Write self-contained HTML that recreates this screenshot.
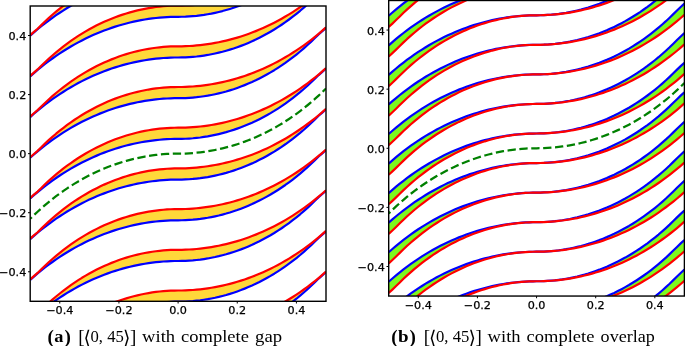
<!DOCTYPE html>
<html><head><meta charset="utf-8"><title>figure</title>
<style>
html,body{margin:0;padding:0;background:#fff}
body{width:685px;height:346px;overflow:hidden;position:relative}
svg{position:absolute;left:0;top:0;display:block}
.tl{font-family:"DejaVu Sans","Liberation Sans",sans-serif;font-size:10.5px;fill:#000;stroke:#000;stroke-width:0.25}
.tk{stroke:#000;stroke-width:1}
.sp{fill:none;stroke:#000;stroke-width:1.4}
.bl{fill:none;stroke:#0000ff;stroke-width:2.2;stroke-linejoin:round}
.rd{fill:none;stroke:#ff0000;stroke-width:2.2;stroke-linejoin:round}
.gd{fill:none;stroke:#008000;stroke-width:2.25;stroke-dasharray:8.3 3.6;stroke-dashoffset:6}
.cap{font-family:"Liberation Serif",serif;font-size:16.8px;fill:#000}
.cap .big{font-size:19px}
.cap .ang{font-family:"DejaVu Sans",sans-serif;font-size:19px}
.cap .b{font-weight:bold}
</style></head><body>
<svg width="685" height="346" viewBox="0 0 685 346">
<rect width="685" height="346" fill="#fff"/>
<clipPath id="cl"><rect x="30.20" y="6.00" width="295.80" height="295.30"/></clipPath><g clip-path="url(#cl)"><path fill="#ffd83a" d="M30.2 442.16 L33.9 438.9 L37.6 435.75 L41.29 432.12 L44.99 428.53 L48.69 425.08 L52.39 421.78 L56.08 418.62 L59.78 415.58 L63.48 412.67 L67.17 409.89 L70.87 407.23 L74.57 404.68 L78.27 402.24 L81.97 399.92 L85.66 397.7 L89.36 395.58 L93.06 393.57 L96.75 391.66 L100.45 389.85 L104.15 388.13 L107.85 386.5 L111.55 384.97 L115.24 383.53 L118.94 382.18 L122.64 380.91 L126.34 379.74 L130.03 378.65 L133.73 377.64 L137.43 376.72 L141.12 375.88 L144.82 375.12 L148.52 374.45 L152.22 373.85 L155.92 373.34 L159.61 372.9 L163.31 372.55 L167.01 372.27 L170.71 372.08 L174.4 371.96 L178.1 371.92 L181.8 371.88 L185.5 371.78 L189.19 371.62 L192.89 371.38 L196.59 371.08 L200.29 370.71 L203.98 370.27 L207.68 369.76 L211.38 369.18 L215.07 368.54 L218.77 367.82 L222.47 367.04 L226.17 366.18 L229.87 365.26 L233.56 364.26 L237.26 363.19 L240.96 362.04 L244.66 360.82 L248.35 359.53 L252.05 358.16 L255.75 356.71 L259.44 355.18 L263.14 353.58 L266.84 351.89 L270.54 350.12 L274.24 348.27 L277.93 346.33 L281.63 344.3 L285.33 342.18 L289.02 339.98 L292.72 337.68 L296.42 335.28 L300.12 332.79 L303.81 330.19 L307.51 327.49 L311.21 324.69 L314.91 321.78 L318.61 318.75 L322.3 315.61 L326 312.35 L326 312.85 L322.3 316.11 L318.61 319.25 L314.91 322.89 L311.21 326.48 L307.51 329.92 L303.81 333.23 L300.12 336.39 L296.42 339.43 L292.72 342.33 L289.02 345.12 L285.33 347.78 L281.63 350.33 L277.93 352.77 L274.24 355.09 L270.54 357.31 L266.84 359.42 L263.14 361.44 L259.44 363.35 L255.75 365.16 L252.05 366.88 L248.35 368.5 L244.66 370.04 L240.96 371.48 L237.26 372.83 L233.56 374.09 L229.87 375.27 L226.17 376.36 L222.47 377.37 L218.77 378.29 L215.07 379.13 L211.38 379.88 L207.68 380.56 L203.98 381.15 L200.29 381.67 L196.59 382.1 L192.89 382.46 L189.19 382.73 L185.5 382.93 L181.8 383.05 L178.1 383.09 L174.4 383.12 L170.71 383.22 L167.01 383.39 L163.31 383.63 L159.61 383.93 L155.92 384.3 L152.22 384.74 L148.52 385.25 L144.82 385.82 L141.12 386.47 L137.43 387.18 L133.73 387.97 L130.03 388.82 L126.34 389.75 L122.64 390.75 L118.94 391.82 L115.24 392.96 L111.55 394.18 L107.85 395.48 L104.15 396.85 L100.45 398.3 L96.75 399.82 L93.06 401.43 L89.36 403.12 L85.66 404.89 L81.97 406.74 L78.27 408.68 L74.57 410.71 L70.87 412.82 L67.17 415.03 L63.48 417.33 L59.78 419.73 L56.08 422.22 L52.39 424.82 L48.69 427.51 L44.99 430.32 L41.29 433.23 L37.6 436.25 L33.9 439.4 L30.2 442.66Z M30.2 401.46 L33.9 398.2 L37.6 395.05 L41.29 391.42 L44.99 387.83 L48.69 384.38 L52.39 381.08 L56.08 377.91 L59.78 374.88 L63.48 371.97 L67.17 369.19 L70.87 366.52 L74.57 363.98 L78.27 361.54 L81.97 359.22 L85.66 357 L89.36 354.88 L93.06 352.87 L96.75 350.96 L100.45 349.14 L104.15 347.43 L107.85 345.8 L111.55 344.27 L115.24 342.83 L118.94 341.48 L122.64 340.21 L126.34 339.04 L130.03 337.95 L133.73 336.94 L137.43 336.02 L141.12 335.18 L144.82 334.42 L148.52 333.75 L152.22 333.15 L155.92 332.64 L159.61 332.2 L163.31 331.85 L167.01 331.57 L170.71 331.37 L174.4 331.26 L178.1 331.22 L181.8 331.18 L185.5 331.08 L189.19 330.91 L192.89 330.68 L196.59 330.38 L200.29 330.01 L203.98 329.57 L207.68 329.06 L211.38 328.48 L215.07 327.84 L218.77 327.12 L222.47 326.34 L226.17 325.48 L229.87 324.56 L233.56 323.56 L237.26 322.49 L240.96 321.34 L244.66 320.12 L248.35 318.83 L252.05 317.46 L255.75 316.01 L259.44 314.48 L263.14 312.88 L266.84 311.19 L270.54 309.42 L274.24 307.57 L277.93 305.63 L281.63 303.6 L285.33 301.48 L289.02 299.28 L292.72 296.97 L296.42 294.58 L300.12 292.08 L303.81 289.49 L307.51 286.79 L311.21 283.99 L314.91 281.08 L318.61 278.05 L322.3 274.91 L326 271.65 L326 272.15 L322.3 275.41 L318.61 278.55 L314.91 282.19 L311.21 285.78 L307.51 289.22 L303.81 292.53 L300.12 295.69 L296.42 298.73 L292.72 301.63 L289.02 304.42 L285.33 307.08 L281.63 309.63 L277.93 312.06 L274.24 314.39 L270.54 316.61 L266.84 318.72 L263.14 320.73 L259.44 322.65 L255.75 324.46 L252.05 326.18 L248.35 327.8 L244.66 329.34 L240.96 330.78 L237.26 332.13 L233.56 333.39 L229.87 334.57 L226.17 335.66 L222.47 336.66 L218.77 337.59 L215.07 338.43 L211.38 339.18 L207.68 339.86 L203.98 340.45 L200.29 340.97 L196.59 341.4 L192.89 341.76 L189.19 342.03 L185.5 342.23 L181.8 342.35 L178.1 342.39 L174.4 342.42 L170.71 342.52 L167.01 342.69 L163.31 342.93 L159.61 343.23 L155.92 343.6 L152.22 344.04 L148.52 344.55 L144.82 345.12 L141.12 345.77 L137.43 346.48 L133.73 347.27 L130.03 348.12 L126.34 349.05 L122.64 350.05 L118.94 351.12 L115.24 352.26 L111.55 353.48 L107.85 354.78 L104.15 356.15 L100.45 357.6 L96.75 359.12 L93.06 360.73 L89.36 362.42 L85.66 364.19 L81.97 366.04 L78.27 367.98 L74.57 370.01 L70.87 372.12 L67.17 374.33 L63.48 376.63 L59.78 379.03 L56.08 381.52 L52.39 384.12 L48.69 386.81 L44.99 389.62 L41.29 392.53 L37.6 395.55 L33.9 398.7 L30.2 401.96Z M30.2 360.76 L33.9 357.49 L37.6 354.35 L41.29 350.71 L44.99 347.13 L48.69 343.68 L52.39 340.38 L56.08 337.21 L59.78 334.18 L63.48 331.27 L67.17 328.49 L70.87 325.82 L74.57 323.28 L78.27 320.84 L81.97 318.51 L85.66 316.3 L89.36 314.18 L93.06 312.17 L96.75 310.26 L100.45 308.44 L104.15 306.73 L107.85 305.1 L111.55 303.57 L115.24 302.13 L118.94 300.78 L122.64 299.51 L126.34 298.34 L130.03 297.25 L133.73 296.24 L137.43 295.32 L141.12 294.48 L144.82 293.72 L148.52 293.05 L152.22 292.45 L155.92 291.94 L159.61 291.5 L163.31 291.15 L167.01 290.87 L170.71 290.67 L174.4 290.56 L178.1 290.52 L181.8 290.48 L185.5 290.38 L189.19 290.21 L192.89 289.98 L196.59 289.68 L200.29 289.3 L203.98 288.87 L207.68 288.36 L211.38 287.78 L215.07 287.14 L218.77 286.42 L222.47 285.64 L226.17 284.78 L229.87 283.86 L233.56 282.86 L237.26 281.79 L240.96 280.64 L244.66 279.42 L248.35 278.13 L252.05 276.76 L255.75 275.31 L259.44 273.78 L263.14 272.18 L266.84 270.49 L270.54 268.72 L274.24 266.86 L277.93 264.93 L281.63 262.9 L285.33 260.78 L289.02 258.57 L292.72 256.27 L296.42 253.88 L300.12 251.38 L303.81 248.79 L307.51 246.09 L311.21 243.29 L314.91 240.38 L318.61 237.35 L322.3 234.21 L326 230.95 L326 231.45 L322.3 234.71 L318.61 237.85 L314.91 241.49 L311.21 245.08 L307.51 248.52 L303.81 251.82 L300.12 254.99 L296.42 258.02 L292.72 260.93 L289.02 263.72 L285.33 266.38 L281.63 268.93 L277.93 271.36 L274.24 273.69 L270.54 275.91 L266.84 278.02 L263.14 280.03 L259.44 281.95 L255.75 283.76 L252.05 285.48 L248.35 287.1 L244.66 288.63 L240.96 290.08 L237.26 291.43 L233.56 292.69 L229.87 293.87 L226.17 294.96 L222.47 295.96 L218.77 296.89 L215.07 297.73 L211.38 298.48 L207.68 299.16 L203.98 299.75 L200.29 300.27 L196.59 300.7 L192.89 301.06 L189.19 301.33 L185.5 301.53 L181.8 301.65 L178.1 301.69 L174.4 301.72 L170.71 301.82 L167.01 301.99 L163.31 302.23 L159.61 302.53 L155.92 302.9 L152.22 303.34 L148.52 303.85 L144.82 304.42 L141.12 305.07 L137.43 305.78 L133.73 306.57 L130.03 307.42 L126.34 308.35 L122.64 309.35 L118.94 310.42 L115.24 311.56 L111.55 312.78 L107.85 314.08 L104.15 315.45 L100.45 316.9 L96.75 318.42 L93.06 320.03 L89.36 321.72 L85.66 323.49 L81.97 325.34 L78.27 327.28 L74.57 329.31 L70.87 331.42 L67.17 333.63 L63.48 335.93 L59.78 338.33 L56.08 340.82 L52.39 343.41 L48.69 346.11 L44.99 348.92 L41.29 351.83 L37.6 354.85 L33.9 357.99 L30.2 361.26Z M30.2 320.06 L33.9 316.79 L37.6 313.65 L41.29 310.01 L44.99 306.42 L48.69 302.98 L52.39 299.68 L56.08 296.51 L59.78 293.48 L63.48 290.57 L67.17 287.79 L70.87 285.12 L74.57 282.58 L78.27 280.14 L81.97 277.81 L85.66 275.6 L89.36 273.48 L93.06 271.47 L96.75 269.56 L100.45 267.74 L104.15 266.03 L107.85 264.4 L111.55 262.87 L115.24 261.43 L118.94 260.08 L122.64 258.81 L126.34 257.64 L130.03 256.55 L133.73 255.54 L137.43 254.62 L141.12 253.78 L144.82 253.02 L148.52 252.34 L152.22 251.75 L155.92 251.24 L159.61 250.8 L163.31 250.45 L167.01 250.17 L170.71 249.97 L174.4 249.86 L178.1 249.82 L181.8 249.78 L185.5 249.68 L189.19 249.51 L192.89 249.28 L196.59 248.98 L200.29 248.6 L203.98 248.17 L207.68 247.66 L211.38 247.08 L215.07 246.44 L218.77 245.72 L222.47 244.94 L226.17 244.08 L229.87 243.16 L233.56 242.16 L237.26 241.09 L240.96 239.94 L244.66 238.72 L248.35 237.43 L252.05 236.06 L255.75 234.61 L259.44 233.08 L263.14 231.48 L266.84 229.79 L270.54 228.02 L274.24 226.16 L277.93 224.22 L281.63 222.2 L285.33 220.08 L289.02 217.87 L292.72 215.57 L296.42 213.18 L300.12 210.68 L303.81 208.09 L307.51 205.39 L311.21 202.59 L314.91 199.68 L318.61 196.65 L322.3 193.51 L326 190.25 L326 190.75 L322.3 194.01 L318.61 197.15 L314.91 200.79 L311.21 204.38 L307.51 207.82 L303.81 211.12 L300.12 214.29 L296.42 217.32 L292.72 220.23 L289.02 223.02 L285.33 225.68 L281.63 228.23 L277.93 230.66 L274.24 232.99 L270.54 235.21 L266.84 237.32 L263.14 239.33 L259.44 241.25 L255.75 243.06 L252.05 244.78 L248.35 246.4 L244.66 247.93 L240.96 249.38 L237.26 250.73 L233.56 251.99 L229.87 253.17 L226.17 254.26 L222.47 255.26 L218.77 256.19 L215.07 257.03 L211.38 257.78 L207.68 258.46 L203.98 259.05 L200.29 259.57 L196.59 260 L192.89 260.36 L189.19 260.63 L185.5 260.83 L181.8 260.95 L178.1 260.99 L174.4 261.02 L170.71 261.12 L167.01 261.29 L163.31 261.52 L159.61 261.83 L155.92 262.2 L152.22 262.64 L148.52 263.15 L144.82 263.72 L141.12 264.37 L137.43 265.08 L133.73 265.87 L130.03 266.72 L126.34 267.65 L122.64 268.65 L118.94 269.72 L115.24 270.86 L111.55 272.08 L107.85 273.38 L104.15 274.75 L100.45 276.19 L96.75 277.72 L93.06 279.33 L89.36 281.01 L85.66 282.78 L81.97 284.64 L78.27 286.58 L74.57 288.61 L70.87 290.72 L67.17 292.93 L63.48 295.23 L59.78 297.63 L56.08 300.12 L52.39 302.71 L48.69 305.41 L44.99 308.22 L41.29 311.13 L37.6 314.15 L33.9 317.29 L30.2 320.56Z M30.2 279.35 L33.9 276.09 L37.6 272.95 L41.29 269.31 L44.99 265.72 L48.69 262.28 L52.39 258.98 L56.08 255.81 L59.78 252.78 L63.48 249.87 L67.17 247.09 L70.87 244.42 L74.57 241.87 L78.27 239.44 L81.97 237.11 L85.66 234.89 L89.36 232.78 L93.06 230.77 L96.75 228.86 L100.45 227.04 L104.15 225.32 L107.85 223.7 L111.55 222.17 L115.24 220.73 L118.94 219.38 L122.64 218.11 L126.34 216.94 L130.03 215.84 L133.73 214.84 L137.43 213.92 L141.12 213.08 L144.82 212.32 L148.52 211.64 L152.22 211.05 L155.92 210.54 L159.61 210.1 L163.31 209.75 L167.01 209.47 L170.71 209.27 L174.4 209.15 L178.1 209.12 L181.8 209.08 L185.5 208.98 L189.19 208.81 L192.89 208.58 L196.59 208.27 L200.29 207.9 L203.98 207.46 L207.68 206.96 L211.38 206.38 L215.07 205.74 L218.77 205.02 L222.47 204.24 L226.17 203.38 L229.87 202.45 L233.56 201.46 L237.26 200.38 L240.96 199.24 L244.66 198.02 L248.35 196.73 L252.05 195.36 L255.75 193.91 L259.44 192.38 L263.14 190.77 L266.84 189.09 L270.54 187.32 L274.24 185.46 L277.93 183.52 L281.63 181.5 L285.33 179.38 L289.02 177.17 L292.72 174.87 L296.42 172.48 L300.12 169.98 L303.81 167.39 L307.51 164.69 L311.21 161.89 L314.91 158.97 L318.61 155.95 L322.3 152.81 L326 149.55 L326 150.05 L322.3 153.31 L318.61 156.45 L314.91 160.09 L311.21 163.68 L307.51 167.12 L303.81 170.42 L300.12 173.59 L296.42 176.62 L292.72 179.53 L289.02 182.31 L285.33 184.98 L281.63 187.53 L277.93 189.96 L274.24 192.29 L270.54 194.51 L266.84 196.62 L263.14 198.63 L259.44 200.54 L255.75 202.36 L252.05 204.08 L248.35 205.7 L244.66 207.23 L240.96 208.67 L237.26 210.03 L233.56 211.29 L229.87 212.47 L226.17 213.56 L222.47 214.56 L218.77 215.49 L215.07 216.32 L211.38 217.08 L207.68 217.76 L203.98 218.35 L200.29 218.87 L196.59 219.3 L192.89 219.66 L189.19 219.93 L185.5 220.13 L181.8 220.25 L178.1 220.29 L174.4 220.32 L170.71 220.42 L167.01 220.59 L163.31 220.82 L159.61 221.13 L155.92 221.5 L152.22 221.94 L148.52 222.44 L144.82 223.02 L141.12 223.67 L137.43 224.38 L133.73 225.17 L130.03 226.02 L126.34 226.95 L122.64 227.95 L118.94 229.02 L115.24 230.16 L111.55 231.38 L107.85 232.68 L104.15 234.05 L100.45 235.49 L96.75 237.02 L93.06 238.63 L89.36 240.31 L85.66 242.08 L81.97 243.94 L78.27 245.88 L74.57 247.9 L70.87 250.02 L67.17 252.23 L63.48 254.53 L59.78 256.93 L56.08 259.42 L52.39 262.01 L48.69 264.71 L44.99 267.51 L41.29 270.43 L37.6 273.45 L33.9 276.59 L30.2 279.85Z M30.2 238.65 L33.9 235.39 L37.6 232.25 L41.29 228.61 L44.99 225.02 L48.69 221.58 L52.39 218.28 L56.08 215.11 L59.78 212.08 L63.48 209.17 L67.17 206.39 L70.87 203.72 L74.57 201.17 L78.27 198.74 L81.97 196.41 L85.66 194.19 L89.36 192.08 L93.06 190.07 L96.75 188.16 L100.45 186.34 L104.15 184.62 L107.85 183 L111.55 181.47 L115.24 180.03 L118.94 178.68 L122.64 177.41 L126.34 176.24 L130.03 175.14 L133.73 174.14 L137.43 173.22 L141.12 172.38 L144.82 171.62 L148.52 170.94 L152.22 170.35 L155.92 169.83 L159.61 169.4 L163.31 169.04 L167.01 168.77 L170.71 168.57 L174.4 168.45 L178.1 168.41 L181.8 168.38 L185.5 168.28 L189.19 168.11 L192.89 167.88 L196.59 167.57 L200.29 167.2 L203.98 166.76 L207.68 166.26 L211.38 165.68 L215.07 165.04 L218.77 164.32 L222.47 163.54 L226.17 162.68 L229.87 161.75 L233.56 160.76 L237.26 159.68 L240.96 158.54 L244.66 157.32 L248.35 156.03 L252.05 154.66 L255.75 153.21 L259.44 151.68 L263.14 150.07 L266.84 148.39 L270.54 146.62 L274.24 144.76 L277.93 142.82 L281.63 140.8 L285.33 138.68 L289.02 136.47 L292.72 134.17 L296.42 131.78 L300.12 129.28 L303.81 126.69 L307.51 123.99 L311.21 121.19 L314.91 118.27 L318.61 115.25 L322.3 112.11 L326 108.85 L326 109.35 L322.3 112.61 L318.61 115.75 L314.91 119.39 L311.21 122.98 L307.51 126.42 L303.81 129.72 L300.12 132.89 L296.42 135.92 L292.72 138.83 L289.02 141.61 L285.33 144.28 L281.63 146.83 L277.93 149.26 L274.24 151.59 L270.54 153.81 L266.84 155.92 L263.14 157.93 L259.44 159.84 L255.75 161.66 L252.05 163.38 L248.35 165 L244.66 166.53 L240.96 167.97 L237.26 169.33 L233.56 170.59 L229.87 171.77 L226.17 172.86 L222.47 173.86 L218.77 174.78 L215.07 175.62 L211.38 176.38 L207.68 177.06 L203.98 177.65 L200.29 178.17 L196.59 178.6 L192.89 178.96 L189.19 179.23 L185.5 179.43 L181.8 179.55 L178.1 179.59 L174.4 179.62 L170.71 179.72 L167.01 179.89 L163.31 180.12 L159.61 180.43 L155.92 180.8 L152.22 181.24 L148.52 181.74 L144.82 182.32 L141.12 182.97 L137.43 183.68 L133.73 184.46 L130.03 185.32 L126.34 186.25 L122.64 187.25 L118.94 188.32 L115.24 189.46 L111.55 190.68 L107.85 191.97 L104.15 193.35 L100.45 194.79 L96.75 196.32 L93.06 197.93 L89.36 199.61 L85.66 201.38 L81.97 203.24 L78.27 205.18 L74.57 207.2 L70.87 209.32 L67.17 211.53 L63.48 213.83 L59.78 216.22 L56.08 218.72 L52.39 221.31 L48.69 224.01 L44.99 226.81 L41.29 229.73 L37.6 232.75 L33.9 235.89 L30.2 239.15Z M30.2 197.95 L33.9 194.69 L37.6 191.55 L41.29 187.91 L44.99 184.32 L48.69 180.88 L52.39 177.58 L56.08 174.41 L59.78 171.38 L63.48 168.47 L67.17 165.69 L70.87 163.02 L74.57 160.47 L78.27 158.04 L81.97 155.71 L85.66 153.49 L89.36 151.38 L93.06 149.37 L96.75 147.46 L100.45 145.64 L104.15 143.92 L107.85 142.3 L111.55 140.77 L115.24 139.33 L118.94 137.97 L122.64 136.71 L126.34 135.53 L130.03 134.44 L133.73 133.44 L137.43 132.52 L141.12 131.68 L144.82 130.92 L148.52 130.24 L152.22 129.65 L155.92 129.13 L159.61 128.7 L163.31 128.34 L167.01 128.07 L170.71 127.87 L174.4 127.75 L178.1 127.71 L181.8 127.68 L185.5 127.58 L189.19 127.41 L192.89 127.18 L196.59 126.87 L200.29 126.5 L203.98 126.06 L207.68 125.56 L211.38 124.98 L215.07 124.33 L218.77 123.62 L222.47 122.84 L226.17 121.98 L229.87 121.05 L233.56 120.05 L237.26 118.98 L240.96 117.84 L244.66 116.62 L248.35 115.33 L252.05 113.95 L255.75 112.51 L259.44 110.98 L263.14 109.37 L266.84 107.69 L270.54 105.92 L274.24 104.06 L277.93 102.12 L281.63 100.1 L285.33 97.98 L289.02 95.77 L292.72 93.47 L296.42 91.08 L300.12 88.58 L303.81 85.99 L307.51 83.29 L311.21 80.49 L314.91 77.57 L318.61 74.55 L322.3 71.41 L326 68.15 L326 68.65 L322.3 71.91 L318.61 75.05 L314.91 78.69 L311.21 82.28 L307.51 85.72 L303.81 89.02 L300.12 92.19 L296.42 95.22 L292.72 98.13 L289.02 100.91 L285.33 103.58 L281.63 106.13 L277.93 108.56 L274.24 110.89 L270.54 113.11 L266.84 115.22 L263.14 117.23 L259.44 119.14 L255.75 120.96 L252.05 122.68 L248.35 124.3 L244.66 125.83 L240.96 127.27 L237.26 128.62 L233.56 129.89 L229.87 131.06 L226.17 132.16 L222.47 133.16 L218.77 134.08 L215.07 134.92 L211.38 135.68 L207.68 136.36 L203.98 136.95 L200.29 137.47 L196.59 137.9 L192.89 138.26 L189.19 138.53 L185.5 138.73 L181.8 138.85 L178.1 138.88 L174.4 138.92 L170.71 139.02 L167.01 139.19 L163.31 139.42 L159.61 139.73 L155.92 140.1 L152.22 140.54 L148.52 141.04 L144.82 141.62 L141.12 142.26 L137.43 142.98 L133.73 143.76 L130.03 144.62 L126.34 145.55 L122.64 146.54 L118.94 147.62 L115.24 148.76 L111.55 149.98 L107.85 151.27 L104.15 152.64 L100.45 154.09 L96.75 155.62 L93.06 157.23 L89.36 158.91 L85.66 160.68 L81.97 162.54 L78.27 164.48 L74.57 166.5 L70.87 168.62 L67.17 170.83 L63.48 173.13 L59.78 175.52 L56.08 178.02 L52.39 180.61 L48.69 183.31 L44.99 186.11 L41.29 189.03 L37.6 192.05 L33.9 195.19 L30.2 198.45Z M30.2 157.25 L33.9 153.99 L37.6 150.85 L41.29 147.21 L44.99 143.62 L48.69 140.18 L52.39 136.88 L56.08 133.71 L59.78 130.68 L63.48 127.77 L67.17 124.99 L70.87 122.32 L74.57 119.77 L78.27 117.34 L81.97 115.01 L85.66 112.79 L89.36 110.68 L93.06 108.67 L96.75 106.76 L100.45 104.94 L104.15 103.22 L107.85 101.6 L111.55 100.07 L115.24 98.63 L118.94 97.27 L122.64 96.01 L126.34 94.83 L130.03 93.74 L133.73 92.74 L137.43 91.81 L141.12 90.98 L144.82 90.22 L148.52 89.54 L152.22 88.95 L155.92 88.43 L159.61 88 L163.31 87.64 L167.01 87.37 L170.71 87.17 L174.4 87.05 L178.1 87.01 L181.8 86.98 L185.5 86.88 L189.19 86.71 L192.89 86.48 L196.59 86.17 L200.29 85.8 L203.98 85.36 L207.68 84.86 L211.38 84.28 L215.07 83.63 L218.77 82.92 L222.47 82.13 L226.17 81.28 L229.87 80.35 L233.56 79.35 L237.26 78.28 L240.96 77.14 L244.66 75.92 L248.35 74.62 L252.05 73.25 L255.75 71.81 L259.44 70.28 L263.14 68.67 L266.84 66.99 L270.54 65.22 L274.24 63.36 L277.93 61.42 L281.63 59.4 L285.33 57.28 L289.02 55.07 L292.72 52.77 L296.42 50.37 L300.12 47.88 L303.81 45.29 L307.51 42.59 L311.21 39.79 L314.91 36.87 L318.61 33.85 L322.3 30.71 L326 27.45 L326 27.95 L322.3 31.21 L318.61 34.35 L314.91 37.99 L311.21 41.58 L307.51 45.02 L303.81 48.32 L300.12 51.49 L296.42 54.52 L292.72 57.43 L289.02 60.21 L285.33 62.88 L281.63 65.43 L277.93 67.86 L274.24 70.19 L270.54 72.41 L266.84 74.52 L263.14 76.53 L259.44 78.44 L255.75 80.26 L252.05 81.98 L248.35 83.6 L244.66 85.13 L240.96 86.57 L237.26 87.92 L233.56 89.19 L229.87 90.36 L226.17 91.46 L222.47 92.46 L218.77 93.38 L215.07 94.22 L211.38 94.98 L207.68 95.66 L203.98 96.25 L200.29 96.76 L196.59 97.2 L192.89 97.55 L189.19 97.83 L185.5 98.03 L181.8 98.15 L178.1 98.18 L174.4 98.22 L170.71 98.32 L167.01 98.49 L163.31 98.72 L159.61 99.03 L155.92 99.4 L152.22 99.84 L148.52 100.34 L144.82 100.92 L141.12 101.56 L137.43 102.28 L133.73 103.06 L130.03 103.92 L126.34 104.85 L122.64 105.84 L118.94 106.92 L115.24 108.06 L111.55 109.28 L107.85 110.57 L104.15 111.94 L100.45 113.39 L96.75 114.92 L93.06 116.53 L89.36 118.21 L85.66 119.98 L81.97 121.84 L78.27 123.78 L74.57 125.8 L70.87 127.92 L67.17 130.13 L63.48 132.43 L59.78 134.82 L56.08 137.32 L52.39 139.91 L48.69 142.61 L44.99 145.41 L41.29 148.33 L37.6 151.35 L33.9 154.49 L30.2 157.75Z M30.2 116.55 L33.9 113.29 L37.6 110.15 L41.29 106.51 L44.99 102.92 L48.69 99.48 L52.39 96.18 L56.08 93.01 L59.78 89.98 L63.48 87.07 L67.17 84.28 L70.87 81.62 L74.57 79.07 L78.27 76.64 L81.97 74.31 L85.66 72.09 L89.36 69.98 L93.06 67.97 L96.75 66.05 L100.45 64.24 L104.15 62.52 L107.85 60.9 L111.55 59.37 L115.24 57.92 L118.94 56.57 L122.64 55.31 L126.34 54.13 L130.03 53.04 L133.73 52.04 L137.43 51.11 L141.12 50.27 L144.82 49.52 L148.52 48.84 L152.22 48.25 L155.92 47.73 L159.61 47.3 L163.31 46.94 L167.01 46.67 L170.71 46.47 L174.4 46.35 L178.1 46.31 L181.8 46.28 L185.5 46.18 L189.19 46.01 L192.89 45.78 L196.59 45.47 L200.29 45.1 L203.98 44.66 L207.68 44.15 L211.38 43.58 L215.07 42.93 L218.77 42.22 L222.47 41.43 L226.17 40.58 L229.87 39.65 L233.56 38.65 L237.26 37.58 L240.96 36.44 L244.66 35.22 L248.35 33.92 L252.05 32.55 L255.75 31.11 L259.44 29.58 L263.14 27.97 L266.84 26.29 L270.54 24.52 L274.24 22.66 L277.93 20.72 L281.63 18.69 L285.33 16.58 L289.02 14.37 L292.72 12.07 L296.42 9.67 L300.12 7.18 L303.81 4.59 L307.51 1.89 L311.21 -0.92 L314.91 -3.83 L318.61 -6.85 L322.3 -9.99 L326 -13.26 L326 -12.76 L322.3 -9.49 L318.61 -6.35 L314.91 -2.71 L311.21 0.88 L307.51 4.32 L303.81 7.62 L300.12 10.79 L296.42 13.82 L292.72 16.73 L289.02 19.51 L285.33 22.18 L281.63 24.72 L277.93 27.16 L274.24 29.49 L270.54 31.7 L266.84 33.82 L263.14 35.83 L259.44 37.74 L255.75 39.56 L252.05 41.27 L248.35 42.9 L244.66 44.43 L240.96 45.87 L237.26 47.22 L233.56 48.49 L229.87 49.66 L226.17 50.75 L222.47 51.76 L218.77 52.68 L215.07 53.52 L211.38 54.28 L207.68 54.96 L203.98 55.55 L200.29 56.06 L196.59 56.5 L192.89 56.85 L189.19 57.13 L185.5 57.33 L181.8 57.44 L178.1 57.48 L174.4 57.52 L170.71 57.62 L167.01 57.79 L163.31 58.02 L159.61 58.32 L155.92 58.7 L152.22 59.13 L148.52 59.64 L144.82 60.22 L141.12 60.86 L137.43 61.58 L133.73 62.36 L130.03 63.22 L126.34 64.14 L122.64 65.14 L118.94 66.21 L115.24 67.36 L111.55 68.58 L107.85 69.87 L104.15 71.24 L100.45 72.69 L96.75 74.22 L93.06 75.82 L89.36 77.51 L85.66 79.28 L81.97 81.14 L78.27 83.08 L74.57 85.1 L70.87 87.22 L67.17 89.43 L63.48 91.73 L59.78 94.12 L56.08 96.62 L52.39 99.21 L48.69 101.91 L44.99 104.71 L41.29 107.62 L37.6 110.65 L33.9 113.79 L30.2 117.05Z M30.2 75.85 L33.9 72.59 L37.6 69.45 L41.29 65.81 L44.99 62.22 L48.69 58.78 L52.39 55.48 L56.08 52.31 L59.78 49.28 L63.48 46.37 L67.17 43.58 L70.87 40.92 L74.57 38.37 L78.27 35.94 L81.97 33.61 L85.66 31.39 L89.36 29.28 L93.06 27.27 L96.75 25.35 L100.45 23.54 L104.15 21.82 L107.85 20.2 L111.55 18.67 L115.24 17.22 L118.94 15.87 L122.64 14.61 L126.34 13.43 L130.03 12.34 L133.73 11.34 L137.43 10.41 L141.12 9.57 L144.82 8.82 L148.52 8.14 L152.22 7.55 L155.92 7.03 L159.61 6.6 L163.31 6.24 L167.01 5.97 L170.71 5.77 L174.4 5.65 L178.1 5.61 L181.8 5.58 L185.5 5.48 L189.19 5.31 L192.89 5.07 L196.59 4.77 L200.29 4.4 L203.98 3.96 L207.68 3.45 L211.38 2.88 L215.07 2.23 L218.77 1.52 L222.47 0.73 L226.17 -0.12 L229.87 -1.05 L233.56 -2.05 L237.26 -3.12 L240.96 -4.26 L244.66 -5.48 L248.35 -6.78 L252.05 -8.15 L255.75 -9.6 L259.44 -11.12 L263.14 -12.73 L266.84 -14.42 L270.54 -16.19 L274.24 -18.04 L277.93 -19.98 L281.63 -22.01 L285.33 -24.12 L289.02 -26.33 L292.72 -28.63 L296.42 -31.03 L300.12 -33.52 L303.81 -36.11 L307.51 -38.81 L311.21 -41.62 L314.91 -44.53 L318.61 -47.55 L322.3 -50.69 L326 -53.96 L326 -53.46 L322.3 -50.19 L318.61 -47.05 L314.91 -43.41 L311.21 -39.83 L307.51 -36.38 L303.81 -33.08 L300.12 -29.91 L296.42 -26.88 L292.72 -23.97 L289.02 -21.19 L285.33 -18.52 L281.63 -15.98 L277.93 -13.54 L274.24 -11.21 L270.54 -9 L266.84 -6.88 L263.14 -4.87 L259.44 -2.96 L255.75 -1.14 L252.05 0.57 L248.35 2.2 L244.66 3.73 L240.96 5.17 L237.26 6.52 L233.56 7.79 L229.87 8.96 L226.17 10.05 L222.47 11.06 L218.77 11.98 L215.07 12.82 L211.38 13.58 L207.68 14.25 L203.98 14.85 L200.29 15.36 L196.59 15.8 L192.89 16.15 L189.19 16.43 L185.5 16.63 L181.8 16.74 L178.1 16.78 L174.4 16.82 L170.71 16.92 L167.01 17.09 L163.31 17.32 L159.61 17.62 L155.92 18 L152.22 18.43 L148.52 18.94 L144.82 19.52 L141.12 20.16 L137.43 20.88 L133.73 21.66 L130.03 22.52 L126.34 23.44 L122.64 24.44 L118.94 25.51 L115.24 26.66 L111.55 27.88 L107.85 29.17 L104.15 30.54 L100.45 31.99 L96.75 33.52 L93.06 35.12 L89.36 36.81 L85.66 38.58 L81.97 40.44 L78.27 42.37 L74.57 44.4 L70.87 46.52 L67.17 48.73 L63.48 51.03 L59.78 53.42 L56.08 55.92 L52.39 58.51 L48.69 61.21 L44.99 64.01 L41.29 66.92 L37.6 69.95 L33.9 73.09 L30.2 76.35Z M30.2 35.15 L33.9 31.89 L37.6 28.75 L41.29 25.11 L44.99 21.52 L48.69 18.08 L52.39 14.77 L56.08 11.61 L59.78 8.57 L63.48 5.67 L67.17 2.88 L70.87 0.22 L74.57 -2.33 L78.27 -4.76 L81.97 -7.09 L85.66 -9.31 L89.36 -11.42 L93.06 -13.43 L96.75 -15.35 L100.45 -17.16 L104.15 -18.88 L107.85 -20.5 L111.55 -22.04 L115.24 -23.48 L118.94 -24.83 L122.64 -26.09 L126.34 -27.27 L130.03 -28.36 L133.73 -29.36 L137.43 -30.29 L141.12 -31.13 L144.82 -31.88 L148.52 -32.56 L152.22 -33.15 L155.92 -33.67 L159.61 -34.1 L163.31 -34.46 L167.01 -34.73 L170.71 -34.93 L174.4 -35.05 L178.1 -35.09 L181.8 -35.12 L185.5 -35.22 L189.19 -35.39 L192.89 -35.63 L196.59 -35.93 L200.29 -36.3 L203.98 -36.74 L207.68 -37.25 L211.38 -37.82 L215.07 -38.47 L218.77 -39.18 L222.47 -39.97 L226.17 -40.82 L229.87 -41.75 L233.56 -42.75 L237.26 -43.82 L240.96 -44.96 L244.66 -46.18 L248.35 -47.48 L252.05 -48.85 L255.75 -50.3 L259.44 -51.82 L263.14 -53.43 L266.84 -55.12 L270.54 -56.89 L274.24 -58.74 L277.93 -60.68 L281.63 -62.71 L285.33 -64.82 L289.02 -67.03 L292.72 -69.33 L296.42 -71.73 L300.12 -74.22 L303.81 -76.82 L307.51 -79.51 L311.21 -82.32 L314.91 -85.23 L318.61 -88.25 L322.3 -91.4 L326 -94.66 L326 -94.16 L322.3 -90.9 L318.61 -87.75 L314.91 -84.12 L311.21 -80.53 L307.51 -77.08 L303.81 -73.78 L300.12 -70.61 L296.42 -67.58 L292.72 -64.67 L289.02 -61.89 L285.33 -59.22 L281.63 -56.68 L277.93 -54.24 L274.24 -51.92 L270.54 -49.7 L266.84 -47.58 L263.14 -45.57 L259.44 -43.66 L255.75 -41.84 L252.05 -40.13 L248.35 -38.5 L244.66 -36.97 L240.96 -35.53 L237.26 -34.18 L233.56 -32.91 L229.87 -31.74 L226.17 -30.65 L222.47 -29.64 L218.77 -28.72 L215.07 -27.88 L211.38 -27.12 L207.68 -26.45 L203.98 -25.85 L200.29 -25.34 L196.59 -24.9 L192.89 -24.55 L189.19 -24.27 L185.5 -24.07 L181.8 -23.96 L178.1 -23.92 L174.4 -23.88 L170.71 -23.78 L167.01 -23.61 L163.31 -23.38 L159.61 -23.08 L155.92 -22.71 L152.22 -22.27 L148.52 -21.76 L144.82 -21.18 L141.12 -20.54 L137.43 -19.82 L133.73 -19.04 L130.03 -18.18 L126.34 -17.26 L122.64 -16.26 L118.94 -15.19 L115.24 -14.04 L111.55 -12.82 L107.85 -11.53 L104.15 -10.16 L100.45 -8.71 L96.75 -7.18 L93.06 -5.58 L89.36 -3.89 L85.66 -2.12 L81.97 -0.27 L78.27 1.67 L74.57 3.7 L70.87 5.82 L67.17 8.02 L63.48 10.33 L59.78 12.72 L56.08 15.22 L52.39 17.81 L48.69 20.51 L44.99 23.31 L41.29 26.22 L37.6 29.25 L33.9 32.39 L30.2 35.65Z M30.2 -5.55 L33.9 -8.81 L37.6 -11.95 L41.29 -15.59 L44.99 -19.18 L48.69 -22.62 L52.39 -25.93 L56.08 -29.09 L59.78 -32.13 L63.48 -35.03 L67.17 -37.82 L70.87 -40.48 L74.57 -43.03 L78.27 -45.47 L81.97 -47.79 L85.66 -50.01 L89.36 -52.12 L93.06 -54.14 L96.75 -56.05 L100.45 -57.86 L104.15 -59.58 L107.85 -61.2 L111.55 -62.74 L115.24 -64.18 L118.94 -65.53 L122.64 -66.79 L126.34 -67.97 L130.03 -69.06 L133.73 -70.07 L137.43 -70.99 L141.12 -71.83 L144.82 -72.58 L148.52 -73.26 L152.22 -73.85 L155.92 -74.37 L159.61 -74.8 L163.31 -75.16 L167.01 -75.43 L170.71 -75.63 L174.4 -75.75 L178.1 -75.79 L181.8 -75.82 L185.5 -75.92 L189.19 -76.09 L192.89 -76.33 L196.59 -76.63 L200.29 -77 L203.98 -77.44 L207.68 -77.95 L211.38 -78.52 L215.07 -79.17 L218.77 -79.88 L222.47 -80.67 L226.17 -81.52 L229.87 -82.45 L233.56 -83.45 L237.26 -84.52 L240.96 -85.66 L244.66 -86.88 L248.35 -88.18 L252.05 -89.55 L255.75 -91 L259.44 -92.52 L263.14 -94.13 L266.84 -95.82 L270.54 -97.59 L274.24 -99.44 L277.93 -101.38 L281.63 -103.41 L285.33 -105.52 L289.02 -107.73 L292.72 -110.03 L296.42 -112.43 L300.12 -114.92 L303.81 -117.52 L307.51 -120.21 L311.21 -123.02 L314.91 -125.93 L318.61 -128.95 L322.3 -132.1 L326 -135.36 L326 -134.86 L322.3 -131.6 L318.61 -128.45 L314.91 -124.82 L311.21 -121.23 L307.51 -117.78 L303.81 -114.48 L300.12 -111.32 L296.42 -108.28 L292.72 -105.37 L289.02 -102.59 L285.33 -99.93 L281.63 -97.38 L277.93 -94.94 L274.24 -92.62 L270.54 -90.4 L266.84 -88.28 L263.14 -86.27 L259.44 -84.36 L255.75 -82.55 L252.05 -80.83 L248.35 -79.2 L244.66 -77.67 L240.96 -76.23 L237.26 -74.88 L233.56 -73.61 L229.87 -72.44 L226.17 -71.35 L222.47 -70.34 L218.77 -69.42 L215.07 -68.58 L211.38 -67.82 L207.68 -67.15 L203.98 -66.55 L200.29 -66.04 L196.59 -65.6 L192.89 -65.25 L189.19 -64.97 L185.5 -64.78 L181.8 -64.66 L178.1 -64.62 L174.4 -64.58 L170.71 -64.48 L167.01 -64.32 L163.31 -64.08 L159.61 -63.78 L155.92 -63.41 L152.22 -62.97 L148.52 -62.46 L144.82 -61.88 L141.12 -61.24 L137.43 -60.52 L133.73 -59.74 L130.03 -58.88 L126.34 -57.96 L122.64 -56.96 L118.94 -55.89 L115.24 -54.74 L111.55 -53.52 L107.85 -52.23 L104.15 -50.86 L100.45 -49.41 L96.75 -47.88 L93.06 -46.28 L89.36 -44.59 L85.66 -42.82 L81.97 -40.97 L78.27 -39.03 L74.57 -37 L70.87 -34.88 L67.17 -32.68 L63.48 -30.38 L59.78 -27.98 L56.08 -25.49 L52.39 -22.89 L48.69 -20.19 L44.99 -17.39 L41.29 -14.48 L37.6 -11.45 L33.9 -8.31 L30.2 -5.05Z"/><path class="bl" d="M30.2 442.66 L33.9 439.4 L37.6 436.25 L41.29 433.23 L44.99 430.32 L48.69 427.51 L52.39 424.82 L56.08 422.22 L59.78 419.73 L63.48 417.33 L67.17 415.03 L70.87 412.82 L74.57 410.71 L78.27 408.68 L81.97 406.74 L85.66 404.89 L89.36 403.12 L93.06 401.43 L96.75 399.82 L100.45 398.3 L104.15 396.85 L107.85 395.48 L111.55 394.18 L115.24 392.96 L118.94 391.82 L122.64 390.75 L126.34 389.75 L130.03 388.82 L133.73 387.97 L137.43 387.18 L141.12 386.47 L144.82 385.82 L148.52 385.25 L152.22 384.74 L155.92 384.3 L159.61 383.93 L163.31 383.63 L167.01 383.39 L170.71 383.22 L174.4 383.12 L178.1 383.09 L181.8 383.05 L185.5 382.93 L189.19 382.73 L192.89 382.46 L196.59 382.1 L200.29 381.67 L203.98 381.15 L207.68 380.56 L211.38 379.88 L215.07 379.13 L218.77 378.29 L222.47 377.37 L226.17 376.36 L229.87 375.27 L233.56 374.09 L237.26 372.83 L240.96 371.48 L244.66 370.04 L248.35 368.5 L252.05 366.88 L255.75 365.16 L259.44 363.35 L263.14 361.44 L266.84 359.42 L270.54 357.31 L274.24 355.09 L277.93 352.77 L281.63 350.33 L285.33 347.78 L289.02 345.12 L292.72 342.33 L296.42 339.43 L300.12 336.39 L303.81 333.23 L307.51 329.92 L311.21 326.48 L314.91 322.89 L318.61 319.25 L322.3 316.11 L326 312.85 M30.2 401.96 L33.9 398.7 L37.6 395.55 L41.29 392.53 L44.99 389.62 L48.69 386.81 L52.39 384.12 L56.08 381.52 L59.78 379.03 L63.48 376.63 L67.17 374.33 L70.87 372.12 L74.57 370.01 L78.27 367.98 L81.97 366.04 L85.66 364.19 L89.36 362.42 L93.06 360.73 L96.75 359.12 L100.45 357.6 L104.15 356.15 L107.85 354.78 L111.55 353.48 L115.24 352.26 L118.94 351.12 L122.64 350.05 L126.34 349.05 L130.03 348.12 L133.73 347.27 L137.43 346.48 L141.12 345.77 L144.82 345.12 L148.52 344.55 L152.22 344.04 L155.92 343.6 L159.61 343.23 L163.31 342.93 L167.01 342.69 L170.71 342.52 L174.4 342.42 L178.1 342.39 L181.8 342.35 L185.5 342.23 L189.19 342.03 L192.89 341.76 L196.59 341.4 L200.29 340.97 L203.98 340.45 L207.68 339.86 L211.38 339.18 L215.07 338.43 L218.77 337.59 L222.47 336.66 L226.17 335.66 L229.87 334.57 L233.56 333.39 L237.26 332.13 L240.96 330.78 L244.66 329.34 L248.35 327.8 L252.05 326.18 L255.75 324.46 L259.44 322.65 L263.14 320.73 L266.84 318.72 L270.54 316.61 L274.24 314.39 L277.93 312.06 L281.63 309.63 L285.33 307.08 L289.02 304.42 L292.72 301.63 L296.42 298.73 L300.12 295.69 L303.81 292.53 L307.51 289.22 L311.21 285.78 L314.91 282.19 L318.61 278.55 L322.3 275.41 L326 272.15 M30.2 361.26 L33.9 357.99 L37.6 354.85 L41.29 351.83 L44.99 348.92 L48.69 346.11 L52.39 343.41 L56.08 340.82 L59.78 338.33 L63.48 335.93 L67.17 333.63 L70.87 331.42 L74.57 329.31 L78.27 327.28 L81.97 325.34 L85.66 323.49 L89.36 321.72 L93.06 320.03 L96.75 318.42 L100.45 316.9 L104.15 315.45 L107.85 314.08 L111.55 312.78 L115.24 311.56 L118.94 310.42 L122.64 309.35 L126.34 308.35 L130.03 307.42 L133.73 306.57 L137.43 305.78 L141.12 305.07 L144.82 304.42 L148.52 303.85 L152.22 303.34 L155.92 302.9 L159.61 302.53 L163.31 302.23 L167.01 301.99 L170.71 301.82 L174.4 301.72 L178.1 301.69 L181.8 301.65 L185.5 301.53 L189.19 301.33 L192.89 301.06 L196.59 300.7 L200.29 300.27 L203.98 299.75 L207.68 299.16 L211.38 298.48 L215.07 297.73 L218.77 296.89 L222.47 295.96 L226.17 294.96 L229.87 293.87 L233.56 292.69 L237.26 291.43 L240.96 290.08 L244.66 288.63 L248.35 287.1 L252.05 285.48 L255.75 283.76 L259.44 281.95 L263.14 280.03 L266.84 278.02 L270.54 275.91 L274.24 273.69 L277.93 271.36 L281.63 268.93 L285.33 266.38 L289.02 263.72 L292.72 260.93 L296.42 258.02 L300.12 254.99 L303.81 251.82 L307.51 248.52 L311.21 245.08 L314.91 241.49 L318.61 237.85 L322.3 234.71 L326 231.45 M30.2 320.56 L33.9 317.29 L37.6 314.15 L41.29 311.13 L44.99 308.22 L48.69 305.41 L52.39 302.71 L56.08 300.12 L59.78 297.63 L63.48 295.23 L67.17 292.93 L70.87 290.72 L74.57 288.61 L78.27 286.58 L81.97 284.64 L85.66 282.78 L89.36 281.01 L93.06 279.33 L96.75 277.72 L100.45 276.19 L104.15 274.75 L107.85 273.38 L111.55 272.08 L115.24 270.86 L118.94 269.72 L122.64 268.65 L126.34 267.65 L130.03 266.72 L133.73 265.87 L137.43 265.08 L141.12 264.37 L144.82 263.72 L148.52 263.15 L152.22 262.64 L155.92 262.2 L159.61 261.83 L163.31 261.52 L167.01 261.29 L170.71 261.12 L174.4 261.02 L178.1 260.99 L181.8 260.95 L185.5 260.83 L189.19 260.63 L192.89 260.36 L196.59 260 L200.29 259.57 L203.98 259.05 L207.68 258.46 L211.38 257.78 L215.07 257.03 L218.77 256.19 L222.47 255.26 L226.17 254.26 L229.87 253.17 L233.56 251.99 L237.26 250.73 L240.96 249.38 L244.66 247.93 L248.35 246.4 L252.05 244.78 L255.75 243.06 L259.44 241.25 L263.14 239.33 L266.84 237.32 L270.54 235.21 L274.24 232.99 L277.93 230.66 L281.63 228.23 L285.33 225.68 L289.02 223.02 L292.72 220.23 L296.42 217.32 L300.12 214.29 L303.81 211.12 L307.51 207.82 L311.21 204.38 L314.91 200.79 L318.61 197.15 L322.3 194.01 L326 190.75 M30.2 279.85 L33.9 276.59 L37.6 273.45 L41.29 270.43 L44.99 267.51 L48.69 264.71 L52.39 262.01 L56.08 259.42 L59.78 256.93 L63.48 254.53 L67.17 252.23 L70.87 250.02 L74.57 247.9 L78.27 245.88 L81.97 243.94 L85.66 242.08 L89.36 240.31 L93.06 238.63 L96.75 237.02 L100.45 235.49 L104.15 234.05 L107.85 232.68 L111.55 231.38 L115.24 230.16 L118.94 229.02 L122.64 227.95 L126.34 226.95 L130.03 226.02 L133.73 225.17 L137.43 224.38 L141.12 223.67 L144.82 223.02 L148.52 222.44 L152.22 221.94 L155.92 221.5 L159.61 221.13 L163.31 220.82 L167.01 220.59 L170.71 220.42 L174.4 220.32 L178.1 220.29 L181.8 220.25 L185.5 220.13 L189.19 219.93 L192.89 219.66 L196.59 219.3 L200.29 218.87 L203.98 218.35 L207.68 217.76 L211.38 217.08 L215.07 216.32 L218.77 215.49 L222.47 214.56 L226.17 213.56 L229.87 212.47 L233.56 211.29 L237.26 210.03 L240.96 208.67 L244.66 207.23 L248.35 205.7 L252.05 204.08 L255.75 202.36 L259.44 200.54 L263.14 198.63 L266.84 196.62 L270.54 194.51 L274.24 192.29 L277.93 189.96 L281.63 187.53 L285.33 184.98 L289.02 182.31 L292.72 179.53 L296.42 176.62 L300.12 173.59 L303.81 170.42 L307.51 167.12 L311.21 163.68 L314.91 160.09 L318.61 156.45 L322.3 153.31 L326 150.05 M30.2 239.15 L33.9 235.89 L37.6 232.75 L41.29 229.73 L44.99 226.81 L48.69 224.01 L52.39 221.31 L56.08 218.72 L59.78 216.22 L63.48 213.83 L67.17 211.53 L70.87 209.32 L74.57 207.2 L78.27 205.18 L81.97 203.24 L85.66 201.38 L89.36 199.61 L93.06 197.93 L96.75 196.32 L100.45 194.79 L104.15 193.35 L107.85 191.97 L111.55 190.68 L115.24 189.46 L118.94 188.32 L122.64 187.25 L126.34 186.25 L130.03 185.32 L133.73 184.46 L137.43 183.68 L141.12 182.97 L144.82 182.32 L148.52 181.74 L152.22 181.24 L155.92 180.8 L159.61 180.43 L163.31 180.12 L167.01 179.89 L170.71 179.72 L174.4 179.62 L178.1 179.59 L181.8 179.55 L185.5 179.43 L189.19 179.23 L192.89 178.96 L196.59 178.6 L200.29 178.17 L203.98 177.65 L207.68 177.06 L211.38 176.38 L215.07 175.62 L218.77 174.78 L222.47 173.86 L226.17 172.86 L229.87 171.77 L233.56 170.59 L237.26 169.33 L240.96 167.97 L244.66 166.53 L248.35 165 L252.05 163.38 L255.75 161.66 L259.44 159.84 L263.14 157.93 L266.84 155.92 L270.54 153.81 L274.24 151.59 L277.93 149.26 L281.63 146.83 L285.33 144.28 L289.02 141.61 L292.72 138.83 L296.42 135.92 L300.12 132.89 L303.81 129.72 L307.51 126.42 L311.21 122.98 L314.91 119.39 L318.61 115.75 L322.3 112.61 L326 109.35 M30.2 198.45 L33.9 195.19 L37.6 192.05 L41.29 189.03 L44.99 186.11 L48.69 183.31 L52.39 180.61 L56.08 178.02 L59.78 175.52 L63.48 173.13 L67.17 170.83 L70.87 168.62 L74.57 166.5 L78.27 164.48 L81.97 162.54 L85.66 160.68 L89.36 158.91 L93.06 157.23 L96.75 155.62 L100.45 154.09 L104.15 152.64 L107.85 151.27 L111.55 149.98 L115.24 148.76 L118.94 147.62 L122.64 146.54 L126.34 145.55 L130.03 144.62 L133.73 143.76 L137.43 142.98 L141.12 142.26 L144.82 141.62 L148.52 141.04 L152.22 140.54 L155.92 140.1 L159.61 139.73 L163.31 139.42 L167.01 139.19 L170.71 139.02 L174.4 138.92 L178.1 138.88 L181.8 138.85 L185.5 138.73 L189.19 138.53 L192.89 138.26 L196.59 137.9 L200.29 137.47 L203.98 136.95 L207.68 136.36 L211.38 135.68 L215.07 134.92 L218.77 134.08 L222.47 133.16 L226.17 132.16 L229.87 131.06 L233.56 129.89 L237.26 128.62 L240.96 127.27 L244.66 125.83 L248.35 124.3 L252.05 122.68 L255.75 120.96 L259.44 119.14 L263.14 117.23 L266.84 115.22 L270.54 113.11 L274.24 110.89 L277.93 108.56 L281.63 106.13 L285.33 103.58 L289.02 100.91 L292.72 98.13 L296.42 95.22 L300.12 92.19 L303.81 89.02 L307.51 85.72 L311.21 82.28 L314.91 78.69 L318.61 75.05 L322.3 71.91 L326 68.65 M30.2 157.75 L33.9 154.49 L37.6 151.35 L41.29 148.33 L44.99 145.41 L48.69 142.61 L52.39 139.91 L56.08 137.32 L59.78 134.82 L63.48 132.43 L67.17 130.13 L70.87 127.92 L74.57 125.8 L78.27 123.78 L81.97 121.84 L85.66 119.98 L89.36 118.21 L93.06 116.53 L96.75 114.92 L100.45 113.39 L104.15 111.94 L107.85 110.57 L111.55 109.28 L115.24 108.06 L118.94 106.92 L122.64 105.84 L126.34 104.85 L130.03 103.92 L133.73 103.06 L137.43 102.28 L141.12 101.56 L144.82 100.92 L148.52 100.34 L152.22 99.84 L155.92 99.4 L159.61 99.03 L163.31 98.72 L167.01 98.49 L170.71 98.32 L174.4 98.22 L178.1 98.18 L181.8 98.15 L185.5 98.03 L189.19 97.83 L192.89 97.55 L196.59 97.2 L200.29 96.76 L203.98 96.25 L207.68 95.66 L211.38 94.98 L215.07 94.22 L218.77 93.38 L222.47 92.46 L226.17 91.46 L229.87 90.36 L233.56 89.19 L237.26 87.92 L240.96 86.57 L244.66 85.13 L248.35 83.6 L252.05 81.98 L255.75 80.26 L259.44 78.44 L263.14 76.53 L266.84 74.52 L270.54 72.41 L274.24 70.19 L277.93 67.86 L281.63 65.43 L285.33 62.88 L289.02 60.21 L292.72 57.43 L296.42 54.52 L300.12 51.49 L303.81 48.32 L307.51 45.02 L311.21 41.58 L314.91 37.99 L318.61 34.35 L322.3 31.21 L326 27.95 M30.2 117.05 L33.9 113.79 L37.6 110.65 L41.29 107.62 L44.99 104.71 L48.69 101.91 L52.39 99.21 L56.08 96.62 L59.78 94.12 L63.48 91.73 L67.17 89.43 L70.87 87.22 L74.57 85.1 L78.27 83.08 L81.97 81.14 L85.66 79.28 L89.36 77.51 L93.06 75.82 L96.75 74.22 L100.45 72.69 L104.15 71.24 L107.85 69.87 L111.55 68.58 L115.24 67.36 L118.94 66.21 L122.64 65.14 L126.34 64.14 L130.03 63.22 L133.73 62.36 L137.43 61.58 L141.12 60.86 L144.82 60.22 L148.52 59.64 L152.22 59.13 L155.92 58.7 L159.61 58.32 L163.31 58.02 L167.01 57.79 L170.71 57.62 L174.4 57.52 L178.1 57.48 L181.8 57.44 L185.5 57.33 L189.19 57.13 L192.89 56.85 L196.59 56.5 L200.29 56.06 L203.98 55.55 L207.68 54.96 L211.38 54.28 L215.07 53.52 L218.77 52.68 L222.47 51.76 L226.17 50.75 L229.87 49.66 L233.56 48.49 L237.26 47.22 L240.96 45.87 L244.66 44.43 L248.35 42.9 L252.05 41.27 L255.75 39.56 L259.44 37.74 L263.14 35.83 L266.84 33.82 L270.54 31.7 L274.24 29.49 L277.93 27.16 L281.63 24.72 L285.33 22.18 L289.02 19.51 L292.72 16.73 L296.42 13.82 L300.12 10.79 L303.81 7.62 L307.51 4.32 L311.21 0.88 L314.91 -2.71 L318.61 -6.35 L322.3 -9.49 L326 -12.76 M30.2 76.35 L33.9 73.09 L37.6 69.95 L41.29 66.92 L44.99 64.01 L48.69 61.21 L52.39 58.51 L56.08 55.92 L59.78 53.42 L63.48 51.03 L67.17 48.73 L70.87 46.52 L74.57 44.4 L78.27 42.37 L81.97 40.44 L85.66 38.58 L89.36 36.81 L93.06 35.12 L96.75 33.52 L100.45 31.99 L104.15 30.54 L107.85 29.17 L111.55 27.88 L115.24 26.66 L118.94 25.51 L122.64 24.44 L126.34 23.44 L130.03 22.52 L133.73 21.66 L137.43 20.88 L141.12 20.16 L144.82 19.52 L148.52 18.94 L152.22 18.43 L155.92 18 L159.61 17.62 L163.31 17.32 L167.01 17.09 L170.71 16.92 L174.4 16.82 L178.1 16.78 L181.8 16.74 L185.5 16.63 L189.19 16.43 L192.89 16.15 L196.59 15.8 L200.29 15.36 L203.98 14.85 L207.68 14.25 L211.38 13.58 L215.07 12.82 L218.77 11.98 L222.47 11.06 L226.17 10.05 L229.87 8.96 L233.56 7.79 L237.26 6.52 L240.96 5.17 L244.66 3.73 L248.35 2.2 L252.05 0.57 L255.75 -1.14 L259.44 -2.96 L263.14 -4.87 L266.84 -6.88 L270.54 -9 L274.24 -11.21 L277.93 -13.54 L281.63 -15.98 L285.33 -18.52 L289.02 -21.19 L292.72 -23.97 L296.42 -26.88 L300.12 -29.91 L303.81 -33.08 L307.51 -36.38 L311.21 -39.83 L314.91 -43.41 L318.61 -47.05 L322.3 -50.19 L326 -53.46 M30.2 35.65 L33.9 32.39 L37.6 29.25 L41.29 26.22 L44.99 23.31 L48.69 20.51 L52.39 17.81 L56.08 15.22 L59.78 12.72 L63.48 10.33 L67.17 8.02 L70.87 5.82 L74.57 3.7 L78.27 1.67 L81.97 -0.27 L85.66 -2.12 L89.36 -3.89 L93.06 -5.58 L96.75 -7.18 L100.45 -8.71 L104.15 -10.16 L107.85 -11.53 L111.55 -12.82 L115.24 -14.04 L118.94 -15.19 L122.64 -16.26 L126.34 -17.26 L130.03 -18.18 L133.73 -19.04 L137.43 -19.82 L141.12 -20.54 L144.82 -21.18 L148.52 -21.76 L152.22 -22.27 L155.92 -22.71 L159.61 -23.08 L163.31 -23.38 L167.01 -23.61 L170.71 -23.78 L174.4 -23.88 L178.1 -23.92 L181.8 -23.96 L185.5 -24.07 L189.19 -24.27 L192.89 -24.55 L196.59 -24.9 L200.29 -25.34 L203.98 -25.85 L207.68 -26.45 L211.38 -27.12 L215.07 -27.88 L218.77 -28.72 L222.47 -29.64 L226.17 -30.65 L229.87 -31.74 L233.56 -32.91 L237.26 -34.18 L240.96 -35.53 L244.66 -36.97 L248.35 -38.5 L252.05 -40.13 L255.75 -41.84 L259.44 -43.66 L263.14 -45.57 L266.84 -47.58 L270.54 -49.7 L274.24 -51.92 L277.93 -54.24 L281.63 -56.68 L285.33 -59.22 L289.02 -61.89 L292.72 -64.67 L296.42 -67.58 L300.12 -70.61 L303.81 -73.78 L307.51 -77.08 L311.21 -80.53 L314.91 -84.12 L318.61 -87.75 L322.3 -90.9 L326 -94.16 M30.2 -5.05 L33.9 -8.31 L37.6 -11.45 L41.29 -14.48 L44.99 -17.39 L48.69 -20.19 L52.39 -22.89 L56.08 -25.49 L59.78 -27.98 L63.48 -30.38 L67.17 -32.68 L70.87 -34.88 L74.57 -37 L78.27 -39.03 L81.97 -40.97 L85.66 -42.82 L89.36 -44.59 L93.06 -46.28 L96.75 -47.88 L100.45 -49.41 L104.15 -50.86 L107.85 -52.23 L111.55 -53.52 L115.24 -54.74 L118.94 -55.89 L122.64 -56.96 L126.34 -57.96 L130.03 -58.88 L133.73 -59.74 L137.43 -60.52 L141.12 -61.24 L144.82 -61.88 L148.52 -62.46 L152.22 -62.97 L155.92 -63.41 L159.61 -63.78 L163.31 -64.08 L167.01 -64.32 L170.71 -64.48 L174.4 -64.58 L178.1 -64.62 L181.8 -64.66 L185.5 -64.78 L189.19 -64.97 L192.89 -65.25 L196.59 -65.6 L200.29 -66.04 L203.98 -66.55 L207.68 -67.15 L211.38 -67.82 L215.07 -68.58 L218.77 -69.42 L222.47 -70.34 L226.17 -71.35 L229.87 -72.44 L233.56 -73.61 L237.26 -74.88 L240.96 -76.23 L244.66 -77.67 L248.35 -79.2 L252.05 -80.83 L255.75 -82.55 L259.44 -84.36 L263.14 -86.27 L266.84 -88.28 L270.54 -90.4 L274.24 -92.62 L277.93 -94.94 L281.63 -97.38 L285.33 -99.93 L289.02 -102.59 L292.72 -105.37 L296.42 -108.28 L300.12 -111.32 L303.81 -114.48 L307.51 -117.78 L311.21 -121.23 L314.91 -124.82 L318.61 -128.45 L322.3 -131.6 L326 -134.86"/><path class="rd" d="M30.2 442.16 L33.9 438.9 L37.6 435.75 L41.29 432.12 L44.99 428.53 L48.69 425.08 L52.39 421.78 L56.08 418.62 L59.78 415.58 L63.48 412.67 L67.17 409.89 L70.87 407.23 L74.57 404.68 L78.27 402.24 L81.97 399.92 L85.66 397.7 L89.36 395.58 L93.06 393.57 L96.75 391.66 L100.45 389.85 L104.15 388.13 L107.85 386.5 L111.55 384.97 L115.24 383.53 L118.94 382.18 L122.64 380.91 L126.34 379.74 L130.03 378.65 L133.73 377.64 L137.43 376.72 L141.12 375.88 L144.82 375.12 L148.52 374.45 L152.22 373.85 L155.92 373.34 L159.61 372.9 L163.31 372.55 L167.01 372.27 L170.71 372.08 L174.4 371.96 L178.1 371.92 L181.8 371.88 L185.5 371.78 L189.19 371.62 L192.89 371.38 L196.59 371.08 L200.29 370.71 L203.98 370.27 L207.68 369.76 L211.38 369.18 L215.07 368.54 L218.77 367.82 L222.47 367.04 L226.17 366.18 L229.87 365.26 L233.56 364.26 L237.26 363.19 L240.96 362.04 L244.66 360.82 L248.35 359.53 L252.05 358.16 L255.75 356.71 L259.44 355.18 L263.14 353.58 L266.84 351.89 L270.54 350.12 L274.24 348.27 L277.93 346.33 L281.63 344.3 L285.33 342.18 L289.02 339.98 L292.72 337.68 L296.42 335.28 L300.12 332.79 L303.81 330.19 L307.51 327.49 L311.21 324.69 L314.91 321.78 L318.61 318.75 L322.3 315.61 L326 312.35 M30.2 401.46 L33.9 398.2 L37.6 395.05 L41.29 391.42 L44.99 387.83 L48.69 384.38 L52.39 381.08 L56.08 377.91 L59.78 374.88 L63.48 371.97 L67.17 369.19 L70.87 366.52 L74.57 363.98 L78.27 361.54 L81.97 359.22 L85.66 357 L89.36 354.88 L93.06 352.87 L96.75 350.96 L100.45 349.14 L104.15 347.43 L107.85 345.8 L111.55 344.27 L115.24 342.83 L118.94 341.48 L122.64 340.21 L126.34 339.04 L130.03 337.95 L133.73 336.94 L137.43 336.02 L141.12 335.18 L144.82 334.42 L148.52 333.75 L152.22 333.15 L155.92 332.64 L159.61 332.2 L163.31 331.85 L167.01 331.57 L170.71 331.37 L174.4 331.26 L178.1 331.22 L181.8 331.18 L185.5 331.08 L189.19 330.91 L192.89 330.68 L196.59 330.38 L200.29 330.01 L203.98 329.57 L207.68 329.06 L211.38 328.48 L215.07 327.84 L218.77 327.12 L222.47 326.34 L226.17 325.48 L229.87 324.56 L233.56 323.56 L237.26 322.49 L240.96 321.34 L244.66 320.12 L248.35 318.83 L252.05 317.46 L255.75 316.01 L259.44 314.48 L263.14 312.88 L266.84 311.19 L270.54 309.42 L274.24 307.57 L277.93 305.63 L281.63 303.6 L285.33 301.48 L289.02 299.28 L292.72 296.97 L296.42 294.58 L300.12 292.08 L303.81 289.49 L307.51 286.79 L311.21 283.99 L314.91 281.08 L318.61 278.05 L322.3 274.91 L326 271.65 M30.2 360.76 L33.9 357.49 L37.6 354.35 L41.29 350.71 L44.99 347.13 L48.69 343.68 L52.39 340.38 L56.08 337.21 L59.78 334.18 L63.48 331.27 L67.17 328.49 L70.87 325.82 L74.57 323.28 L78.27 320.84 L81.97 318.51 L85.66 316.3 L89.36 314.18 L93.06 312.17 L96.75 310.26 L100.45 308.44 L104.15 306.73 L107.85 305.1 L111.55 303.57 L115.24 302.13 L118.94 300.78 L122.64 299.51 L126.34 298.34 L130.03 297.25 L133.73 296.24 L137.43 295.32 L141.12 294.48 L144.82 293.72 L148.52 293.05 L152.22 292.45 L155.92 291.94 L159.61 291.5 L163.31 291.15 L167.01 290.87 L170.71 290.67 L174.4 290.56 L178.1 290.52 L181.8 290.48 L185.5 290.38 L189.19 290.21 L192.89 289.98 L196.59 289.68 L200.29 289.3 L203.98 288.87 L207.68 288.36 L211.38 287.78 L215.07 287.14 L218.77 286.42 L222.47 285.64 L226.17 284.78 L229.87 283.86 L233.56 282.86 L237.26 281.79 L240.96 280.64 L244.66 279.42 L248.35 278.13 L252.05 276.76 L255.75 275.31 L259.44 273.78 L263.14 272.18 L266.84 270.49 L270.54 268.72 L274.24 266.86 L277.93 264.93 L281.63 262.9 L285.33 260.78 L289.02 258.57 L292.72 256.27 L296.42 253.88 L300.12 251.38 L303.81 248.79 L307.51 246.09 L311.21 243.29 L314.91 240.38 L318.61 237.35 L322.3 234.21 L326 230.95 M30.2 320.06 L33.9 316.79 L37.6 313.65 L41.29 310.01 L44.99 306.42 L48.69 302.98 L52.39 299.68 L56.08 296.51 L59.78 293.48 L63.48 290.57 L67.17 287.79 L70.87 285.12 L74.57 282.58 L78.27 280.14 L81.97 277.81 L85.66 275.6 L89.36 273.48 L93.06 271.47 L96.75 269.56 L100.45 267.74 L104.15 266.03 L107.85 264.4 L111.55 262.87 L115.24 261.43 L118.94 260.08 L122.64 258.81 L126.34 257.64 L130.03 256.55 L133.73 255.54 L137.43 254.62 L141.12 253.78 L144.82 253.02 L148.52 252.34 L152.22 251.75 L155.92 251.24 L159.61 250.8 L163.31 250.45 L167.01 250.17 L170.71 249.97 L174.4 249.86 L178.1 249.82 L181.8 249.78 L185.5 249.68 L189.19 249.51 L192.89 249.28 L196.59 248.98 L200.29 248.6 L203.98 248.17 L207.68 247.66 L211.38 247.08 L215.07 246.44 L218.77 245.72 L222.47 244.94 L226.17 244.08 L229.87 243.16 L233.56 242.16 L237.26 241.09 L240.96 239.94 L244.66 238.72 L248.35 237.43 L252.05 236.06 L255.75 234.61 L259.44 233.08 L263.14 231.48 L266.84 229.79 L270.54 228.02 L274.24 226.16 L277.93 224.22 L281.63 222.2 L285.33 220.08 L289.02 217.87 L292.72 215.57 L296.42 213.18 L300.12 210.68 L303.81 208.09 L307.51 205.39 L311.21 202.59 L314.91 199.68 L318.61 196.65 L322.3 193.51 L326 190.25 M30.2 279.35 L33.9 276.09 L37.6 272.95 L41.29 269.31 L44.99 265.72 L48.69 262.28 L52.39 258.98 L56.08 255.81 L59.78 252.78 L63.48 249.87 L67.17 247.09 L70.87 244.42 L74.57 241.87 L78.27 239.44 L81.97 237.11 L85.66 234.89 L89.36 232.78 L93.06 230.77 L96.75 228.86 L100.45 227.04 L104.15 225.32 L107.85 223.7 L111.55 222.17 L115.24 220.73 L118.94 219.38 L122.64 218.11 L126.34 216.94 L130.03 215.84 L133.73 214.84 L137.43 213.92 L141.12 213.08 L144.82 212.32 L148.52 211.64 L152.22 211.05 L155.92 210.54 L159.61 210.1 L163.31 209.75 L167.01 209.47 L170.71 209.27 L174.4 209.15 L178.1 209.12 L181.8 209.08 L185.5 208.98 L189.19 208.81 L192.89 208.58 L196.59 208.27 L200.29 207.9 L203.98 207.46 L207.68 206.96 L211.38 206.38 L215.07 205.74 L218.77 205.02 L222.47 204.24 L226.17 203.38 L229.87 202.45 L233.56 201.46 L237.26 200.38 L240.96 199.24 L244.66 198.02 L248.35 196.73 L252.05 195.36 L255.75 193.91 L259.44 192.38 L263.14 190.77 L266.84 189.09 L270.54 187.32 L274.24 185.46 L277.93 183.52 L281.63 181.5 L285.33 179.38 L289.02 177.17 L292.72 174.87 L296.42 172.48 L300.12 169.98 L303.81 167.39 L307.51 164.69 L311.21 161.89 L314.91 158.97 L318.61 155.95 L322.3 152.81 L326 149.55 M30.2 238.65 L33.9 235.39 L37.6 232.25 L41.29 228.61 L44.99 225.02 L48.69 221.58 L52.39 218.28 L56.08 215.11 L59.78 212.08 L63.48 209.17 L67.17 206.39 L70.87 203.72 L74.57 201.17 L78.27 198.74 L81.97 196.41 L85.66 194.19 L89.36 192.08 L93.06 190.07 L96.75 188.16 L100.45 186.34 L104.15 184.62 L107.85 183 L111.55 181.47 L115.24 180.03 L118.94 178.68 L122.64 177.41 L126.34 176.24 L130.03 175.14 L133.73 174.14 L137.43 173.22 L141.12 172.38 L144.82 171.62 L148.52 170.94 L152.22 170.35 L155.92 169.83 L159.61 169.4 L163.31 169.04 L167.01 168.77 L170.71 168.57 L174.4 168.45 L178.1 168.41 L181.8 168.38 L185.5 168.28 L189.19 168.11 L192.89 167.88 L196.59 167.57 L200.29 167.2 L203.98 166.76 L207.68 166.26 L211.38 165.68 L215.07 165.04 L218.77 164.32 L222.47 163.54 L226.17 162.68 L229.87 161.75 L233.56 160.76 L237.26 159.68 L240.96 158.54 L244.66 157.32 L248.35 156.03 L252.05 154.66 L255.75 153.21 L259.44 151.68 L263.14 150.07 L266.84 148.39 L270.54 146.62 L274.24 144.76 L277.93 142.82 L281.63 140.8 L285.33 138.68 L289.02 136.47 L292.72 134.17 L296.42 131.78 L300.12 129.28 L303.81 126.69 L307.51 123.99 L311.21 121.19 L314.91 118.27 L318.61 115.25 L322.3 112.11 L326 108.85 M30.2 197.95 L33.9 194.69 L37.6 191.55 L41.29 187.91 L44.99 184.32 L48.69 180.88 L52.39 177.58 L56.08 174.41 L59.78 171.38 L63.48 168.47 L67.17 165.69 L70.87 163.02 L74.57 160.47 L78.27 158.04 L81.97 155.71 L85.66 153.49 L89.36 151.38 L93.06 149.37 L96.75 147.46 L100.45 145.64 L104.15 143.92 L107.85 142.3 L111.55 140.77 L115.24 139.33 L118.94 137.97 L122.64 136.71 L126.34 135.53 L130.03 134.44 L133.73 133.44 L137.43 132.52 L141.12 131.68 L144.82 130.92 L148.52 130.24 L152.22 129.65 L155.92 129.13 L159.61 128.7 L163.31 128.34 L167.01 128.07 L170.71 127.87 L174.4 127.75 L178.1 127.71 L181.8 127.68 L185.5 127.58 L189.19 127.41 L192.89 127.18 L196.59 126.87 L200.29 126.5 L203.98 126.06 L207.68 125.56 L211.38 124.98 L215.07 124.33 L218.77 123.62 L222.47 122.84 L226.17 121.98 L229.87 121.05 L233.56 120.05 L237.26 118.98 L240.96 117.84 L244.66 116.62 L248.35 115.33 L252.05 113.95 L255.75 112.51 L259.44 110.98 L263.14 109.37 L266.84 107.69 L270.54 105.92 L274.24 104.06 L277.93 102.12 L281.63 100.1 L285.33 97.98 L289.02 95.77 L292.72 93.47 L296.42 91.08 L300.12 88.58 L303.81 85.99 L307.51 83.29 L311.21 80.49 L314.91 77.57 L318.61 74.55 L322.3 71.41 L326 68.15 M30.2 157.25 L33.9 153.99 L37.6 150.85 L41.29 147.21 L44.99 143.62 L48.69 140.18 L52.39 136.88 L56.08 133.71 L59.78 130.68 L63.48 127.77 L67.17 124.99 L70.87 122.32 L74.57 119.77 L78.27 117.34 L81.97 115.01 L85.66 112.79 L89.36 110.68 L93.06 108.67 L96.75 106.76 L100.45 104.94 L104.15 103.22 L107.85 101.6 L111.55 100.07 L115.24 98.63 L118.94 97.27 L122.64 96.01 L126.34 94.83 L130.03 93.74 L133.73 92.74 L137.43 91.81 L141.12 90.98 L144.82 90.22 L148.52 89.54 L152.22 88.95 L155.92 88.43 L159.61 88 L163.31 87.64 L167.01 87.37 L170.71 87.17 L174.4 87.05 L178.1 87.01 L181.8 86.98 L185.5 86.88 L189.19 86.71 L192.89 86.48 L196.59 86.17 L200.29 85.8 L203.98 85.36 L207.68 84.86 L211.38 84.28 L215.07 83.63 L218.77 82.92 L222.47 82.13 L226.17 81.28 L229.87 80.35 L233.56 79.35 L237.26 78.28 L240.96 77.14 L244.66 75.92 L248.35 74.62 L252.05 73.25 L255.75 71.81 L259.44 70.28 L263.14 68.67 L266.84 66.99 L270.54 65.22 L274.24 63.36 L277.93 61.42 L281.63 59.4 L285.33 57.28 L289.02 55.07 L292.72 52.77 L296.42 50.37 L300.12 47.88 L303.81 45.29 L307.51 42.59 L311.21 39.79 L314.91 36.87 L318.61 33.85 L322.3 30.71 L326 27.45 M30.2 116.55 L33.9 113.29 L37.6 110.15 L41.29 106.51 L44.99 102.92 L48.69 99.48 L52.39 96.18 L56.08 93.01 L59.78 89.98 L63.48 87.07 L67.17 84.28 L70.87 81.62 L74.57 79.07 L78.27 76.64 L81.97 74.31 L85.66 72.09 L89.36 69.98 L93.06 67.97 L96.75 66.05 L100.45 64.24 L104.15 62.52 L107.85 60.9 L111.55 59.37 L115.24 57.92 L118.94 56.57 L122.64 55.31 L126.34 54.13 L130.03 53.04 L133.73 52.04 L137.43 51.11 L141.12 50.27 L144.82 49.52 L148.52 48.84 L152.22 48.25 L155.92 47.73 L159.61 47.3 L163.31 46.94 L167.01 46.67 L170.71 46.47 L174.4 46.35 L178.1 46.31 L181.8 46.28 L185.5 46.18 L189.19 46.01 L192.89 45.78 L196.59 45.47 L200.29 45.1 L203.98 44.66 L207.68 44.15 L211.38 43.58 L215.07 42.93 L218.77 42.22 L222.47 41.43 L226.17 40.58 L229.87 39.65 L233.56 38.65 L237.26 37.58 L240.96 36.44 L244.66 35.22 L248.35 33.92 L252.05 32.55 L255.75 31.11 L259.44 29.58 L263.14 27.97 L266.84 26.29 L270.54 24.52 L274.24 22.66 L277.93 20.72 L281.63 18.69 L285.33 16.58 L289.02 14.37 L292.72 12.07 L296.42 9.67 L300.12 7.18 L303.81 4.59 L307.51 1.89 L311.21 -0.92 L314.91 -3.83 L318.61 -6.85 L322.3 -9.99 L326 -13.26 M30.2 75.85 L33.9 72.59 L37.6 69.45 L41.29 65.81 L44.99 62.22 L48.69 58.78 L52.39 55.48 L56.08 52.31 L59.78 49.28 L63.48 46.37 L67.17 43.58 L70.87 40.92 L74.57 38.37 L78.27 35.94 L81.97 33.61 L85.66 31.39 L89.36 29.28 L93.06 27.27 L96.75 25.35 L100.45 23.54 L104.15 21.82 L107.85 20.2 L111.55 18.67 L115.24 17.22 L118.94 15.87 L122.64 14.61 L126.34 13.43 L130.03 12.34 L133.73 11.34 L137.43 10.41 L141.12 9.57 L144.82 8.82 L148.52 8.14 L152.22 7.55 L155.92 7.03 L159.61 6.6 L163.31 6.24 L167.01 5.97 L170.71 5.77 L174.4 5.65 L178.1 5.61 L181.8 5.58 L185.5 5.48 L189.19 5.31 L192.89 5.07 L196.59 4.77 L200.29 4.4 L203.98 3.96 L207.68 3.45 L211.38 2.88 L215.07 2.23 L218.77 1.52 L222.47 0.73 L226.17 -0.12 L229.87 -1.05 L233.56 -2.05 L237.26 -3.12 L240.96 -4.26 L244.66 -5.48 L248.35 -6.78 L252.05 -8.15 L255.75 -9.6 L259.44 -11.12 L263.14 -12.73 L266.84 -14.42 L270.54 -16.19 L274.24 -18.04 L277.93 -19.98 L281.63 -22.01 L285.33 -24.12 L289.02 -26.33 L292.72 -28.63 L296.42 -31.03 L300.12 -33.52 L303.81 -36.11 L307.51 -38.81 L311.21 -41.62 L314.91 -44.53 L318.61 -47.55 L322.3 -50.69 L326 -53.96 M30.2 35.15 L33.9 31.89 L37.6 28.75 L41.29 25.11 L44.99 21.52 L48.69 18.08 L52.39 14.77 L56.08 11.61 L59.78 8.57 L63.48 5.67 L67.17 2.88 L70.87 0.22 L74.57 -2.33 L78.27 -4.76 L81.97 -7.09 L85.66 -9.31 L89.36 -11.42 L93.06 -13.43 L96.75 -15.35 L100.45 -17.16 L104.15 -18.88 L107.85 -20.5 L111.55 -22.04 L115.24 -23.48 L118.94 -24.83 L122.64 -26.09 L126.34 -27.27 L130.03 -28.36 L133.73 -29.36 L137.43 -30.29 L141.12 -31.13 L144.82 -31.88 L148.52 -32.56 L152.22 -33.15 L155.92 -33.67 L159.61 -34.1 L163.31 -34.46 L167.01 -34.73 L170.71 -34.93 L174.4 -35.05 L178.1 -35.09 L181.8 -35.12 L185.5 -35.22 L189.19 -35.39 L192.89 -35.63 L196.59 -35.93 L200.29 -36.3 L203.98 -36.74 L207.68 -37.25 L211.38 -37.82 L215.07 -38.47 L218.77 -39.18 L222.47 -39.97 L226.17 -40.82 L229.87 -41.75 L233.56 -42.75 L237.26 -43.82 L240.96 -44.96 L244.66 -46.18 L248.35 -47.48 L252.05 -48.85 L255.75 -50.3 L259.44 -51.82 L263.14 -53.43 L266.84 -55.12 L270.54 -56.89 L274.24 -58.74 L277.93 -60.68 L281.63 -62.71 L285.33 -64.82 L289.02 -67.03 L292.72 -69.33 L296.42 -71.73 L300.12 -74.22 L303.81 -76.82 L307.51 -79.51 L311.21 -82.32 L314.91 -85.23 L318.61 -88.25 L322.3 -91.4 L326 -94.66 M30.2 -5.55 L33.9 -8.81 L37.6 -11.95 L41.29 -15.59 L44.99 -19.18 L48.69 -22.62 L52.39 -25.93 L56.08 -29.09 L59.78 -32.13 L63.48 -35.03 L67.17 -37.82 L70.87 -40.48 L74.57 -43.03 L78.27 -45.47 L81.97 -47.79 L85.66 -50.01 L89.36 -52.12 L93.06 -54.14 L96.75 -56.05 L100.45 -57.86 L104.15 -59.58 L107.85 -61.2 L111.55 -62.74 L115.24 -64.18 L118.94 -65.53 L122.64 -66.79 L126.34 -67.97 L130.03 -69.06 L133.73 -70.07 L137.43 -70.99 L141.12 -71.83 L144.82 -72.58 L148.52 -73.26 L152.22 -73.85 L155.92 -74.37 L159.61 -74.8 L163.31 -75.16 L167.01 -75.43 L170.71 -75.63 L174.4 -75.75 L178.1 -75.79 L181.8 -75.82 L185.5 -75.92 L189.19 -76.09 L192.89 -76.33 L196.59 -76.63 L200.29 -77 L203.98 -77.44 L207.68 -77.95 L211.38 -78.52 L215.07 -79.17 L218.77 -79.88 L222.47 -80.67 L226.17 -81.52 L229.87 -82.45 L233.56 -83.45 L237.26 -84.52 L240.96 -85.66 L244.66 -86.88 L248.35 -88.18 L252.05 -89.55 L255.75 -91 L259.44 -92.52 L263.14 -94.13 L266.84 -95.82 L270.54 -97.59 L274.24 -99.44 L277.93 -101.38 L281.63 -103.41 L285.33 -105.52 L289.02 -107.73 L292.72 -110.03 L296.42 -112.43 L300.12 -114.92 L303.81 -117.52 L307.51 -120.21 L311.21 -123.02 L314.91 -125.93 L318.61 -128.95 L322.3 -132.1 L326 -135.36"/><path class="gd" d="M30.2 218.8 L33.9 215.18 L37.6 211.7 L41.29 208.36 L44.99 205.14 L48.69 202.05 L52.39 199.08 L56.08 196.23 L59.78 193.49 L63.48 190.87 L67.17 188.35 L70.87 185.93 L74.57 183.62 L78.27 181.41 L81.97 179.29 L85.66 177.27 L89.36 175.35 L93.06 173.51 L96.75 171.76 L100.45 170.11 L104.15 168.53 L107.85 167.05 L111.55 165.64 L115.24 164.32 L118.94 163.08 L122.64 161.92 L126.34 160.84 L130.03 159.84 L133.73 158.92 L137.43 158.07 L141.12 157.3 L144.82 156.6 L148.52 155.98 L152.22 155.43 L155.92 154.96 L159.61 154.56 L163.31 154.23 L167.01 153.98 L170.71 153.79 L174.4 153.69 L178.1 153.65 L181.8 153.61 L185.5 153.51 L189.19 153.32 L192.89 153.07 L196.59 152.74 L200.29 152.34 L203.98 151.87 L207.68 151.32 L211.38 150.7 L215.07 150 L218.77 149.23 L222.47 148.38 L226.17 147.46 L229.87 146.46 L233.56 145.38 L237.26 144.22 L240.96 142.98 L244.66 141.66 L248.35 140.25 L252.05 138.77 L255.75 137.19 L259.44 135.54 L263.14 133.79 L266.84 131.95 L270.54 130.03 L274.24 128.01 L277.93 125.89 L281.63 123.68 L285.33 121.37 L289.02 118.95 L292.72 116.43 L296.42 113.81 L300.12 111.07 L303.81 108.22 L307.51 105.25 L311.21 102.16 L314.91 98.94 L318.61 95.6 L322.3 92.12 L326 88.5"/></g><rect class="sp" x="30.20" y="6.00" width="295.80" height="295.30"/><line x1="59.78" y1="301.30" x2="59.78" y2="303.50" class="tk"/><line x1="28.00" y1="271.77" x2="30.20" y2="271.77" class="tk"/><text class="tl" x="46.18" y="313.90" textLength="27.2" lengthAdjust="spacingAndGlyphs">−0.4</text><text class="tl" x="-0.90" y="276.27" textLength="27.2" lengthAdjust="spacingAndGlyphs">−0.4</text><line x1="118.94" y1="301.30" x2="118.94" y2="303.50" class="tk"/><line x1="28.00" y1="212.71" x2="30.20" y2="212.71" class="tk"/><text class="tl" x="105.34" y="313.90" textLength="27.2" lengthAdjust="spacingAndGlyphs">−0.2</text><text class="tl" x="-0.90" y="217.21" textLength="27.2" lengthAdjust="spacingAndGlyphs">−0.2</text><line x1="178.10" y1="301.30" x2="178.10" y2="303.50" class="tk"/><line x1="28.00" y1="153.65" x2="30.20" y2="153.65" class="tk"/><text class="tl" x="169.20" y="313.90" textLength="17.8" lengthAdjust="spacingAndGlyphs">0.0</text><text class="tl" x="8.50" y="158.15" textLength="17.8" lengthAdjust="spacingAndGlyphs">0.0</text><line x1="237.26" y1="301.30" x2="237.26" y2="303.50" class="tk"/><line x1="28.00" y1="94.59" x2="30.20" y2="94.59" class="tk"/><text class="tl" x="228.36" y="313.90" textLength="17.8" lengthAdjust="spacingAndGlyphs">0.2</text><text class="tl" x="8.50" y="99.09" textLength="17.8" lengthAdjust="spacingAndGlyphs">0.2</text><line x1="296.42" y1="301.30" x2="296.42" y2="303.50" class="tk"/><line x1="28.00" y1="35.53" x2="30.20" y2="35.53" class="tk"/><text class="tl" x="287.52" y="313.90" textLength="17.8" lengthAdjust="spacingAndGlyphs">0.4</text><text class="tl" x="8.50" y="40.03" textLength="17.8" lengthAdjust="spacingAndGlyphs">0.4</text>
<clipPath id="cr"><rect x="388.70" y="0.50" width="295.70" height="295.55"/></clipPath><g clip-path="url(#cr)"><path fill="#7df91e" d="M388.7 440.74 L392.4 437.35 L396.09 433.83 L399.79 430.19 L403.49 426.59 L407.18 423.15 L410.88 419.84 L414.57 416.67 L418.27 413.64 L421.97 410.73 L425.66 407.94 L429.36 405.27 L433.06 402.72 L436.75 400.29 L440.45 397.96 L444.14 395.74 L447.84 393.62 L451.54 391.61 L455.23 389.7 L458.93 387.88 L462.62 386.16 L466.32 384.53 L470.02 383 L473.71 381.56 L477.41 380.21 L481.11 378.94 L484.8 377.76 L488.5 376.67 L492.19 375.67 L495.89 374.74 L499.59 373.9 L503.28 373.14 L506.98 372.47 L510.68 371.87 L514.37 371.36 L518.07 370.92 L521.76 370.57 L525.46 370.29 L529.16 370.09 L532.85 369.98 L536.55 369.94 L540.25 369.9 L543.94 369.8 L547.64 369.63 L551.34 369.4 L555.03 369.1 L558.73 368.72 L562.42 368.29 L566.12 367.78 L569.82 367.2 L573.51 366.56 L577.21 365.84 L580.9 365.05 L584.6 364.2 L588.3 363.27 L591.99 362.27 L595.69 361.2 L599.39 360.05 L603.08 358.83 L606.78 357.54 L610.47 356.17 L614.17 354.72 L617.87 353.19 L621.56 351.58 L625.26 349.89 L628.96 348.12 L632.65 346.27 L636.35 344.32 L640.05 342.3 L643.74 340.18 L647.44 337.97 L651.13 335.67 L654.83 333.27 L658.53 330.77 L662.22 328.18 L665.92 325.48 L669.62 322.67 L673.31 319.75 L677.01 316.73 L680.7 313.58 L684.4 310.32 L684.4 299.14 L680.7 302.53 L677.01 306.04 L673.31 309.69 L669.62 313.28 L665.92 316.73 L662.22 320.03 L658.53 323.2 L654.83 326.24 L651.13 329.15 L647.44 331.93 L643.74 334.6 L640.05 337.15 L636.35 339.59 L632.65 341.92 L628.96 344.14 L625.26 346.25 L621.56 348.27 L617.87 350.18 L614.17 352 L610.47 353.71 L606.78 355.34 L603.08 356.87 L599.39 358.32 L595.69 359.67 L591.99 360.93 L588.3 362.11 L584.6 363.2 L580.9 364.21 L577.21 365.13 L573.51 365.97 L569.82 366.73 L566.12 367.41 L562.42 368 L558.73 368.52 L555.03 368.95 L551.34 369.31 L547.64 369.58 L543.94 369.78 L540.25 369.9 L536.55 369.94 L532.85 369.97 L529.16 370.07 L525.46 370.24 L521.76 370.48 L518.07 370.78 L514.37 371.15 L510.68 371.59 L506.98 372.1 L503.28 372.67 L499.59 373.32 L495.89 374.04 L492.19 374.82 L488.5 375.68 L484.8 376.6 L481.11 377.6 L477.41 378.68 L473.71 379.82 L470.02 381.04 L466.32 382.34 L462.62 383.71 L458.93 385.16 L455.23 386.69 L451.54 388.29 L447.84 389.98 L444.14 391.75 L440.45 393.61 L436.75 395.55 L433.06 397.58 L429.36 399.7 L425.66 401.91 L421.97 404.21 L418.27 406.61 L414.57 409.1 L410.88 411.7 L407.18 414.4 L403.49 417.21 L399.79 420.12 L396.09 423.15 L392.4 426.29 L388.7 429.56Z M388.7 411.18 L392.4 407.79 L396.09 404.28 L399.79 400.63 L403.49 397.04 L407.18 393.59 L410.88 390.29 L414.57 387.12 L418.27 384.08 L421.97 381.17 L425.66 378.39 L429.36 375.72 L433.06 373.17 L436.75 370.73 L440.45 368.4 L444.14 366.18 L447.84 364.07 L451.54 362.05 L455.23 360.14 L458.93 358.32 L462.62 356.61 L466.32 354.98 L470.02 353.45 L473.71 352 L477.41 350.65 L481.11 349.39 L484.8 348.21 L488.5 347.12 L492.19 346.11 L495.89 345.19 L499.59 344.35 L503.28 343.59 L506.98 342.91 L510.68 342.32 L514.37 341.8 L518.07 341.37 L521.76 341.01 L525.46 340.74 L529.16 340.54 L532.85 340.42 L536.55 340.38 L540.25 340.35 L543.94 340.25 L547.64 340.08 L551.34 339.84 L555.03 339.54 L558.73 339.17 L562.42 338.73 L566.12 338.22 L569.82 337.65 L573.51 337 L577.21 336.28 L580.9 335.5 L584.6 334.64 L588.3 333.72 L591.99 332.72 L595.69 331.64 L599.39 330.5 L603.08 329.28 L606.78 327.98 L610.47 326.61 L614.17 325.16 L617.87 323.63 L621.56 322.03 L625.26 320.34 L628.96 318.57 L632.65 316.71 L636.35 314.77 L640.05 312.74 L643.74 310.62 L647.44 308.41 L651.13 306.11 L654.83 303.71 L658.53 301.22 L662.22 298.62 L665.92 295.92 L669.62 293.11 L673.31 290.2 L677.01 287.17 L680.7 284.03 L684.4 280.76 L684.4 269.58 L680.7 272.97 L677.01 276.49 L673.31 280.13 L669.62 283.73 L665.92 287.17 L662.22 290.48 L658.53 293.65 L654.83 296.68 L651.13 299.59 L647.44 302.38 L643.74 305.05 L640.05 307.6 L636.35 310.03 L632.65 312.36 L628.96 314.58 L625.26 316.7 L621.56 318.71 L617.87 320.62 L614.17 322.44 L610.47 324.16 L606.78 325.79 L603.08 327.32 L599.39 328.76 L595.69 330.11 L591.99 331.38 L588.3 332.56 L584.6 333.65 L580.9 334.65 L577.21 335.58 L573.51 336.42 L569.82 337.18 L566.12 337.85 L562.42 338.45 L558.73 338.96 L555.03 339.4 L551.34 339.75 L547.64 340.03 L543.94 340.23 L540.25 340.34 L536.55 340.38 L532.85 340.42 L529.16 340.52 L525.46 340.69 L521.76 340.92 L518.07 341.22 L514.37 341.6 L510.68 342.03 L506.98 342.54 L503.28 343.12 L499.59 343.76 L495.89 344.48 L492.19 345.27 L488.5 346.12 L484.8 347.05 L481.11 348.05 L477.41 349.12 L473.71 350.27 L470.02 351.49 L466.32 352.78 L462.62 354.15 L458.93 355.6 L455.23 357.13 L451.54 358.74 L447.84 360.43 L444.14 362.2 L440.45 364.05 L436.75 366 L433.06 368.02 L429.36 370.14 L425.66 372.35 L421.97 374.65 L418.27 377.05 L414.57 379.55 L410.88 382.14 L407.18 384.84 L403.49 387.65 L399.79 390.57 L396.09 393.59 L392.4 396.74 L388.7 400Z M388.7 381.63 L392.4 378.24 L396.09 374.72 L399.79 371.08 L403.49 367.48 L407.18 364.04 L410.88 360.73 L414.57 357.56 L418.27 354.53 L421.97 351.62 L425.66 348.83 L429.36 346.16 L433.06 343.61 L436.75 341.18 L440.45 338.85 L444.14 336.63 L447.84 334.51 L451.54 332.5 L455.23 330.59 L458.93 328.77 L462.62 327.05 L466.32 325.42 L470.02 323.89 L473.71 322.45 L477.41 321.1 L481.11 319.83 L484.8 318.65 L488.5 317.56 L492.19 316.56 L495.89 315.63 L499.59 314.79 L503.28 314.03 L506.98 313.36 L510.68 312.76 L514.37 312.25 L518.07 311.81 L521.76 311.46 L525.46 311.18 L529.16 310.98 L532.85 310.87 L536.55 310.83 L540.25 310.79 L543.94 310.69 L547.64 310.52 L551.34 310.29 L555.03 309.99 L558.73 309.61 L562.42 309.18 L566.12 308.67 L569.82 308.09 L573.51 307.45 L577.21 306.73 L580.9 305.94 L584.6 305.09 L588.3 304.16 L591.99 303.16 L595.69 302.09 L599.39 300.94 L603.08 299.72 L606.78 298.43 L610.47 297.06 L614.17 295.61 L617.87 294.08 L621.56 292.47 L625.26 290.78 L628.96 289.01 L632.65 287.16 L636.35 285.21 L640.05 283.19 L643.74 281.07 L647.44 278.86 L651.13 276.56 L654.83 274.16 L658.53 271.66 L662.22 269.07 L665.92 266.37 L669.62 263.56 L673.31 260.64 L677.01 257.62 L680.7 254.47 L684.4 251.21 L684.4 240.03 L680.7 243.42 L677.01 246.93 L673.31 250.58 L669.62 254.17 L665.92 257.62 L662.22 260.92 L658.53 264.09 L654.83 267.13 L651.13 270.04 L647.44 272.82 L643.74 275.49 L640.05 278.04 L636.35 280.48 L632.65 282.81 L628.96 285.03 L625.26 287.14 L621.56 289.16 L617.87 291.07 L614.17 292.89 L610.47 294.6 L606.78 296.23 L603.08 297.76 L599.39 299.21 L595.69 300.56 L591.99 301.82 L588.3 303 L584.6 304.09 L580.9 305.1 L577.21 306.02 L573.51 306.86 L569.82 307.62 L566.12 308.3 L562.42 308.89 L558.73 309.41 L555.03 309.84 L551.34 310.2 L547.64 310.47 L543.94 310.67 L540.25 310.79 L536.55 310.83 L532.85 310.86 L529.16 310.96 L525.46 311.13 L521.76 311.37 L518.07 311.67 L514.37 312.04 L510.68 312.48 L506.98 312.99 L503.28 313.56 L499.59 314.21 L495.89 314.93 L492.19 315.71 L488.5 316.57 L484.8 317.49 L481.11 318.49 L477.41 319.57 L473.71 320.71 L470.02 321.93 L466.32 323.23 L462.62 324.6 L458.93 326.05 L455.23 327.58 L451.54 329.18 L447.84 330.87 L444.14 332.64 L440.45 334.5 L436.75 336.44 L433.06 338.47 L429.36 340.59 L425.66 342.8 L421.97 345.1 L418.27 347.5 L414.57 349.99 L410.88 352.59 L407.18 355.29 L403.49 358.1 L399.79 361.01 L396.09 364.04 L392.4 367.18 L388.7 370.45Z M388.7 352.07 L392.4 348.68 L396.09 345.17 L399.79 341.52 L403.49 337.93 L407.18 334.48 L410.88 331.18 L414.57 328.01 L418.27 324.97 L421.97 322.06 L425.66 319.28 L429.36 316.61 L433.06 314.06 L436.75 311.62 L440.45 309.29 L444.14 307.07 L447.84 304.96 L451.54 302.94 L455.23 301.03 L458.93 299.21 L462.62 297.5 L466.32 295.87 L470.02 294.34 L473.71 292.89 L477.41 291.54 L481.11 290.28 L484.8 289.1 L488.5 288.01 L492.19 287 L495.89 286.08 L499.59 285.24 L503.28 284.48 L506.98 283.8 L510.68 283.21 L514.37 282.69 L518.07 282.26 L521.76 281.9 L525.46 281.63 L529.16 281.43 L532.85 281.31 L536.55 281.27 L540.25 281.24 L543.94 281.14 L547.64 280.97 L551.34 280.73 L555.03 280.43 L558.73 280.06 L562.42 279.62 L566.12 279.11 L569.82 278.54 L573.51 277.89 L577.21 277.17 L580.9 276.39 L584.6 275.53 L588.3 274.61 L591.99 273.61 L595.69 272.53 L599.39 271.39 L603.08 270.17 L606.78 268.87 L610.47 267.5 L614.17 266.05 L617.87 264.52 L621.56 262.92 L625.26 261.23 L628.96 259.46 L632.65 257.6 L636.35 255.66 L640.05 253.63 L643.74 251.51 L647.44 249.3 L651.13 247 L654.83 244.6 L658.53 242.11 L662.22 239.51 L665.92 236.81 L669.62 234 L673.31 231.09 L677.01 228.06 L680.7 224.92 L684.4 221.65 L684.4 210.47 L680.7 213.86 L677.01 217.38 L673.31 221.02 L669.62 224.62 L665.92 228.06 L662.22 231.37 L658.53 234.54 L654.83 237.57 L651.13 240.48 L647.44 243.27 L643.74 245.94 L640.05 248.49 L636.35 250.92 L632.65 253.25 L628.96 255.47 L625.26 257.59 L621.56 259.6 L617.87 261.51 L614.17 263.33 L610.47 265.05 L606.78 266.68 L603.08 268.21 L599.39 269.65 L595.69 271 L591.99 272.27 L588.3 273.45 L584.6 274.54 L580.9 275.54 L577.21 276.47 L573.51 277.31 L569.82 278.07 L566.12 278.74 L562.42 279.34 L558.73 279.85 L555.03 280.29 L551.34 280.64 L547.64 280.92 L543.94 281.12 L540.25 281.23 L536.55 281.27 L532.85 281.31 L529.16 281.41 L525.46 281.58 L521.76 281.81 L518.07 282.11 L514.37 282.49 L510.68 282.92 L506.98 283.43 L503.28 284.01 L499.59 284.65 L495.89 285.37 L492.19 286.16 L488.5 287.01 L484.8 287.94 L481.11 288.94 L477.41 290.01 L473.71 291.16 L470.02 292.38 L466.32 293.67 L462.62 295.04 L458.93 296.49 L455.23 298.02 L451.54 299.63 L447.84 301.32 L444.14 303.09 L440.45 304.94 L436.75 306.89 L433.06 308.91 L429.36 311.03 L425.66 313.24 L421.97 315.54 L418.27 317.94 L414.57 320.44 L410.88 323.03 L407.18 325.73 L403.49 328.54 L399.79 331.46 L396.09 334.48 L392.4 337.63 L388.7 340.89Z M388.7 322.52 L392.4 319.13 L396.09 315.61 L399.79 311.97 L403.49 308.37 L407.18 304.93 L410.88 301.62 L414.57 298.45 L418.27 295.42 L421.97 292.51 L425.66 289.72 L429.36 287.05 L433.06 284.5 L436.75 282.07 L440.45 279.74 L444.14 277.52 L447.84 275.4 L451.54 273.39 L455.23 271.48 L458.93 269.66 L462.62 267.94 L466.32 266.31 L470.02 264.78 L473.71 263.34 L477.41 261.99 L481.11 260.72 L484.8 259.54 L488.5 258.45 L492.19 257.45 L495.89 256.52 L499.59 255.68 L503.28 254.92 L506.98 254.25 L510.68 253.65 L514.37 253.14 L518.07 252.7 L521.76 252.35 L525.46 252.07 L529.16 251.87 L532.85 251.76 L536.55 251.72 L540.25 251.68 L543.94 251.58 L547.64 251.41 L551.34 251.18 L555.03 250.88 L558.73 250.5 L562.42 250.07 L566.12 249.56 L569.82 248.98 L573.51 248.34 L577.21 247.62 L580.9 246.83 L584.6 245.98 L588.3 245.05 L591.99 244.05 L595.69 242.98 L599.39 241.83 L603.08 240.61 L606.78 239.32 L610.47 237.95 L614.17 236.5 L617.87 234.97 L621.56 233.36 L625.26 231.67 L628.96 229.9 L632.65 228.05 L636.35 226.1 L640.05 224.08 L643.74 221.96 L647.44 219.75 L651.13 217.45 L654.83 215.05 L658.53 212.55 L662.22 209.96 L665.92 207.26 L669.62 204.45 L673.31 201.53 L677.01 198.51 L680.7 195.36 L684.4 192.1 L684.4 180.92 L680.7 184.31 L677.01 187.82 L673.31 191.47 L669.62 195.06 L665.92 198.51 L662.22 201.81 L658.53 204.98 L654.83 208.02 L651.13 210.93 L647.44 213.71 L643.74 216.38 L640.05 218.93 L636.35 221.37 L632.65 223.7 L628.96 225.92 L625.26 228.03 L621.56 230.05 L617.87 231.96 L614.17 233.78 L610.47 235.49 L606.78 237.12 L603.08 238.65 L599.39 240.1 L595.69 241.45 L591.99 242.71 L588.3 243.89 L584.6 244.98 L580.9 245.99 L577.21 246.91 L573.51 247.75 L569.82 248.51 L566.12 249.19 L562.42 249.78 L558.73 250.3 L555.03 250.73 L551.34 251.09 L547.64 251.36 L543.94 251.56 L540.25 251.68 L536.55 251.72 L532.85 251.75 L529.16 251.85 L525.46 252.02 L521.76 252.26 L518.07 252.56 L514.37 252.93 L510.68 253.37 L506.98 253.88 L503.28 254.45 L499.59 255.1 L495.89 255.82 L492.19 256.6 L488.5 257.46 L484.8 258.38 L481.11 259.38 L477.41 260.46 L473.71 261.6 L470.02 262.82 L466.32 264.12 L462.62 265.49 L458.93 266.94 L455.23 268.47 L451.54 270.07 L447.84 271.76 L444.14 273.53 L440.45 275.39 L436.75 277.33 L433.06 279.36 L429.36 281.48 L425.66 283.69 L421.97 285.99 L418.27 288.39 L414.57 290.88 L410.88 293.48 L407.18 296.18 L403.49 298.99 L399.79 301.9 L396.09 304.93 L392.4 308.07 L388.7 311.34Z M388.7 292.96 L392.4 289.57 L396.09 286.06 L399.79 282.41 L403.49 278.82 L407.18 275.37 L410.88 272.07 L414.57 268.9 L418.27 265.86 L421.97 262.95 L425.66 260.17 L429.36 257.5 L433.06 254.95 L436.75 252.51 L440.45 250.18 L444.14 247.96 L447.84 245.85 L451.54 243.83 L455.23 241.92 L458.93 240.1 L462.62 238.39 L466.32 236.76 L470.02 235.23 L473.71 233.78 L477.41 232.43 L481.11 231.17 L484.8 229.99 L488.5 228.9 L492.19 227.89 L495.89 226.97 L499.59 226.13 L503.28 225.37 L506.98 224.69 L510.68 224.1 L514.37 223.58 L518.07 223.15 L521.76 222.79 L525.46 222.52 L529.16 222.32 L532.85 222.2 L536.55 222.16 L540.25 222.13 L543.94 222.03 L547.64 221.86 L551.34 221.62 L555.03 221.32 L558.73 220.95 L562.42 220.51 L566.12 220 L569.82 219.43 L573.51 218.78 L577.21 218.06 L580.9 217.28 L584.6 216.42 L588.3 215.5 L591.99 214.5 L595.69 213.42 L599.39 212.28 L603.08 211.06 L606.78 209.76 L610.47 208.39 L614.17 206.94 L617.87 205.41 L621.56 203.81 L625.26 202.12 L628.96 200.35 L632.65 198.49 L636.35 196.55 L640.05 194.52 L643.74 192.4 L647.44 190.19 L651.13 187.89 L654.83 185.49 L658.53 183 L662.22 180.4 L665.92 177.7 L669.62 174.89 L673.31 171.98 L677.01 168.95 L680.7 165.81 L684.4 162.54 L684.4 151.36 L680.7 154.75 L677.01 158.27 L673.31 161.91 L669.62 165.51 L665.92 168.95 L662.22 172.26 L658.53 175.43 L654.83 178.46 L651.13 181.37 L647.44 184.16 L643.74 186.83 L640.05 189.38 L636.35 191.81 L632.65 194.14 L628.96 196.36 L625.26 198.48 L621.56 200.49 L617.87 202.4 L614.17 204.22 L610.47 205.94 L606.78 207.57 L603.08 209.1 L599.39 210.54 L595.69 211.89 L591.99 213.16 L588.3 214.34 L584.6 215.43 L580.9 216.43 L577.21 217.36 L573.51 218.2 L569.82 218.96 L566.12 219.63 L562.42 220.23 L558.73 220.74 L555.03 221.18 L551.34 221.53 L547.64 221.81 L543.94 222.01 L540.25 222.12 L536.55 222.16 L532.85 222.2 L529.16 222.3 L525.46 222.47 L521.76 222.7 L518.07 223 L514.37 223.38 L510.68 223.81 L506.98 224.32 L503.28 224.9 L499.59 225.54 L495.89 226.26 L492.19 227.05 L488.5 227.9 L484.8 228.83 L481.11 229.83 L477.41 230.9 L473.71 232.05 L470.02 233.27 L466.32 234.56 L462.62 235.93 L458.93 237.38 L455.23 238.91 L451.54 240.52 L447.84 242.21 L444.14 243.98 L440.45 245.83 L436.75 247.78 L433.06 249.8 L429.36 251.92 L425.66 254.13 L421.97 256.43 L418.27 258.83 L414.57 261.33 L410.88 263.92 L407.18 266.62 L403.49 269.43 L399.79 272.35 L396.09 275.37 L392.4 278.52 L388.7 281.78Z M388.7 263.41 L392.4 260.02 L396.09 256.5 L399.79 252.86 L403.49 249.26 L407.18 245.82 L410.88 242.51 L414.57 239.34 L418.27 236.31 L421.97 233.4 L425.66 230.61 L429.36 227.94 L433.06 225.39 L436.75 222.96 L440.45 220.63 L444.14 218.41 L447.84 216.29 L451.54 214.28 L455.23 212.37 L458.93 210.55 L462.62 208.83 L466.32 207.2 L470.02 205.67 L473.71 204.23 L477.41 202.88 L481.11 201.61 L484.8 200.43 L488.5 199.34 L492.19 198.34 L495.89 197.41 L499.59 196.57 L503.28 195.81 L506.98 195.14 L510.68 194.54 L514.37 194.03 L518.07 193.59 L521.76 193.24 L525.46 192.96 L529.16 192.76 L532.85 192.65 L536.55 192.61 L540.25 192.57 L543.94 192.47 L547.64 192.3 L551.34 192.07 L555.03 191.77 L558.73 191.39 L562.42 190.96 L566.12 190.45 L569.82 189.87 L573.51 189.23 L577.21 188.51 L580.9 187.72 L584.6 186.87 L588.3 185.94 L591.99 184.94 L595.69 183.87 L599.39 182.72 L603.08 181.5 L606.78 180.21 L610.47 178.84 L614.17 177.39 L617.87 175.86 L621.56 174.25 L625.26 172.56 L628.96 170.79 L632.65 168.94 L636.35 166.99 L640.05 164.97 L643.74 162.85 L647.44 160.64 L651.13 158.34 L654.83 155.94 L658.53 153.44 L662.22 150.85 L665.92 148.15 L669.62 145.34 L673.31 142.42 L677.01 139.4 L680.7 136.25 L684.4 132.99 L684.4 121.81 L680.7 125.2 L677.01 128.71 L673.31 132.36 L669.62 135.95 L665.92 139.4 L662.22 142.7 L658.53 145.87 L654.83 148.91 L651.13 151.82 L647.44 154.6 L643.74 157.27 L640.05 159.82 L636.35 162.26 L632.65 164.59 L628.96 166.81 L625.26 168.92 L621.56 170.94 L617.87 172.85 L614.17 174.67 L610.47 176.38 L606.78 178.01 L603.08 179.54 L599.39 180.99 L595.69 182.34 L591.99 183.6 L588.3 184.78 L584.6 185.87 L580.9 186.88 L577.21 187.8 L573.51 188.64 L569.82 189.4 L566.12 190.08 L562.42 190.67 L558.73 191.19 L555.03 191.62 L551.34 191.98 L547.64 192.25 L543.94 192.45 L540.25 192.57 L536.55 192.61 L532.85 192.64 L529.16 192.74 L525.46 192.91 L521.76 193.15 L518.07 193.45 L514.37 193.82 L510.68 194.26 L506.98 194.77 L503.28 195.34 L499.59 195.99 L495.89 196.71 L492.19 197.49 L488.5 198.35 L484.8 199.27 L481.11 200.27 L477.41 201.35 L473.71 202.49 L470.02 203.71 L466.32 205.01 L462.62 206.38 L458.93 207.83 L455.23 209.36 L451.54 210.96 L447.84 212.65 L444.14 214.42 L440.45 216.28 L436.75 218.22 L433.06 220.25 L429.36 222.37 L425.66 224.58 L421.97 226.88 L418.27 229.28 L414.57 231.77 L410.88 234.37 L407.18 237.07 L403.49 239.88 L399.79 242.79 L396.09 245.82 L392.4 248.96 L388.7 252.23Z M388.7 233.85 L392.4 230.46 L396.09 226.95 L399.79 223.3 L403.49 219.71 L407.18 216.26 L410.88 212.96 L414.57 209.79 L418.27 206.75 L421.97 203.84 L425.66 201.06 L429.36 198.39 L433.06 195.84 L436.75 193.4 L440.45 191.07 L444.14 188.85 L447.84 186.74 L451.54 184.72 L455.23 182.81 L458.93 180.99 L462.62 179.28 L466.32 177.65 L470.02 176.12 L473.71 174.67 L477.41 173.32 L481.11 172.06 L484.8 170.88 L488.5 169.79 L492.19 168.78 L495.89 167.86 L499.59 167.02 L503.28 166.26 L506.98 165.58 L510.68 164.99 L514.37 164.47 L518.07 164.04 L521.76 163.68 L525.46 163.41 L529.16 163.21 L532.85 163.09 L536.55 163.05 L540.25 163.02 L543.94 162.92 L547.64 162.75 L551.34 162.51 L555.03 162.21 L558.73 161.84 L562.42 161.4 L566.12 160.89 L569.82 160.32 L573.51 159.67 L577.21 158.95 L580.9 158.17 L584.6 157.31 L588.3 156.39 L591.99 155.39 L595.69 154.31 L599.39 153.17 L603.08 151.95 L606.78 150.65 L610.47 149.28 L614.17 147.83 L617.87 146.3 L621.56 144.7 L625.26 143.01 L628.96 141.24 L632.65 139.38 L636.35 137.44 L640.05 135.41 L643.74 133.29 L647.44 131.08 L651.13 128.78 L654.83 126.38 L658.53 123.89 L662.22 121.29 L665.92 118.59 L669.62 115.78 L673.31 112.87 L677.01 109.84 L680.7 106.7 L684.4 103.43 L684.4 92.25 L680.7 95.64 L677.01 99.16 L673.31 102.8 L669.62 106.4 L665.92 109.84 L662.22 113.15 L658.53 116.32 L654.83 119.35 L651.13 122.26 L647.44 125.05 L643.74 127.72 L640.05 130.27 L636.35 132.7 L632.65 135.03 L628.96 137.25 L625.26 139.37 L621.56 141.38 L617.87 143.29 L614.17 145.11 L610.47 146.83 L606.78 148.46 L603.08 149.99 L599.39 151.43 L595.69 152.78 L591.99 154.05 L588.3 155.23 L584.6 156.32 L580.9 157.32 L577.21 158.25 L573.51 159.09 L569.82 159.85 L566.12 160.52 L562.42 161.12 L558.73 161.63 L555.03 162.07 L551.34 162.42 L547.64 162.7 L543.94 162.9 L540.25 163.01 L536.55 163.05 L532.85 163.09 L529.16 163.19 L525.46 163.36 L521.76 163.59 L518.07 163.89 L514.37 164.27 L510.68 164.7 L506.98 165.21 L503.28 165.79 L499.59 166.43 L495.89 167.15 L492.19 167.94 L488.5 168.79 L484.8 169.72 L481.11 170.72 L477.41 171.79 L473.71 172.94 L470.02 174.16 L466.32 175.45 L462.62 176.82 L458.93 178.27 L455.23 179.8 L451.54 181.41 L447.84 183.1 L444.14 184.87 L440.45 186.72 L436.75 188.67 L433.06 190.69 L429.36 192.81 L425.66 195.02 L421.97 197.32 L418.27 199.72 L414.57 202.22 L410.88 204.81 L407.18 207.51 L403.49 210.32 L399.79 213.24 L396.09 216.26 L392.4 219.41 L388.7 222.67Z M388.7 204.3 L392.4 200.91 L396.09 197.39 L399.79 193.75 L403.49 190.15 L407.18 186.71 L410.88 183.4 L414.57 180.23 L418.27 177.2 L421.97 174.29 L425.66 171.5 L429.36 168.83 L433.06 166.28 L436.75 163.85 L440.45 161.52 L444.14 159.3 L447.84 157.18 L451.54 155.17 L455.23 153.26 L458.93 151.44 L462.62 149.72 L466.32 148.09 L470.02 146.56 L473.71 145.12 L477.41 143.77 L481.11 142.5 L484.8 141.32 L488.5 140.23 L492.19 139.23 L495.89 138.3 L499.59 137.46 L503.28 136.7 L506.98 136.03 L510.68 135.43 L514.37 134.92 L518.07 134.48 L521.76 134.13 L525.46 133.85 L529.16 133.65 L532.85 133.54 L536.55 133.5 L540.25 133.46 L543.94 133.36 L547.64 133.19 L551.34 132.96 L555.03 132.66 L558.73 132.28 L562.42 131.85 L566.12 131.34 L569.82 130.76 L573.51 130.12 L577.21 129.4 L580.9 128.61 L584.6 127.76 L588.3 126.83 L591.99 125.83 L595.69 124.76 L599.39 123.61 L603.08 122.39 L606.78 121.1 L610.47 119.73 L614.17 118.28 L617.87 116.75 L621.56 115.14 L625.26 113.45 L628.96 111.68 L632.65 109.83 L636.35 107.88 L640.05 105.86 L643.74 103.74 L647.44 101.53 L651.13 99.23 L654.83 96.83 L658.53 94.33 L662.22 91.74 L665.92 89.04 L669.62 86.23 L673.31 83.31 L677.01 80.29 L680.7 77.14 L684.4 73.88 L684.4 62.7 L680.7 66.09 L677.01 69.6 L673.31 73.25 L669.62 76.84 L665.92 80.29 L662.22 83.59 L658.53 86.76 L654.83 89.8 L651.13 92.71 L647.44 95.49 L643.74 98.16 L640.05 100.71 L636.35 103.15 L632.65 105.48 L628.96 107.7 L625.26 109.81 L621.56 111.83 L617.87 113.74 L614.17 115.56 L610.47 117.27 L606.78 118.9 L603.08 120.43 L599.39 121.88 L595.69 123.23 L591.99 124.49 L588.3 125.67 L584.6 126.76 L580.9 127.77 L577.21 128.69 L573.51 129.53 L569.82 130.29 L566.12 130.97 L562.42 131.56 L558.73 132.08 L555.03 132.51 L551.34 132.87 L547.64 133.14 L543.94 133.34 L540.25 133.46 L536.55 133.5 L532.85 133.53 L529.16 133.63 L525.46 133.8 L521.76 134.04 L518.07 134.34 L514.37 134.71 L510.68 135.15 L506.98 135.66 L503.28 136.23 L499.59 136.88 L495.89 137.6 L492.19 138.38 L488.5 139.24 L484.8 140.16 L481.11 141.16 L477.41 142.24 L473.71 143.38 L470.02 144.6 L466.32 145.9 L462.62 147.27 L458.93 148.72 L455.23 150.25 L451.54 151.85 L447.84 153.54 L444.14 155.31 L440.45 157.17 L436.75 159.11 L433.06 161.14 L429.36 163.26 L425.66 165.47 L421.97 167.77 L418.27 170.17 L414.57 172.66 L410.88 175.26 L407.18 177.96 L403.49 180.77 L399.79 183.68 L396.09 186.71 L392.4 189.85 L388.7 193.12Z M388.7 174.74 L392.4 171.35 L396.09 167.84 L399.79 164.19 L403.49 160.6 L407.18 157.15 L410.88 153.85 L414.57 150.68 L418.27 147.64 L421.97 144.73 L425.66 141.95 L429.36 139.28 L433.06 136.73 L436.75 134.29 L440.45 131.96 L444.14 129.74 L447.84 127.63 L451.54 125.61 L455.23 123.7 L458.93 121.88 L462.62 120.17 L466.32 118.54 L470.02 117.01 L473.71 115.56 L477.41 114.21 L481.11 112.95 L484.8 111.77 L488.5 110.68 L492.19 109.67 L495.89 108.75 L499.59 107.91 L503.28 107.15 L506.98 106.47 L510.68 105.88 L514.37 105.36 L518.07 104.93 L521.76 104.57 L525.46 104.3 L529.16 104.1 L532.85 103.98 L536.55 103.94 L540.25 103.91 L543.94 103.81 L547.64 103.64 L551.34 103.4 L555.03 103.1 L558.73 102.73 L562.42 102.29 L566.12 101.78 L569.82 101.21 L573.51 100.56 L577.21 99.84 L580.9 99.06 L584.6 98.2 L588.3 97.28 L591.99 96.28 L595.69 95.2 L599.39 94.06 L603.08 92.84 L606.78 91.54 L610.47 90.17 L614.17 88.72 L617.87 87.19 L621.56 85.59 L625.26 83.9 L628.96 82.13 L632.65 80.27 L636.35 78.33 L640.05 76.3 L643.74 74.18 L647.44 71.97 L651.13 69.67 L654.83 67.27 L658.53 64.78 L662.22 62.18 L665.92 59.48 L669.62 56.67 L673.31 53.76 L677.01 50.73 L680.7 47.59 L684.4 44.32 L684.4 33.14 L680.7 36.53 L677.01 40.05 L673.31 43.69 L669.62 47.29 L665.92 50.73 L662.22 54.04 L658.53 57.21 L654.83 60.24 L651.13 63.15 L647.44 65.94 L643.74 68.61 L640.05 71.16 L636.35 73.59 L632.65 75.92 L628.96 78.14 L625.26 80.26 L621.56 82.27 L617.87 84.18 L614.17 86 L610.47 87.72 L606.78 89.35 L603.08 90.88 L599.39 92.32 L595.69 93.67 L591.99 94.94 L588.3 96.12 L584.6 97.21 L580.9 98.21 L577.21 99.14 L573.51 99.98 L569.82 100.74 L566.12 101.41 L562.42 102.01 L558.73 102.52 L555.03 102.96 L551.34 103.31 L547.64 103.59 L543.94 103.79 L540.25 103.9 L536.55 103.94 L532.85 103.98 L529.16 104.08 L525.46 104.25 L521.76 104.48 L518.07 104.78 L514.37 105.16 L510.68 105.59 L506.98 106.1 L503.28 106.68 L499.59 107.32 L495.89 108.04 L492.19 108.83 L488.5 109.68 L484.8 110.61 L481.11 111.61 L477.41 112.68 L473.71 113.83 L470.02 115.05 L466.32 116.34 L462.62 117.71 L458.93 119.16 L455.23 120.69 L451.54 122.3 L447.84 123.99 L444.14 125.76 L440.45 127.61 L436.75 129.56 L433.06 131.58 L429.36 133.7 L425.66 135.91 L421.97 138.21 L418.27 140.61 L414.57 143.11 L410.88 145.7 L407.18 148.4 L403.49 151.21 L399.79 154.13 L396.09 157.15 L392.4 160.3 L388.7 163.56Z M388.7 145.19 L392.4 141.8 L396.09 138.28 L399.79 134.64 L403.49 131.04 L407.18 127.6 L410.88 124.29 L414.57 121.12 L418.27 118.09 L421.97 115.18 L425.66 112.39 L429.36 109.72 L433.06 107.17 L436.75 104.74 L440.45 102.41 L444.14 100.19 L447.84 98.07 L451.54 96.06 L455.23 94.15 L458.93 92.33 L462.62 90.61 L466.32 88.98 L470.02 87.45 L473.71 86.01 L477.41 84.66 L481.11 83.39 L484.8 82.21 L488.5 81.12 L492.19 80.12 L495.89 79.19 L499.59 78.35 L503.28 77.59 L506.98 76.92 L510.68 76.32 L514.37 75.81 L518.07 75.37 L521.76 75.02 L525.46 74.74 L529.16 74.54 L532.85 74.43 L536.55 74.39 L540.25 74.35 L543.94 74.25 L547.64 74.08 L551.34 73.85 L555.03 73.55 L558.73 73.17 L562.42 72.74 L566.12 72.23 L569.82 71.65 L573.51 71.01 L577.21 70.29 L580.9 69.5 L584.6 68.65 L588.3 67.72 L591.99 66.72 L595.69 65.65 L599.39 64.5 L603.08 63.28 L606.78 61.99 L610.47 60.62 L614.17 59.17 L617.87 57.64 L621.56 56.03 L625.26 54.34 L628.96 52.57 L632.65 50.72 L636.35 48.77 L640.05 46.75 L643.74 44.63 L647.44 42.42 L651.13 40.12 L654.83 37.72 L658.53 35.22 L662.22 32.63 L665.92 29.93 L669.62 27.12 L673.31 24.2 L677.01 21.18 L680.7 18.03 L684.4 14.77 L684.4 3.59 L680.7 6.98 L677.01 10.49 L673.31 14.14 L669.62 17.73 L665.92 21.18 L662.22 24.48 L658.53 27.65 L654.83 30.69 L651.13 33.6 L647.44 36.38 L643.74 39.05 L640.05 41.6 L636.35 44.04 L632.65 46.37 L628.96 48.59 L625.26 50.7 L621.56 52.72 L617.87 54.63 L614.17 56.45 L610.47 58.16 L606.78 59.79 L603.08 61.32 L599.39 62.77 L595.69 64.12 L591.99 65.38 L588.3 66.56 L584.6 67.65 L580.9 68.66 L577.21 69.58 L573.51 70.42 L569.82 71.18 L566.12 71.86 L562.42 72.45 L558.73 72.97 L555.03 73.4 L551.34 73.76 L547.64 74.03 L543.94 74.23 L540.25 74.35 L536.55 74.39 L532.85 74.42 L529.16 74.52 L525.46 74.69 L521.76 74.93 L518.07 75.23 L514.37 75.6 L510.68 76.04 L506.98 76.55 L503.28 77.12 L499.59 77.77 L495.89 78.49 L492.19 79.27 L488.5 80.13 L484.8 81.05 L481.11 82.05 L477.41 83.13 L473.71 84.27 L470.02 85.49 L466.32 86.79 L462.62 88.16 L458.93 89.61 L455.23 91.14 L451.54 92.74 L447.84 94.43 L444.14 96.2 L440.45 98.06 L436.75 100 L433.06 102.03 L429.36 104.15 L425.66 106.36 L421.97 108.66 L418.27 111.06 L414.57 113.55 L410.88 116.15 L407.18 118.85 L403.49 121.66 L399.79 124.57 L396.09 127.6 L392.4 130.74 L388.7 134.01Z M388.7 115.63 L392.4 112.24 L396.09 108.73 L399.79 105.08 L403.49 101.49 L407.18 98.04 L410.88 94.74 L414.57 91.57 L418.27 88.53 L421.97 85.62 L425.66 82.84 L429.36 80.17 L433.06 77.62 L436.75 75.18 L440.45 72.85 L444.14 70.63 L447.84 68.52 L451.54 66.5 L455.23 64.59 L458.93 62.77 L462.62 61.06 L466.32 59.43 L470.02 57.9 L473.71 56.45 L477.41 55.1 L481.11 53.84 L484.8 52.66 L488.5 51.57 L492.19 50.56 L495.89 49.64 L499.59 48.8 L503.28 48.04 L506.98 47.36 L510.68 46.77 L514.37 46.25 L518.07 45.82 L521.76 45.46 L525.46 45.19 L529.16 44.99 L532.85 44.87 L536.55 44.83 L540.25 44.8 L543.94 44.7 L547.64 44.53 L551.34 44.29 L555.03 43.99 L558.73 43.62 L562.42 43.18 L566.12 42.67 L569.82 42.1 L573.51 41.45 L577.21 40.73 L580.9 39.95 L584.6 39.09 L588.3 38.17 L591.99 37.17 L595.69 36.09 L599.39 34.95 L603.08 33.73 L606.78 32.43 L610.47 31.06 L614.17 29.61 L617.87 28.08 L621.56 26.48 L625.26 24.79 L628.96 23.02 L632.65 21.16 L636.35 19.22 L640.05 17.19 L643.74 15.07 L647.44 12.86 L651.13 10.56 L654.83 8.16 L658.53 5.67 L662.22 3.07 L665.92 0.37 L669.62 -2.44 L673.31 -5.35 L677.01 -8.38 L680.7 -11.52 L684.4 -14.79 L684.4 -25.97 L680.7 -22.58 L677.01 -19.06 L673.31 -15.42 L669.62 -11.82 L665.92 -8.38 L662.22 -5.07 L658.53 -1.9 L654.83 1.13 L651.13 4.04 L647.44 6.83 L643.74 9.5 L640.05 12.05 L636.35 14.48 L632.65 16.81 L628.96 19.03 L625.26 21.15 L621.56 23.16 L617.87 25.07 L614.17 26.89 L610.47 28.61 L606.78 30.24 L603.08 31.77 L599.39 33.21 L595.69 34.56 L591.99 35.83 L588.3 37.01 L584.6 38.1 L580.9 39.1 L577.21 40.03 L573.51 40.87 L569.82 41.63 L566.12 42.3 L562.42 42.9 L558.73 43.41 L555.03 43.85 L551.34 44.2 L547.64 44.48 L543.94 44.68 L540.25 44.79 L536.55 44.83 L532.85 44.87 L529.16 44.97 L525.46 45.14 L521.76 45.37 L518.07 45.67 L514.37 46.05 L510.68 46.48 L506.98 46.99 L503.28 47.57 L499.59 48.21 L495.89 48.93 L492.19 49.72 L488.5 50.57 L484.8 51.5 L481.11 52.5 L477.41 53.57 L473.71 54.72 L470.02 55.94 L466.32 57.23 L462.62 58.6 L458.93 60.05 L455.23 61.58 L451.54 63.19 L447.84 64.88 L444.14 66.65 L440.45 68.5 L436.75 70.45 L433.06 72.47 L429.36 74.59 L425.66 76.8 L421.97 79.1 L418.27 81.5 L414.57 84 L410.88 86.59 L407.18 89.29 L403.49 92.1 L399.79 95.02 L396.09 98.04 L392.4 101.19 L388.7 104.45Z M388.7 86.08 L392.4 82.69 L396.09 79.17 L399.79 75.53 L403.49 71.93 L407.18 68.49 L410.88 65.18 L414.57 62.01 L418.27 58.98 L421.97 56.07 L425.66 53.28 L429.36 50.61 L433.06 48.06 L436.75 45.63 L440.45 43.3 L444.14 41.08 L447.84 38.96 L451.54 36.95 L455.23 35.04 L458.93 33.22 L462.62 31.5 L466.32 29.87 L470.02 28.34 L473.71 26.9 L477.41 25.55 L481.11 24.28 L484.8 23.1 L488.5 22.01 L492.19 21.01 L495.89 20.08 L499.59 19.24 L503.28 18.48 L506.98 17.81 L510.68 17.21 L514.37 16.7 L518.07 16.26 L521.76 15.91 L525.46 15.63 L529.16 15.43 L532.85 15.32 L536.55 15.28 L540.25 15.24 L543.94 15.14 L547.64 14.97 L551.34 14.74 L555.03 14.44 L558.73 14.06 L562.42 13.63 L566.12 13.12 L569.82 12.54 L573.51 11.9 L577.21 11.18 L580.9 10.39 L584.6 9.54 L588.3 8.61 L591.99 7.61 L595.69 6.54 L599.39 5.39 L603.08 4.17 L606.78 2.88 L610.47 1.51 L614.17 0.06 L617.87 -1.47 L621.56 -3.08 L625.26 -4.77 L628.96 -6.54 L632.65 -8.39 L636.35 -10.34 L640.05 -12.36 L643.74 -14.48 L647.44 -16.69 L651.13 -18.99 L654.83 -21.39 L658.53 -23.89 L662.22 -26.48 L665.92 -29.18 L669.62 -31.99 L673.31 -34.91 L677.01 -37.93 L680.7 -41.08 L684.4 -44.34 L684.4 -55.52 L680.7 -52.13 L677.01 -48.62 L673.31 -44.97 L669.62 -41.38 L665.92 -37.93 L662.22 -34.63 L658.53 -31.46 L654.83 -28.42 L651.13 -25.51 L647.44 -22.73 L643.74 -20.06 L640.05 -17.51 L636.35 -15.07 L632.65 -12.74 L628.96 -10.52 L625.26 -8.41 L621.56 -6.39 L617.87 -4.48 L614.17 -2.66 L610.47 -0.95 L606.78 0.68 L603.08 2.21 L599.39 3.66 L595.69 5.01 L591.99 6.27 L588.3 7.45 L584.6 8.54 L580.9 9.55 L577.21 10.47 L573.51 11.31 L569.82 12.07 L566.12 12.75 L562.42 13.34 L558.73 13.86 L555.03 14.29 L551.34 14.65 L547.64 14.92 L543.94 15.12 L540.25 15.24 L536.55 15.28 L532.85 15.31 L529.16 15.41 L525.46 15.58 L521.76 15.82 L518.07 16.12 L514.37 16.49 L510.68 16.93 L506.98 17.44 L503.28 18.01 L499.59 18.66 L495.89 19.38 L492.19 20.16 L488.5 21.02 L484.8 21.94 L481.11 22.94 L477.41 24.02 L473.71 25.16 L470.02 26.38 L466.32 27.68 L462.62 29.05 L458.93 30.5 L455.23 32.03 L451.54 33.63 L447.84 35.32 L444.14 37.09 L440.45 38.95 L436.75 40.89 L433.06 42.92 L429.36 45.04 L425.66 47.25 L421.97 49.55 L418.27 51.95 L414.57 54.44 L410.88 57.04 L407.18 59.74 L403.49 62.55 L399.79 65.46 L396.09 68.49 L392.4 71.63 L388.7 74.9Z M388.7 56.52 L392.4 53.13 L396.09 49.62 L399.79 45.97 L403.49 42.38 L407.18 38.93 L410.88 35.63 L414.57 32.46 L418.27 29.42 L421.97 26.51 L425.66 23.73 L429.36 21.06 L433.06 18.51 L436.75 16.07 L440.45 13.74 L444.14 11.52 L447.84 9.41 L451.54 7.39 L455.23 5.48 L458.93 3.66 L462.62 1.95 L466.32 0.32 L470.02 -1.21 L473.71 -2.66 L477.41 -4.01 L481.11 -5.27 L484.8 -6.45 L488.5 -7.54 L492.19 -8.55 L495.89 -9.47 L499.59 -10.31 L503.28 -11.07 L506.98 -11.75 L510.68 -12.34 L514.37 -12.86 L518.07 -13.29 L521.76 -13.65 L525.46 -13.92 L529.16 -14.12 L532.85 -14.24 L536.55 -14.28 L540.25 -14.31 L543.94 -14.41 L547.64 -14.58 L551.34 -14.82 L555.03 -15.12 L558.73 -15.49 L562.42 -15.93 L566.12 -16.44 L569.82 -17.01 L573.51 -17.66 L577.21 -18.38 L580.9 -19.16 L584.6 -20.02 L588.3 -20.94 L591.99 -21.94 L595.69 -23.02 L599.39 -24.16 L603.08 -25.38 L606.78 -26.68 L610.47 -28.05 L614.17 -29.5 L617.87 -31.03 L621.56 -32.63 L625.26 -34.32 L628.96 -36.09 L632.65 -37.95 L636.35 -39.89 L640.05 -41.92 L643.74 -44.04 L647.44 -46.25 L651.13 -48.55 L654.83 -50.95 L658.53 -53.44 L662.22 -56.04 L665.92 -58.74 L669.62 -61.55 L673.31 -64.46 L677.01 -67.49 L680.7 -70.63 L684.4 -73.9 L684.4 -85.08 L680.7 -81.69 L677.01 -78.17 L673.31 -74.53 L669.62 -70.93 L665.92 -67.49 L662.22 -64.18 L658.53 -61.01 L654.83 -57.98 L651.13 -55.07 L647.44 -52.28 L643.74 -49.61 L640.05 -47.06 L636.35 -44.63 L632.65 -42.3 L628.96 -40.08 L625.26 -37.96 L621.56 -35.95 L617.87 -34.04 L614.17 -32.22 L610.47 -30.5 L606.78 -28.87 L603.08 -27.34 L599.39 -25.9 L595.69 -24.55 L591.99 -23.28 L588.3 -22.1 L584.6 -21.01 L580.9 -20.01 L577.21 -19.08 L573.51 -18.24 L569.82 -17.48 L566.12 -16.81 L562.42 -16.21 L558.73 -15.7 L555.03 -15.26 L551.34 -14.91 L547.64 -14.63 L543.94 -14.43 L540.25 -14.32 L536.55 -14.28 L532.85 -14.24 L529.16 -14.14 L525.46 -13.97 L521.76 -13.74 L518.07 -13.44 L514.37 -13.06 L510.68 -12.63 L506.98 -12.12 L503.28 -11.54 L499.59 -10.9 L495.89 -10.18 L492.19 -9.39 L488.5 -8.54 L484.8 -7.61 L481.11 -6.61 L477.41 -5.54 L473.71 -4.39 L470.02 -3.17 L466.32 -1.88 L462.62 -0.51 L458.93 0.94 L455.23 2.47 L451.54 4.08 L447.84 5.77 L444.14 7.54 L440.45 9.39 L436.75 11.34 L433.06 13.36 L429.36 15.48 L425.66 17.69 L421.97 19.99 L418.27 22.39 L414.57 24.89 L410.88 27.48 L407.18 30.18 L403.49 32.99 L399.79 35.91 L396.09 38.93 L392.4 42.08 L388.7 45.34Z M388.7 26.97 L392.4 23.58 L396.09 20.06 L399.79 16.42 L403.49 12.82 L407.18 9.38 L410.88 6.07 L414.57 2.9 L418.27 -0.13 L421.97 -3.04 L425.66 -5.83 L429.36 -8.5 L433.06 -11.05 L436.75 -13.48 L440.45 -15.81 L444.14 -18.03 L447.84 -20.15 L451.54 -22.16 L455.23 -24.07 L458.93 -25.89 L462.62 -27.61 L466.32 -29.24 L470.02 -30.77 L473.71 -32.21 L477.41 -33.56 L481.11 -34.83 L484.8 -36.01 L488.5 -37.1 L492.19 -38.1 L495.89 -39.03 L499.59 -39.87 L503.28 -40.63 L506.98 -41.3 L510.68 -41.9 L514.37 -42.41 L518.07 -42.85 L521.76 -43.2 L525.46 -43.48 L529.16 -43.68 L532.85 -43.79 L536.55 -43.83 L540.25 -43.87 L543.94 -43.97 L547.64 -44.14 L551.34 -44.37 L555.03 -44.67 L558.73 -45.05 L562.42 -45.48 L566.12 -45.99 L569.82 -46.57 L573.51 -47.21 L577.21 -47.93 L580.9 -48.72 L584.6 -49.57 L588.3 -50.5 L591.99 -51.5 L595.69 -52.57 L599.39 -53.72 L603.08 -54.94 L606.78 -56.23 L610.47 -57.6 L614.17 -59.05 L617.87 -60.58 L621.56 -62.19 L625.26 -63.88 L628.96 -65.65 L632.65 -67.5 L636.35 -69.45 L640.05 -71.47 L643.74 -73.59 L647.44 -75.8 L651.13 -78.1 L654.83 -80.5 L658.53 -83 L662.22 -85.59 L665.92 -88.29 L669.62 -91.1 L673.31 -94.02 L677.01 -97.04 L680.7 -100.19 L684.4 -103.45 L684.4 -114.63 L680.7 -111.24 L677.01 -107.73 L673.31 -104.08 L669.62 -100.49 L665.92 -97.04 L662.22 -93.74 L658.53 -90.57 L654.83 -87.53 L651.13 -84.62 L647.44 -81.84 L643.74 -79.17 L640.05 -76.62 L636.35 -74.18 L632.65 -71.85 L628.96 -69.63 L625.26 -67.52 L621.56 -65.5 L617.87 -63.59 L614.17 -61.77 L610.47 -60.06 L606.78 -58.43 L603.08 -56.9 L599.39 -55.45 L595.69 -54.1 L591.99 -52.84 L588.3 -51.66 L584.6 -50.57 L580.9 -49.56 L577.21 -48.64 L573.51 -47.8 L569.82 -47.04 L566.12 -46.36 L562.42 -45.77 L558.73 -45.25 L555.03 -44.82 L551.34 -44.46 L547.64 -44.19 L543.94 -43.99 L540.25 -43.87 L536.55 -43.83 L532.85 -43.8 L529.16 -43.7 L525.46 -43.53 L521.76 -43.29 L518.07 -42.99 L514.37 -42.62 L510.68 -42.18 L506.98 -41.67 L503.28 -41.1 L499.59 -40.45 L495.89 -39.73 L492.19 -38.95 L488.5 -38.09 L484.8 -37.17 L481.11 -36.17 L477.41 -35.09 L473.71 -33.95 L470.02 -32.73 L466.32 -31.43 L462.62 -30.06 L458.93 -28.61 L455.23 -27.08 L451.54 -25.48 L447.84 -23.79 L444.14 -22.02 L440.45 -20.16 L436.75 -18.22 L433.06 -16.19 L429.36 -14.07 L425.66 -11.86 L421.97 -9.56 L418.27 -7.16 L414.57 -4.67 L410.88 -2.07 L407.18 0.63 L403.49 3.44 L399.79 6.35 L396.09 9.38 L392.4 12.52 L388.7 15.79Z M388.7 -2.59 L392.4 -5.98 L396.09 -9.49 L399.79 -13.14 L403.49 -16.73 L407.18 -20.18 L410.88 -23.48 L414.57 -26.65 L418.27 -29.69 L421.97 -32.6 L425.66 -35.38 L429.36 -38.05 L433.06 -40.6 L436.75 -43.04 L440.45 -45.37 L444.14 -47.59 L447.84 -49.7 L451.54 -51.72 L455.23 -53.63 L458.93 -55.45 L462.62 -57.16 L466.32 -58.79 L470.02 -60.32 L473.71 -61.77 L477.41 -63.12 L481.11 -64.38 L484.8 -65.56 L488.5 -66.65 L492.19 -67.66 L495.89 -68.58 L499.59 -69.42 L503.28 -70.18 L506.98 -70.86 L510.68 -71.45 L514.37 -71.97 L518.07 -72.4 L521.76 -72.76 L525.46 -73.03 L529.16 -73.23 L532.85 -73.35 L536.55 -73.39 L540.25 -73.42 L543.94 -73.52 L547.64 -73.69 L551.34 -73.93 L555.03 -74.23 L558.73 -74.6 L562.42 -75.04 L566.12 -75.55 L569.82 -76.12 L573.51 -76.77 L577.21 -77.49 L580.9 -78.27 L584.6 -79.13 L588.3 -80.05 L591.99 -81.05 L595.69 -82.13 L599.39 -83.27 L603.08 -84.49 L606.78 -85.79 L610.47 -87.16 L614.17 -88.61 L617.87 -90.14 L621.56 -91.74 L625.26 -93.43 L628.96 -95.2 L632.65 -97.06 L636.35 -99 L640.05 -101.03 L643.74 -103.15 L647.44 -105.36 L651.13 -107.66 L654.83 -110.06 L658.53 -112.55 L662.22 -115.15 L665.92 -117.85 L669.62 -120.66 L673.31 -123.57 L677.01 -126.6 L680.7 -129.74 L684.4 -133.01 L684.4 -144.19 L680.7 -140.8 L677.01 -137.28 L673.31 -133.64 L669.62 -130.04 L665.92 -126.6 L662.22 -123.29 L658.53 -120.12 L654.83 -117.09 L651.13 -114.18 L647.44 -111.39 L643.74 -108.72 L640.05 -106.17 L636.35 -103.74 L632.65 -101.41 L628.96 -99.19 L625.26 -97.07 L621.56 -95.06 L617.87 -93.15 L614.17 -91.33 L610.47 -89.61 L606.78 -87.98 L603.08 -86.45 L599.39 -85.01 L595.69 -83.66 L591.99 -82.39 L588.3 -81.21 L584.6 -80.12 L580.9 -79.12 L577.21 -78.19 L573.51 -77.35 L569.82 -76.59 L566.12 -75.92 L562.42 -75.32 L558.73 -74.81 L555.03 -74.37 L551.34 -74.02 L547.64 -73.74 L543.94 -73.54 L540.25 -73.43 L536.55 -73.39 L532.85 -73.35 L529.16 -73.25 L525.46 -73.08 L521.76 -72.85 L518.07 -72.55 L514.37 -72.17 L510.68 -71.74 L506.98 -71.23 L503.28 -70.65 L499.59 -70.01 L495.89 -69.29 L492.19 -68.5 L488.5 -67.65 L484.8 -66.72 L481.11 -65.72 L477.41 -64.65 L473.71 -63.5 L470.02 -62.28 L466.32 -60.99 L462.62 -59.62 L458.93 -58.17 L455.23 -56.64 L451.54 -55.03 L447.84 -53.34 L444.14 -51.57 L440.45 -49.72 L436.75 -47.77 L433.06 -45.75 L429.36 -43.63 L425.66 -41.42 L421.97 -39.12 L418.27 -36.72 L414.57 -34.22 L410.88 -31.63 L407.18 -28.93 L403.49 -26.12 L399.79 -23.2 L396.09 -20.18 L392.4 -17.03 L388.7 -13.77Z"/><path class="bl" d="M388.7 429.56 L392.4 426.29 L396.09 423.15 L399.79 420.12 L403.49 417.21 L407.18 414.4 L410.88 411.7 L414.57 409.1 L418.27 406.61 L421.97 404.21 L425.66 401.91 L429.36 399.7 L433.06 397.58 L436.75 395.55 L440.45 393.61 L444.14 391.75 L447.84 389.98 L451.54 388.29 L455.23 386.69 L458.93 385.16 L462.62 383.71 L466.32 382.34 L470.02 381.04 L473.71 379.82 L477.41 378.68 L481.11 377.6 L484.8 376.6 L488.5 375.68 L492.19 374.82 L495.89 374.04 L499.59 373.32 L503.28 372.67 L506.98 372.1 L510.68 371.59 L514.37 371.15 L518.07 370.78 L521.76 370.48 L525.46 370.24 L529.16 370.07 L532.85 369.97 L536.55 369.94 L540.25 369.9 L543.94 369.78 L547.64 369.58 L551.34 369.31 L555.03 368.95 L558.73 368.52 L562.42 368 L566.12 367.41 L569.82 366.73 L573.51 365.97 L577.21 365.13 L580.9 364.21 L584.6 363.2 L588.3 362.11 L591.99 360.93 L595.69 359.67 L599.39 358.32 L603.08 356.87 L606.78 355.34 L610.47 353.71 L614.17 352 L617.87 350.18 L621.56 348.27 L625.26 346.25 L628.96 344.14 L632.65 341.92 L636.35 339.59 L640.05 337.15 L643.74 334.6 L647.44 331.93 L651.13 329.15 L654.83 326.24 L658.53 323.2 L662.22 320.03 L665.92 316.73 L669.62 313.28 L673.31 309.69 L677.01 306.04 L680.7 302.53 L684.4 299.14 M388.7 400 L392.4 396.74 L396.09 393.59 L399.79 390.57 L403.49 387.65 L407.18 384.84 L410.88 382.14 L414.57 379.55 L418.27 377.05 L421.97 374.65 L425.66 372.35 L429.36 370.14 L433.06 368.02 L436.75 366 L440.45 364.05 L444.14 362.2 L447.84 360.43 L451.54 358.74 L455.23 357.13 L458.93 355.6 L462.62 354.15 L466.32 352.78 L470.02 351.49 L473.71 350.27 L477.41 349.12 L481.11 348.05 L484.8 347.05 L488.5 346.12 L492.19 345.27 L495.89 344.48 L499.59 343.76 L503.28 343.12 L506.98 342.54 L510.68 342.03 L514.37 341.6 L518.07 341.22 L521.76 340.92 L525.46 340.69 L529.16 340.52 L532.85 340.42 L536.55 340.38 L540.25 340.34 L543.94 340.23 L547.64 340.03 L551.34 339.75 L555.03 339.4 L558.73 338.96 L562.42 338.45 L566.12 337.85 L569.82 337.18 L573.51 336.42 L577.21 335.58 L580.9 334.65 L584.6 333.65 L588.3 332.56 L591.99 331.38 L595.69 330.11 L599.39 328.76 L603.08 327.32 L606.78 325.79 L610.47 324.16 L614.17 322.44 L617.87 320.62 L621.56 318.71 L625.26 316.7 L628.96 314.58 L632.65 312.36 L636.35 310.03 L640.05 307.6 L643.74 305.05 L647.44 302.38 L651.13 299.59 L654.83 296.68 L658.53 293.65 L662.22 290.48 L665.92 287.17 L669.62 283.73 L673.31 280.13 L677.01 276.49 L680.7 272.97 L684.4 269.58 M388.7 370.45 L392.4 367.18 L396.09 364.04 L399.79 361.01 L403.49 358.1 L407.18 355.29 L410.88 352.59 L414.57 349.99 L418.27 347.5 L421.97 345.1 L425.66 342.8 L429.36 340.59 L433.06 338.47 L436.75 336.44 L440.45 334.5 L444.14 332.64 L447.84 330.87 L451.54 329.18 L455.23 327.58 L458.93 326.05 L462.62 324.6 L466.32 323.23 L470.02 321.93 L473.71 320.71 L477.41 319.57 L481.11 318.49 L484.8 317.49 L488.5 316.57 L492.19 315.71 L495.89 314.93 L499.59 314.21 L503.28 313.56 L506.98 312.99 L510.68 312.48 L514.37 312.04 L518.07 311.67 L521.76 311.37 L525.46 311.13 L529.16 310.96 L532.85 310.86 L536.55 310.83 L540.25 310.79 L543.94 310.67 L547.64 310.47 L551.34 310.2 L555.03 309.84 L558.73 309.41 L562.42 308.89 L566.12 308.3 L569.82 307.62 L573.51 306.86 L577.21 306.02 L580.9 305.1 L584.6 304.09 L588.3 303 L591.99 301.82 L595.69 300.56 L599.39 299.21 L603.08 297.76 L606.78 296.23 L610.47 294.6 L614.17 292.89 L617.87 291.07 L621.56 289.16 L625.26 287.14 L628.96 285.03 L632.65 282.81 L636.35 280.48 L640.05 278.04 L643.74 275.49 L647.44 272.82 L651.13 270.04 L654.83 267.13 L658.53 264.09 L662.22 260.92 L665.92 257.62 L669.62 254.17 L673.31 250.58 L677.01 246.93 L680.7 243.42 L684.4 240.03 M388.7 340.89 L392.4 337.63 L396.09 334.48 L399.79 331.46 L403.49 328.54 L407.18 325.73 L410.88 323.03 L414.57 320.44 L418.27 317.94 L421.97 315.54 L425.66 313.24 L429.36 311.03 L433.06 308.91 L436.75 306.89 L440.45 304.94 L444.14 303.09 L447.84 301.32 L451.54 299.63 L455.23 298.02 L458.93 296.49 L462.62 295.04 L466.32 293.67 L470.02 292.38 L473.71 291.16 L477.41 290.01 L481.11 288.94 L484.8 287.94 L488.5 287.01 L492.19 286.16 L495.89 285.37 L499.59 284.65 L503.28 284.01 L506.98 283.43 L510.68 282.92 L514.37 282.49 L518.07 282.11 L521.76 281.81 L525.46 281.58 L529.16 281.41 L532.85 281.31 L536.55 281.27 L540.25 281.23 L543.94 281.12 L547.64 280.92 L551.34 280.64 L555.03 280.29 L558.73 279.85 L562.42 279.34 L566.12 278.74 L569.82 278.07 L573.51 277.31 L577.21 276.47 L580.9 275.54 L584.6 274.54 L588.3 273.45 L591.99 272.27 L595.69 271 L599.39 269.65 L603.08 268.21 L606.78 266.68 L610.47 265.05 L614.17 263.33 L617.87 261.51 L621.56 259.6 L625.26 257.59 L628.96 255.47 L632.65 253.25 L636.35 250.92 L640.05 248.49 L643.74 245.94 L647.44 243.27 L651.13 240.48 L654.83 237.57 L658.53 234.54 L662.22 231.37 L665.92 228.06 L669.62 224.62 L673.31 221.02 L677.01 217.38 L680.7 213.86 L684.4 210.47 M388.7 311.34 L392.4 308.07 L396.09 304.93 L399.79 301.9 L403.49 298.99 L407.18 296.18 L410.88 293.48 L414.57 290.88 L418.27 288.39 L421.97 285.99 L425.66 283.69 L429.36 281.48 L433.06 279.36 L436.75 277.33 L440.45 275.39 L444.14 273.53 L447.84 271.76 L451.54 270.07 L455.23 268.47 L458.93 266.94 L462.62 265.49 L466.32 264.12 L470.02 262.82 L473.71 261.6 L477.41 260.46 L481.11 259.38 L484.8 258.38 L488.5 257.46 L492.19 256.6 L495.89 255.82 L499.59 255.1 L503.28 254.45 L506.98 253.88 L510.68 253.37 L514.37 252.93 L518.07 252.56 L521.76 252.26 L525.46 252.02 L529.16 251.85 L532.85 251.75 L536.55 251.72 L540.25 251.68 L543.94 251.56 L547.64 251.36 L551.34 251.09 L555.03 250.73 L558.73 250.3 L562.42 249.78 L566.12 249.19 L569.82 248.51 L573.51 247.75 L577.21 246.91 L580.9 245.99 L584.6 244.98 L588.3 243.89 L591.99 242.71 L595.69 241.45 L599.39 240.1 L603.08 238.65 L606.78 237.12 L610.47 235.49 L614.17 233.78 L617.87 231.96 L621.56 230.05 L625.26 228.03 L628.96 225.92 L632.65 223.7 L636.35 221.37 L640.05 218.93 L643.74 216.38 L647.44 213.71 L651.13 210.93 L654.83 208.02 L658.53 204.98 L662.22 201.81 L665.92 198.51 L669.62 195.06 L673.31 191.47 L677.01 187.82 L680.7 184.31 L684.4 180.92 M388.7 281.78 L392.4 278.52 L396.09 275.37 L399.79 272.35 L403.49 269.43 L407.18 266.62 L410.88 263.92 L414.57 261.33 L418.27 258.83 L421.97 256.43 L425.66 254.13 L429.36 251.92 L433.06 249.8 L436.75 247.78 L440.45 245.83 L444.14 243.98 L447.84 242.21 L451.54 240.52 L455.23 238.91 L458.93 237.38 L462.62 235.93 L466.32 234.56 L470.02 233.27 L473.71 232.05 L477.41 230.9 L481.11 229.83 L484.8 228.83 L488.5 227.9 L492.19 227.05 L495.89 226.26 L499.59 225.54 L503.28 224.9 L506.98 224.32 L510.68 223.81 L514.37 223.38 L518.07 223 L521.76 222.7 L525.46 222.47 L529.16 222.3 L532.85 222.2 L536.55 222.16 L540.25 222.12 L543.94 222.01 L547.64 221.81 L551.34 221.53 L555.03 221.18 L558.73 220.74 L562.42 220.23 L566.12 219.63 L569.82 218.96 L573.51 218.2 L577.21 217.36 L580.9 216.43 L584.6 215.43 L588.3 214.34 L591.99 213.16 L595.69 211.89 L599.39 210.54 L603.08 209.1 L606.78 207.57 L610.47 205.94 L614.17 204.22 L617.87 202.4 L621.56 200.49 L625.26 198.48 L628.96 196.36 L632.65 194.14 L636.35 191.81 L640.05 189.38 L643.74 186.83 L647.44 184.16 L651.13 181.37 L654.83 178.46 L658.53 175.43 L662.22 172.26 L665.92 168.95 L669.62 165.51 L673.31 161.91 L677.01 158.27 L680.7 154.75 L684.4 151.36 M388.7 252.23 L392.4 248.96 L396.09 245.82 L399.79 242.79 L403.49 239.88 L407.18 237.07 L410.88 234.37 L414.57 231.77 L418.27 229.28 L421.97 226.88 L425.66 224.58 L429.36 222.37 L433.06 220.25 L436.75 218.22 L440.45 216.28 L444.14 214.42 L447.84 212.65 L451.54 210.96 L455.23 209.36 L458.93 207.83 L462.62 206.38 L466.32 205.01 L470.02 203.71 L473.71 202.49 L477.41 201.35 L481.11 200.27 L484.8 199.27 L488.5 198.35 L492.19 197.49 L495.89 196.71 L499.59 195.99 L503.28 195.34 L506.98 194.77 L510.68 194.26 L514.37 193.82 L518.07 193.45 L521.76 193.15 L525.46 192.91 L529.16 192.74 L532.85 192.64 L536.55 192.61 L540.25 192.57 L543.94 192.45 L547.64 192.25 L551.34 191.98 L555.03 191.62 L558.73 191.19 L562.42 190.67 L566.12 190.08 L569.82 189.4 L573.51 188.64 L577.21 187.8 L580.9 186.88 L584.6 185.87 L588.3 184.78 L591.99 183.6 L595.69 182.34 L599.39 180.99 L603.08 179.54 L606.78 178.01 L610.47 176.38 L614.17 174.67 L617.87 172.85 L621.56 170.94 L625.26 168.92 L628.96 166.81 L632.65 164.59 L636.35 162.26 L640.05 159.82 L643.74 157.27 L647.44 154.6 L651.13 151.82 L654.83 148.91 L658.53 145.87 L662.22 142.7 L665.92 139.4 L669.62 135.95 L673.31 132.36 L677.01 128.71 L680.7 125.2 L684.4 121.81 M388.7 222.67 L392.4 219.41 L396.09 216.26 L399.79 213.24 L403.49 210.32 L407.18 207.51 L410.88 204.81 L414.57 202.22 L418.27 199.72 L421.97 197.32 L425.66 195.02 L429.36 192.81 L433.06 190.69 L436.75 188.67 L440.45 186.72 L444.14 184.87 L447.84 183.1 L451.54 181.41 L455.23 179.8 L458.93 178.27 L462.62 176.82 L466.32 175.45 L470.02 174.16 L473.71 172.94 L477.41 171.79 L481.11 170.72 L484.8 169.72 L488.5 168.79 L492.19 167.94 L495.89 167.15 L499.59 166.43 L503.28 165.79 L506.98 165.21 L510.68 164.7 L514.37 164.27 L518.07 163.89 L521.76 163.59 L525.46 163.36 L529.16 163.19 L532.85 163.09 L536.55 163.05 L540.25 163.01 L543.94 162.9 L547.64 162.7 L551.34 162.42 L555.03 162.07 L558.73 161.63 L562.42 161.12 L566.12 160.52 L569.82 159.85 L573.51 159.09 L577.21 158.25 L580.9 157.32 L584.6 156.32 L588.3 155.23 L591.99 154.05 L595.69 152.78 L599.39 151.43 L603.08 149.99 L606.78 148.46 L610.47 146.83 L614.17 145.11 L617.87 143.29 L621.56 141.38 L625.26 139.37 L628.96 137.25 L632.65 135.03 L636.35 132.7 L640.05 130.27 L643.74 127.72 L647.44 125.05 L651.13 122.26 L654.83 119.35 L658.53 116.32 L662.22 113.15 L665.92 109.84 L669.62 106.4 L673.31 102.8 L677.01 99.16 L680.7 95.64 L684.4 92.25 M388.7 193.12 L392.4 189.85 L396.09 186.71 L399.79 183.68 L403.49 180.77 L407.18 177.96 L410.88 175.26 L414.57 172.66 L418.27 170.17 L421.97 167.77 L425.66 165.47 L429.36 163.26 L433.06 161.14 L436.75 159.11 L440.45 157.17 L444.14 155.31 L447.84 153.54 L451.54 151.85 L455.23 150.25 L458.93 148.72 L462.62 147.27 L466.32 145.9 L470.02 144.6 L473.71 143.38 L477.41 142.24 L481.11 141.16 L484.8 140.16 L488.5 139.24 L492.19 138.38 L495.89 137.6 L499.59 136.88 L503.28 136.23 L506.98 135.66 L510.68 135.15 L514.37 134.71 L518.07 134.34 L521.76 134.04 L525.46 133.8 L529.16 133.63 L532.85 133.53 L536.55 133.5 L540.25 133.46 L543.94 133.34 L547.64 133.14 L551.34 132.87 L555.03 132.51 L558.73 132.08 L562.42 131.56 L566.12 130.97 L569.82 130.29 L573.51 129.53 L577.21 128.69 L580.9 127.77 L584.6 126.76 L588.3 125.67 L591.99 124.49 L595.69 123.23 L599.39 121.88 L603.08 120.43 L606.78 118.9 L610.47 117.27 L614.17 115.56 L617.87 113.74 L621.56 111.83 L625.26 109.81 L628.96 107.7 L632.65 105.48 L636.35 103.15 L640.05 100.71 L643.74 98.16 L647.44 95.49 L651.13 92.71 L654.83 89.8 L658.53 86.76 L662.22 83.59 L665.92 80.29 L669.62 76.84 L673.31 73.25 L677.01 69.6 L680.7 66.09 L684.4 62.7 M388.7 163.56 L392.4 160.3 L396.09 157.15 L399.79 154.13 L403.49 151.21 L407.18 148.4 L410.88 145.7 L414.57 143.11 L418.27 140.61 L421.97 138.21 L425.66 135.91 L429.36 133.7 L433.06 131.58 L436.75 129.56 L440.45 127.61 L444.14 125.76 L447.84 123.99 L451.54 122.3 L455.23 120.69 L458.93 119.16 L462.62 117.71 L466.32 116.34 L470.02 115.05 L473.71 113.83 L477.41 112.68 L481.11 111.61 L484.8 110.61 L488.5 109.68 L492.19 108.83 L495.89 108.04 L499.59 107.32 L503.28 106.68 L506.98 106.1 L510.68 105.59 L514.37 105.16 L518.07 104.78 L521.76 104.48 L525.46 104.25 L529.16 104.08 L532.85 103.98 L536.55 103.94 L540.25 103.9 L543.94 103.79 L547.64 103.59 L551.34 103.31 L555.03 102.96 L558.73 102.52 L562.42 102.01 L566.12 101.41 L569.82 100.74 L573.51 99.98 L577.21 99.14 L580.9 98.21 L584.6 97.21 L588.3 96.12 L591.99 94.94 L595.69 93.67 L599.39 92.32 L603.08 90.88 L606.78 89.35 L610.47 87.72 L614.17 86 L617.87 84.18 L621.56 82.27 L625.26 80.26 L628.96 78.14 L632.65 75.92 L636.35 73.59 L640.05 71.16 L643.74 68.61 L647.44 65.94 L651.13 63.15 L654.83 60.24 L658.53 57.21 L662.22 54.04 L665.92 50.73 L669.62 47.29 L673.31 43.69 L677.01 40.05 L680.7 36.53 L684.4 33.14 M388.7 134.01 L392.4 130.74 L396.09 127.6 L399.79 124.57 L403.49 121.66 L407.18 118.85 L410.88 116.15 L414.57 113.55 L418.27 111.06 L421.97 108.66 L425.66 106.36 L429.36 104.15 L433.06 102.03 L436.75 100 L440.45 98.06 L444.14 96.2 L447.84 94.43 L451.54 92.74 L455.23 91.14 L458.93 89.61 L462.62 88.16 L466.32 86.79 L470.02 85.49 L473.71 84.27 L477.41 83.13 L481.11 82.05 L484.8 81.05 L488.5 80.13 L492.19 79.27 L495.89 78.49 L499.59 77.77 L503.28 77.12 L506.98 76.55 L510.68 76.04 L514.37 75.6 L518.07 75.23 L521.76 74.93 L525.46 74.69 L529.16 74.52 L532.85 74.42 L536.55 74.39 L540.25 74.35 L543.94 74.23 L547.64 74.03 L551.34 73.76 L555.03 73.4 L558.73 72.97 L562.42 72.45 L566.12 71.86 L569.82 71.18 L573.51 70.42 L577.21 69.58 L580.9 68.66 L584.6 67.65 L588.3 66.56 L591.99 65.38 L595.69 64.12 L599.39 62.77 L603.08 61.32 L606.78 59.79 L610.47 58.16 L614.17 56.45 L617.87 54.63 L621.56 52.72 L625.26 50.7 L628.96 48.59 L632.65 46.37 L636.35 44.04 L640.05 41.6 L643.74 39.05 L647.44 36.38 L651.13 33.6 L654.83 30.69 L658.53 27.65 L662.22 24.48 L665.92 21.18 L669.62 17.73 L673.31 14.14 L677.01 10.49 L680.7 6.98 L684.4 3.59 M388.7 104.45 L392.4 101.19 L396.09 98.04 L399.79 95.02 L403.49 92.1 L407.18 89.29 L410.88 86.59 L414.57 84 L418.27 81.5 L421.97 79.1 L425.66 76.8 L429.36 74.59 L433.06 72.47 L436.75 70.45 L440.45 68.5 L444.14 66.65 L447.84 64.88 L451.54 63.19 L455.23 61.58 L458.93 60.05 L462.62 58.6 L466.32 57.23 L470.02 55.94 L473.71 54.72 L477.41 53.57 L481.11 52.5 L484.8 51.5 L488.5 50.57 L492.19 49.72 L495.89 48.93 L499.59 48.21 L503.28 47.57 L506.98 46.99 L510.68 46.48 L514.37 46.05 L518.07 45.67 L521.76 45.37 L525.46 45.14 L529.16 44.97 L532.85 44.87 L536.55 44.83 L540.25 44.79 L543.94 44.68 L547.64 44.48 L551.34 44.2 L555.03 43.85 L558.73 43.41 L562.42 42.9 L566.12 42.3 L569.82 41.63 L573.51 40.87 L577.21 40.03 L580.9 39.1 L584.6 38.1 L588.3 37.01 L591.99 35.83 L595.69 34.56 L599.39 33.21 L603.08 31.77 L606.78 30.24 L610.47 28.61 L614.17 26.89 L617.87 25.07 L621.56 23.16 L625.26 21.15 L628.96 19.03 L632.65 16.81 L636.35 14.48 L640.05 12.05 L643.74 9.5 L647.44 6.83 L651.13 4.04 L654.83 1.13 L658.53 -1.9 L662.22 -5.07 L665.92 -8.38 L669.62 -11.82 L673.31 -15.42 L677.01 -19.06 L680.7 -22.58 L684.4 -25.97 M388.7 74.9 L392.4 71.63 L396.09 68.49 L399.79 65.46 L403.49 62.55 L407.18 59.74 L410.88 57.04 L414.57 54.44 L418.27 51.95 L421.97 49.55 L425.66 47.25 L429.36 45.04 L433.06 42.92 L436.75 40.89 L440.45 38.95 L444.14 37.09 L447.84 35.32 L451.54 33.63 L455.23 32.03 L458.93 30.5 L462.62 29.05 L466.32 27.68 L470.02 26.38 L473.71 25.16 L477.41 24.02 L481.11 22.94 L484.8 21.94 L488.5 21.02 L492.19 20.16 L495.89 19.38 L499.59 18.66 L503.28 18.01 L506.98 17.44 L510.68 16.93 L514.37 16.49 L518.07 16.12 L521.76 15.82 L525.46 15.58 L529.16 15.41 L532.85 15.31 L536.55 15.28 L540.25 15.24 L543.94 15.12 L547.64 14.92 L551.34 14.65 L555.03 14.29 L558.73 13.86 L562.42 13.34 L566.12 12.75 L569.82 12.07 L573.51 11.31 L577.21 10.47 L580.9 9.55 L584.6 8.54 L588.3 7.45 L591.99 6.27 L595.69 5.01 L599.39 3.66 L603.08 2.21 L606.78 0.68 L610.47 -0.95 L614.17 -2.66 L617.87 -4.48 L621.56 -6.39 L625.26 -8.41 L628.96 -10.52 L632.65 -12.74 L636.35 -15.07 L640.05 -17.51 L643.74 -20.06 L647.44 -22.73 L651.13 -25.51 L654.83 -28.42 L658.53 -31.46 L662.22 -34.63 L665.92 -37.93 L669.62 -41.38 L673.31 -44.97 L677.01 -48.62 L680.7 -52.13 L684.4 -55.52 M388.7 45.34 L392.4 42.08 L396.09 38.93 L399.79 35.91 L403.49 32.99 L407.18 30.18 L410.88 27.48 L414.57 24.89 L418.27 22.39 L421.97 19.99 L425.66 17.69 L429.36 15.48 L433.06 13.36 L436.75 11.34 L440.45 9.39 L444.14 7.54 L447.84 5.77 L451.54 4.08 L455.23 2.47 L458.93 0.94 L462.62 -0.51 L466.32 -1.88 L470.02 -3.17 L473.71 -4.39 L477.41 -5.54 L481.11 -6.61 L484.8 -7.61 L488.5 -8.54 L492.19 -9.39 L495.89 -10.18 L499.59 -10.9 L503.28 -11.54 L506.98 -12.12 L510.68 -12.63 L514.37 -13.06 L518.07 -13.44 L521.76 -13.74 L525.46 -13.97 L529.16 -14.14 L532.85 -14.24 L536.55 -14.28 L540.25 -14.32 L543.94 -14.43 L547.64 -14.63 L551.34 -14.91 L555.03 -15.26 L558.73 -15.7 L562.42 -16.21 L566.12 -16.81 L569.82 -17.48 L573.51 -18.24 L577.21 -19.08 L580.9 -20.01 L584.6 -21.01 L588.3 -22.1 L591.99 -23.28 L595.69 -24.55 L599.39 -25.9 L603.08 -27.34 L606.78 -28.87 L610.47 -30.5 L614.17 -32.22 L617.87 -34.04 L621.56 -35.95 L625.26 -37.96 L628.96 -40.08 L632.65 -42.3 L636.35 -44.63 L640.05 -47.06 L643.74 -49.61 L647.44 -52.28 L651.13 -55.07 L654.83 -57.98 L658.53 -61.01 L662.22 -64.18 L665.92 -67.49 L669.62 -70.93 L673.31 -74.53 L677.01 -78.17 L680.7 -81.69 L684.4 -85.08 M388.7 15.79 L392.4 12.52 L396.09 9.38 L399.79 6.35 L403.49 3.44 L407.18 0.63 L410.88 -2.07 L414.57 -4.67 L418.27 -7.16 L421.97 -9.56 L425.66 -11.86 L429.36 -14.07 L433.06 -16.19 L436.75 -18.22 L440.45 -20.16 L444.14 -22.02 L447.84 -23.79 L451.54 -25.48 L455.23 -27.08 L458.93 -28.61 L462.62 -30.06 L466.32 -31.43 L470.02 -32.73 L473.71 -33.95 L477.41 -35.09 L481.11 -36.17 L484.8 -37.17 L488.5 -38.09 L492.19 -38.95 L495.89 -39.73 L499.59 -40.45 L503.28 -41.1 L506.98 -41.67 L510.68 -42.18 L514.37 -42.62 L518.07 -42.99 L521.76 -43.29 L525.46 -43.53 L529.16 -43.7 L532.85 -43.8 L536.55 -43.83 L540.25 -43.87 L543.94 -43.99 L547.64 -44.19 L551.34 -44.46 L555.03 -44.82 L558.73 -45.25 L562.42 -45.77 L566.12 -46.36 L569.82 -47.04 L573.51 -47.8 L577.21 -48.64 L580.9 -49.56 L584.6 -50.57 L588.3 -51.66 L591.99 -52.84 L595.69 -54.1 L599.39 -55.45 L603.08 -56.9 L606.78 -58.43 L610.47 -60.06 L614.17 -61.77 L617.87 -63.59 L621.56 -65.5 L625.26 -67.52 L628.96 -69.63 L632.65 -71.85 L636.35 -74.18 L640.05 -76.62 L643.74 -79.17 L647.44 -81.84 L651.13 -84.62 L654.83 -87.53 L658.53 -90.57 L662.22 -93.74 L665.92 -97.04 L669.62 -100.49 L673.31 -104.08 L677.01 -107.73 L680.7 -111.24 L684.4 -114.63 M388.7 -13.77 L392.4 -17.03 L396.09 -20.18 L399.79 -23.2 L403.49 -26.12 L407.18 -28.93 L410.88 -31.63 L414.57 -34.22 L418.27 -36.72 L421.97 -39.12 L425.66 -41.42 L429.36 -43.63 L433.06 -45.75 L436.75 -47.77 L440.45 -49.72 L444.14 -51.57 L447.84 -53.34 L451.54 -55.03 L455.23 -56.64 L458.93 -58.17 L462.62 -59.62 L466.32 -60.99 L470.02 -62.28 L473.71 -63.5 L477.41 -64.65 L481.11 -65.72 L484.8 -66.72 L488.5 -67.65 L492.19 -68.5 L495.89 -69.29 L499.59 -70.01 L503.28 -70.65 L506.98 -71.23 L510.68 -71.74 L514.37 -72.17 L518.07 -72.55 L521.76 -72.85 L525.46 -73.08 L529.16 -73.25 L532.85 -73.35 L536.55 -73.39 L540.25 -73.43 L543.94 -73.54 L547.64 -73.74 L551.34 -74.02 L555.03 -74.37 L558.73 -74.81 L562.42 -75.32 L566.12 -75.92 L569.82 -76.59 L573.51 -77.35 L577.21 -78.19 L580.9 -79.12 L584.6 -80.12 L588.3 -81.21 L591.99 -82.39 L595.69 -83.66 L599.39 -85.01 L603.08 -86.45 L606.78 -87.98 L610.47 -89.61 L614.17 -91.33 L617.87 -93.15 L621.56 -95.06 L625.26 -97.07 L628.96 -99.19 L632.65 -101.41 L636.35 -103.74 L640.05 -106.17 L643.74 -108.72 L647.44 -111.39 L651.13 -114.18 L654.83 -117.09 L658.53 -120.12 L662.22 -123.29 L665.92 -126.6 L669.62 -130.04 L673.31 -133.64 L677.01 -137.28 L680.7 -140.8 L684.4 -144.19"/><path class="rd" d="M388.7 440.74 L392.4 437.35 L396.09 433.83 L399.79 430.19 L403.49 426.59 L407.18 423.15 L410.88 419.84 L414.57 416.67 L418.27 413.64 L421.97 410.73 L425.66 407.94 L429.36 405.27 L433.06 402.72 L436.75 400.29 L440.45 397.96 L444.14 395.74 L447.84 393.62 L451.54 391.61 L455.23 389.7 L458.93 387.88 L462.62 386.16 L466.32 384.53 L470.02 383 L473.71 381.56 L477.41 380.21 L481.11 378.94 L484.8 377.76 L488.5 376.67 L492.19 375.67 L495.89 374.74 L499.59 373.9 L503.28 373.14 L506.98 372.47 L510.68 371.87 L514.37 371.36 L518.07 370.92 L521.76 370.57 L525.46 370.29 L529.16 370.09 L532.85 369.98 L536.55 369.94 L540.25 369.9 L543.94 369.8 L547.64 369.63 L551.34 369.4 L555.03 369.1 L558.73 368.72 L562.42 368.29 L566.12 367.78 L569.82 367.2 L573.51 366.56 L577.21 365.84 L580.9 365.05 L584.6 364.2 L588.3 363.27 L591.99 362.27 L595.69 361.2 L599.39 360.05 L603.08 358.83 L606.78 357.54 L610.47 356.17 L614.17 354.72 L617.87 353.19 L621.56 351.58 L625.26 349.89 L628.96 348.12 L632.65 346.27 L636.35 344.32 L640.05 342.3 L643.74 340.18 L647.44 337.97 L651.13 335.67 L654.83 333.27 L658.53 330.77 L662.22 328.18 L665.92 325.48 L669.62 322.67 L673.31 319.75 L677.01 316.73 L680.7 313.58 L684.4 310.32 M388.7 411.18 L392.4 407.79 L396.09 404.28 L399.79 400.63 L403.49 397.04 L407.18 393.59 L410.88 390.29 L414.57 387.12 L418.27 384.08 L421.97 381.17 L425.66 378.39 L429.36 375.72 L433.06 373.17 L436.75 370.73 L440.45 368.4 L444.14 366.18 L447.84 364.07 L451.54 362.05 L455.23 360.14 L458.93 358.32 L462.62 356.61 L466.32 354.98 L470.02 353.45 L473.71 352 L477.41 350.65 L481.11 349.39 L484.8 348.21 L488.5 347.12 L492.19 346.11 L495.89 345.19 L499.59 344.35 L503.28 343.59 L506.98 342.91 L510.68 342.32 L514.37 341.8 L518.07 341.37 L521.76 341.01 L525.46 340.74 L529.16 340.54 L532.85 340.42 L536.55 340.38 L540.25 340.35 L543.94 340.25 L547.64 340.08 L551.34 339.84 L555.03 339.54 L558.73 339.17 L562.42 338.73 L566.12 338.22 L569.82 337.65 L573.51 337 L577.21 336.28 L580.9 335.5 L584.6 334.64 L588.3 333.72 L591.99 332.72 L595.69 331.64 L599.39 330.5 L603.08 329.28 L606.78 327.98 L610.47 326.61 L614.17 325.16 L617.87 323.63 L621.56 322.03 L625.26 320.34 L628.96 318.57 L632.65 316.71 L636.35 314.77 L640.05 312.74 L643.74 310.62 L647.44 308.41 L651.13 306.11 L654.83 303.71 L658.53 301.22 L662.22 298.62 L665.92 295.92 L669.62 293.11 L673.31 290.2 L677.01 287.17 L680.7 284.03 L684.4 280.76 M388.7 381.63 L392.4 378.24 L396.09 374.72 L399.79 371.08 L403.49 367.48 L407.18 364.04 L410.88 360.73 L414.57 357.56 L418.27 354.53 L421.97 351.62 L425.66 348.83 L429.36 346.16 L433.06 343.61 L436.75 341.18 L440.45 338.85 L444.14 336.63 L447.84 334.51 L451.54 332.5 L455.23 330.59 L458.93 328.77 L462.62 327.05 L466.32 325.42 L470.02 323.89 L473.71 322.45 L477.41 321.1 L481.11 319.83 L484.8 318.65 L488.5 317.56 L492.19 316.56 L495.89 315.63 L499.59 314.79 L503.28 314.03 L506.98 313.36 L510.68 312.76 L514.37 312.25 L518.07 311.81 L521.76 311.46 L525.46 311.18 L529.16 310.98 L532.85 310.87 L536.55 310.83 L540.25 310.79 L543.94 310.69 L547.64 310.52 L551.34 310.29 L555.03 309.99 L558.73 309.61 L562.42 309.18 L566.12 308.67 L569.82 308.09 L573.51 307.45 L577.21 306.73 L580.9 305.94 L584.6 305.09 L588.3 304.16 L591.99 303.16 L595.69 302.09 L599.39 300.94 L603.08 299.72 L606.78 298.43 L610.47 297.06 L614.17 295.61 L617.87 294.08 L621.56 292.47 L625.26 290.78 L628.96 289.01 L632.65 287.16 L636.35 285.21 L640.05 283.19 L643.74 281.07 L647.44 278.86 L651.13 276.56 L654.83 274.16 L658.53 271.66 L662.22 269.07 L665.92 266.37 L669.62 263.56 L673.31 260.64 L677.01 257.62 L680.7 254.47 L684.4 251.21 M388.7 352.07 L392.4 348.68 L396.09 345.17 L399.79 341.52 L403.49 337.93 L407.18 334.48 L410.88 331.18 L414.57 328.01 L418.27 324.97 L421.97 322.06 L425.66 319.28 L429.36 316.61 L433.06 314.06 L436.75 311.62 L440.45 309.29 L444.14 307.07 L447.84 304.96 L451.54 302.94 L455.23 301.03 L458.93 299.21 L462.62 297.5 L466.32 295.87 L470.02 294.34 L473.71 292.89 L477.41 291.54 L481.11 290.28 L484.8 289.1 L488.5 288.01 L492.19 287 L495.89 286.08 L499.59 285.24 L503.28 284.48 L506.98 283.8 L510.68 283.21 L514.37 282.69 L518.07 282.26 L521.76 281.9 L525.46 281.63 L529.16 281.43 L532.85 281.31 L536.55 281.27 L540.25 281.24 L543.94 281.14 L547.64 280.97 L551.34 280.73 L555.03 280.43 L558.73 280.06 L562.42 279.62 L566.12 279.11 L569.82 278.54 L573.51 277.89 L577.21 277.17 L580.9 276.39 L584.6 275.53 L588.3 274.61 L591.99 273.61 L595.69 272.53 L599.39 271.39 L603.08 270.17 L606.78 268.87 L610.47 267.5 L614.17 266.05 L617.87 264.52 L621.56 262.92 L625.26 261.23 L628.96 259.46 L632.65 257.6 L636.35 255.66 L640.05 253.63 L643.74 251.51 L647.44 249.3 L651.13 247 L654.83 244.6 L658.53 242.11 L662.22 239.51 L665.92 236.81 L669.62 234 L673.31 231.09 L677.01 228.06 L680.7 224.92 L684.4 221.65 M388.7 322.52 L392.4 319.13 L396.09 315.61 L399.79 311.97 L403.49 308.37 L407.18 304.93 L410.88 301.62 L414.57 298.45 L418.27 295.42 L421.97 292.51 L425.66 289.72 L429.36 287.05 L433.06 284.5 L436.75 282.07 L440.45 279.74 L444.14 277.52 L447.84 275.4 L451.54 273.39 L455.23 271.48 L458.93 269.66 L462.62 267.94 L466.32 266.31 L470.02 264.78 L473.71 263.34 L477.41 261.99 L481.11 260.72 L484.8 259.54 L488.5 258.45 L492.19 257.45 L495.89 256.52 L499.59 255.68 L503.28 254.92 L506.98 254.25 L510.68 253.65 L514.37 253.14 L518.07 252.7 L521.76 252.35 L525.46 252.07 L529.16 251.87 L532.85 251.76 L536.55 251.72 L540.25 251.68 L543.94 251.58 L547.64 251.41 L551.34 251.18 L555.03 250.88 L558.73 250.5 L562.42 250.07 L566.12 249.56 L569.82 248.98 L573.51 248.34 L577.21 247.62 L580.9 246.83 L584.6 245.98 L588.3 245.05 L591.99 244.05 L595.69 242.98 L599.39 241.83 L603.08 240.61 L606.78 239.32 L610.47 237.95 L614.17 236.5 L617.87 234.97 L621.56 233.36 L625.26 231.67 L628.96 229.9 L632.65 228.05 L636.35 226.1 L640.05 224.08 L643.74 221.96 L647.44 219.75 L651.13 217.45 L654.83 215.05 L658.53 212.55 L662.22 209.96 L665.92 207.26 L669.62 204.45 L673.31 201.53 L677.01 198.51 L680.7 195.36 L684.4 192.1 M388.7 292.96 L392.4 289.57 L396.09 286.06 L399.79 282.41 L403.49 278.82 L407.18 275.37 L410.88 272.07 L414.57 268.9 L418.27 265.86 L421.97 262.95 L425.66 260.17 L429.36 257.5 L433.06 254.95 L436.75 252.51 L440.45 250.18 L444.14 247.96 L447.84 245.85 L451.54 243.83 L455.23 241.92 L458.93 240.1 L462.62 238.39 L466.32 236.76 L470.02 235.23 L473.71 233.78 L477.41 232.43 L481.11 231.17 L484.8 229.99 L488.5 228.9 L492.19 227.89 L495.89 226.97 L499.59 226.13 L503.28 225.37 L506.98 224.69 L510.68 224.1 L514.37 223.58 L518.07 223.15 L521.76 222.79 L525.46 222.52 L529.16 222.32 L532.85 222.2 L536.55 222.16 L540.25 222.13 L543.94 222.03 L547.64 221.86 L551.34 221.62 L555.03 221.32 L558.73 220.95 L562.42 220.51 L566.12 220 L569.82 219.43 L573.51 218.78 L577.21 218.06 L580.9 217.28 L584.6 216.42 L588.3 215.5 L591.99 214.5 L595.69 213.42 L599.39 212.28 L603.08 211.06 L606.78 209.76 L610.47 208.39 L614.17 206.94 L617.87 205.41 L621.56 203.81 L625.26 202.12 L628.96 200.35 L632.65 198.49 L636.35 196.55 L640.05 194.52 L643.74 192.4 L647.44 190.19 L651.13 187.89 L654.83 185.49 L658.53 183 L662.22 180.4 L665.92 177.7 L669.62 174.89 L673.31 171.98 L677.01 168.95 L680.7 165.81 L684.4 162.54 M388.7 263.41 L392.4 260.02 L396.09 256.5 L399.79 252.86 L403.49 249.26 L407.18 245.82 L410.88 242.51 L414.57 239.34 L418.27 236.31 L421.97 233.4 L425.66 230.61 L429.36 227.94 L433.06 225.39 L436.75 222.96 L440.45 220.63 L444.14 218.41 L447.84 216.29 L451.54 214.28 L455.23 212.37 L458.93 210.55 L462.62 208.83 L466.32 207.2 L470.02 205.67 L473.71 204.23 L477.41 202.88 L481.11 201.61 L484.8 200.43 L488.5 199.34 L492.19 198.34 L495.89 197.41 L499.59 196.57 L503.28 195.81 L506.98 195.14 L510.68 194.54 L514.37 194.03 L518.07 193.59 L521.76 193.24 L525.46 192.96 L529.16 192.76 L532.85 192.65 L536.55 192.61 L540.25 192.57 L543.94 192.47 L547.64 192.3 L551.34 192.07 L555.03 191.77 L558.73 191.39 L562.42 190.96 L566.12 190.45 L569.82 189.87 L573.51 189.23 L577.21 188.51 L580.9 187.72 L584.6 186.87 L588.3 185.94 L591.99 184.94 L595.69 183.87 L599.39 182.72 L603.08 181.5 L606.78 180.21 L610.47 178.84 L614.17 177.39 L617.87 175.86 L621.56 174.25 L625.26 172.56 L628.96 170.79 L632.65 168.94 L636.35 166.99 L640.05 164.97 L643.74 162.85 L647.44 160.64 L651.13 158.34 L654.83 155.94 L658.53 153.44 L662.22 150.85 L665.92 148.15 L669.62 145.34 L673.31 142.42 L677.01 139.4 L680.7 136.25 L684.4 132.99 M388.7 233.85 L392.4 230.46 L396.09 226.95 L399.79 223.3 L403.49 219.71 L407.18 216.26 L410.88 212.96 L414.57 209.79 L418.27 206.75 L421.97 203.84 L425.66 201.06 L429.36 198.39 L433.06 195.84 L436.75 193.4 L440.45 191.07 L444.14 188.85 L447.84 186.74 L451.54 184.72 L455.23 182.81 L458.93 180.99 L462.62 179.28 L466.32 177.65 L470.02 176.12 L473.71 174.67 L477.41 173.32 L481.11 172.06 L484.8 170.88 L488.5 169.79 L492.19 168.78 L495.89 167.86 L499.59 167.02 L503.28 166.26 L506.98 165.58 L510.68 164.99 L514.37 164.47 L518.07 164.04 L521.76 163.68 L525.46 163.41 L529.16 163.21 L532.85 163.09 L536.55 163.05 L540.25 163.02 L543.94 162.92 L547.64 162.75 L551.34 162.51 L555.03 162.21 L558.73 161.84 L562.42 161.4 L566.12 160.89 L569.82 160.32 L573.51 159.67 L577.21 158.95 L580.9 158.17 L584.6 157.31 L588.3 156.39 L591.99 155.39 L595.69 154.31 L599.39 153.17 L603.08 151.95 L606.78 150.65 L610.47 149.28 L614.17 147.83 L617.87 146.3 L621.56 144.7 L625.26 143.01 L628.96 141.24 L632.65 139.38 L636.35 137.44 L640.05 135.41 L643.74 133.29 L647.44 131.08 L651.13 128.78 L654.83 126.38 L658.53 123.89 L662.22 121.29 L665.92 118.59 L669.62 115.78 L673.31 112.87 L677.01 109.84 L680.7 106.7 L684.4 103.43 M388.7 204.3 L392.4 200.91 L396.09 197.39 L399.79 193.75 L403.49 190.15 L407.18 186.71 L410.88 183.4 L414.57 180.23 L418.27 177.2 L421.97 174.29 L425.66 171.5 L429.36 168.83 L433.06 166.28 L436.75 163.85 L440.45 161.52 L444.14 159.3 L447.84 157.18 L451.54 155.17 L455.23 153.26 L458.93 151.44 L462.62 149.72 L466.32 148.09 L470.02 146.56 L473.71 145.12 L477.41 143.77 L481.11 142.5 L484.8 141.32 L488.5 140.23 L492.19 139.23 L495.89 138.3 L499.59 137.46 L503.28 136.7 L506.98 136.03 L510.68 135.43 L514.37 134.92 L518.07 134.48 L521.76 134.13 L525.46 133.85 L529.16 133.65 L532.85 133.54 L536.55 133.5 L540.25 133.46 L543.94 133.36 L547.64 133.19 L551.34 132.96 L555.03 132.66 L558.73 132.28 L562.42 131.85 L566.12 131.34 L569.82 130.76 L573.51 130.12 L577.21 129.4 L580.9 128.61 L584.6 127.76 L588.3 126.83 L591.99 125.83 L595.69 124.76 L599.39 123.61 L603.08 122.39 L606.78 121.1 L610.47 119.73 L614.17 118.28 L617.87 116.75 L621.56 115.14 L625.26 113.45 L628.96 111.68 L632.65 109.83 L636.35 107.88 L640.05 105.86 L643.74 103.74 L647.44 101.53 L651.13 99.23 L654.83 96.83 L658.53 94.33 L662.22 91.74 L665.92 89.04 L669.62 86.23 L673.31 83.31 L677.01 80.29 L680.7 77.14 L684.4 73.88 M388.7 174.74 L392.4 171.35 L396.09 167.84 L399.79 164.19 L403.49 160.6 L407.18 157.15 L410.88 153.85 L414.57 150.68 L418.27 147.64 L421.97 144.73 L425.66 141.95 L429.36 139.28 L433.06 136.73 L436.75 134.29 L440.45 131.96 L444.14 129.74 L447.84 127.63 L451.54 125.61 L455.23 123.7 L458.93 121.88 L462.62 120.17 L466.32 118.54 L470.02 117.01 L473.71 115.56 L477.41 114.21 L481.11 112.95 L484.8 111.77 L488.5 110.68 L492.19 109.67 L495.89 108.75 L499.59 107.91 L503.28 107.15 L506.98 106.47 L510.68 105.88 L514.37 105.36 L518.07 104.93 L521.76 104.57 L525.46 104.3 L529.16 104.1 L532.85 103.98 L536.55 103.94 L540.25 103.91 L543.94 103.81 L547.64 103.64 L551.34 103.4 L555.03 103.1 L558.73 102.73 L562.42 102.29 L566.12 101.78 L569.82 101.21 L573.51 100.56 L577.21 99.84 L580.9 99.06 L584.6 98.2 L588.3 97.28 L591.99 96.28 L595.69 95.2 L599.39 94.06 L603.08 92.84 L606.78 91.54 L610.47 90.17 L614.17 88.72 L617.87 87.19 L621.56 85.59 L625.26 83.9 L628.96 82.13 L632.65 80.27 L636.35 78.33 L640.05 76.3 L643.74 74.18 L647.44 71.97 L651.13 69.67 L654.83 67.27 L658.53 64.78 L662.22 62.18 L665.92 59.48 L669.62 56.67 L673.31 53.76 L677.01 50.73 L680.7 47.59 L684.4 44.32 M388.7 145.19 L392.4 141.8 L396.09 138.28 L399.79 134.64 L403.49 131.04 L407.18 127.6 L410.88 124.29 L414.57 121.12 L418.27 118.09 L421.97 115.18 L425.66 112.39 L429.36 109.72 L433.06 107.17 L436.75 104.74 L440.45 102.41 L444.14 100.19 L447.84 98.07 L451.54 96.06 L455.23 94.15 L458.93 92.33 L462.62 90.61 L466.32 88.98 L470.02 87.45 L473.71 86.01 L477.41 84.66 L481.11 83.39 L484.8 82.21 L488.5 81.12 L492.19 80.12 L495.89 79.19 L499.59 78.35 L503.28 77.59 L506.98 76.92 L510.68 76.32 L514.37 75.81 L518.07 75.37 L521.76 75.02 L525.46 74.74 L529.16 74.54 L532.85 74.43 L536.55 74.39 L540.25 74.35 L543.94 74.25 L547.64 74.08 L551.34 73.85 L555.03 73.55 L558.73 73.17 L562.42 72.74 L566.12 72.23 L569.82 71.65 L573.51 71.01 L577.21 70.29 L580.9 69.5 L584.6 68.65 L588.3 67.72 L591.99 66.72 L595.69 65.65 L599.39 64.5 L603.08 63.28 L606.78 61.99 L610.47 60.62 L614.17 59.17 L617.87 57.64 L621.56 56.03 L625.26 54.34 L628.96 52.57 L632.65 50.72 L636.35 48.77 L640.05 46.75 L643.74 44.63 L647.44 42.42 L651.13 40.12 L654.83 37.72 L658.53 35.22 L662.22 32.63 L665.92 29.93 L669.62 27.12 L673.31 24.2 L677.01 21.18 L680.7 18.03 L684.4 14.77 M388.7 115.63 L392.4 112.24 L396.09 108.73 L399.79 105.08 L403.49 101.49 L407.18 98.04 L410.88 94.74 L414.57 91.57 L418.27 88.53 L421.97 85.62 L425.66 82.84 L429.36 80.17 L433.06 77.62 L436.75 75.18 L440.45 72.85 L444.14 70.63 L447.84 68.52 L451.54 66.5 L455.23 64.59 L458.93 62.77 L462.62 61.06 L466.32 59.43 L470.02 57.9 L473.71 56.45 L477.41 55.1 L481.11 53.84 L484.8 52.66 L488.5 51.57 L492.19 50.56 L495.89 49.64 L499.59 48.8 L503.28 48.04 L506.98 47.36 L510.68 46.77 L514.37 46.25 L518.07 45.82 L521.76 45.46 L525.46 45.19 L529.16 44.99 L532.85 44.87 L536.55 44.83 L540.25 44.8 L543.94 44.7 L547.64 44.53 L551.34 44.29 L555.03 43.99 L558.73 43.62 L562.42 43.18 L566.12 42.67 L569.82 42.1 L573.51 41.45 L577.21 40.73 L580.9 39.95 L584.6 39.09 L588.3 38.17 L591.99 37.17 L595.69 36.09 L599.39 34.95 L603.08 33.73 L606.78 32.43 L610.47 31.06 L614.17 29.61 L617.87 28.08 L621.56 26.48 L625.26 24.79 L628.96 23.02 L632.65 21.16 L636.35 19.22 L640.05 17.19 L643.74 15.07 L647.44 12.86 L651.13 10.56 L654.83 8.16 L658.53 5.67 L662.22 3.07 L665.92 0.37 L669.62 -2.44 L673.31 -5.35 L677.01 -8.38 L680.7 -11.52 L684.4 -14.79 M388.7 86.08 L392.4 82.69 L396.09 79.17 L399.79 75.53 L403.49 71.93 L407.18 68.49 L410.88 65.18 L414.57 62.01 L418.27 58.98 L421.97 56.07 L425.66 53.28 L429.36 50.61 L433.06 48.06 L436.75 45.63 L440.45 43.3 L444.14 41.08 L447.84 38.96 L451.54 36.95 L455.23 35.04 L458.93 33.22 L462.62 31.5 L466.32 29.87 L470.02 28.34 L473.71 26.9 L477.41 25.55 L481.11 24.28 L484.8 23.1 L488.5 22.01 L492.19 21.01 L495.89 20.08 L499.59 19.24 L503.28 18.48 L506.98 17.81 L510.68 17.21 L514.37 16.7 L518.07 16.26 L521.76 15.91 L525.46 15.63 L529.16 15.43 L532.85 15.32 L536.55 15.28 L540.25 15.24 L543.94 15.14 L547.64 14.97 L551.34 14.74 L555.03 14.44 L558.73 14.06 L562.42 13.63 L566.12 13.12 L569.82 12.54 L573.51 11.9 L577.21 11.18 L580.9 10.39 L584.6 9.54 L588.3 8.61 L591.99 7.61 L595.69 6.54 L599.39 5.39 L603.08 4.17 L606.78 2.88 L610.47 1.51 L614.17 0.06 L617.87 -1.47 L621.56 -3.08 L625.26 -4.77 L628.96 -6.54 L632.65 -8.39 L636.35 -10.34 L640.05 -12.36 L643.74 -14.48 L647.44 -16.69 L651.13 -18.99 L654.83 -21.39 L658.53 -23.89 L662.22 -26.48 L665.92 -29.18 L669.62 -31.99 L673.31 -34.91 L677.01 -37.93 L680.7 -41.08 L684.4 -44.34 M388.7 56.52 L392.4 53.13 L396.09 49.62 L399.79 45.97 L403.49 42.38 L407.18 38.93 L410.88 35.63 L414.57 32.46 L418.27 29.42 L421.97 26.51 L425.66 23.73 L429.36 21.06 L433.06 18.51 L436.75 16.07 L440.45 13.74 L444.14 11.52 L447.84 9.41 L451.54 7.39 L455.23 5.48 L458.93 3.66 L462.62 1.95 L466.32 0.32 L470.02 -1.21 L473.71 -2.66 L477.41 -4.01 L481.11 -5.27 L484.8 -6.45 L488.5 -7.54 L492.19 -8.55 L495.89 -9.47 L499.59 -10.31 L503.28 -11.07 L506.98 -11.75 L510.68 -12.34 L514.37 -12.86 L518.07 -13.29 L521.76 -13.65 L525.46 -13.92 L529.16 -14.12 L532.85 -14.24 L536.55 -14.28 L540.25 -14.31 L543.94 -14.41 L547.64 -14.58 L551.34 -14.82 L555.03 -15.12 L558.73 -15.49 L562.42 -15.93 L566.12 -16.44 L569.82 -17.01 L573.51 -17.66 L577.21 -18.38 L580.9 -19.16 L584.6 -20.02 L588.3 -20.94 L591.99 -21.94 L595.69 -23.02 L599.39 -24.16 L603.08 -25.38 L606.78 -26.68 L610.47 -28.05 L614.17 -29.5 L617.87 -31.03 L621.56 -32.63 L625.26 -34.32 L628.96 -36.09 L632.65 -37.95 L636.35 -39.89 L640.05 -41.92 L643.74 -44.04 L647.44 -46.25 L651.13 -48.55 L654.83 -50.95 L658.53 -53.44 L662.22 -56.04 L665.92 -58.74 L669.62 -61.55 L673.31 -64.46 L677.01 -67.49 L680.7 -70.63 L684.4 -73.9 M388.7 26.97 L392.4 23.58 L396.09 20.06 L399.79 16.42 L403.49 12.82 L407.18 9.38 L410.88 6.07 L414.57 2.9 L418.27 -0.13 L421.97 -3.04 L425.66 -5.83 L429.36 -8.5 L433.06 -11.05 L436.75 -13.48 L440.45 -15.81 L444.14 -18.03 L447.84 -20.15 L451.54 -22.16 L455.23 -24.07 L458.93 -25.89 L462.62 -27.61 L466.32 -29.24 L470.02 -30.77 L473.71 -32.21 L477.41 -33.56 L481.11 -34.83 L484.8 -36.01 L488.5 -37.1 L492.19 -38.1 L495.89 -39.03 L499.59 -39.87 L503.28 -40.63 L506.98 -41.3 L510.68 -41.9 L514.37 -42.41 L518.07 -42.85 L521.76 -43.2 L525.46 -43.48 L529.16 -43.68 L532.85 -43.79 L536.55 -43.83 L540.25 -43.87 L543.94 -43.97 L547.64 -44.14 L551.34 -44.37 L555.03 -44.67 L558.73 -45.05 L562.42 -45.48 L566.12 -45.99 L569.82 -46.57 L573.51 -47.21 L577.21 -47.93 L580.9 -48.72 L584.6 -49.57 L588.3 -50.5 L591.99 -51.5 L595.69 -52.57 L599.39 -53.72 L603.08 -54.94 L606.78 -56.23 L610.47 -57.6 L614.17 -59.05 L617.87 -60.58 L621.56 -62.19 L625.26 -63.88 L628.96 -65.65 L632.65 -67.5 L636.35 -69.45 L640.05 -71.47 L643.74 -73.59 L647.44 -75.8 L651.13 -78.1 L654.83 -80.5 L658.53 -83 L662.22 -85.59 L665.92 -88.29 L669.62 -91.1 L673.31 -94.02 L677.01 -97.04 L680.7 -100.19 L684.4 -103.45 M388.7 -2.59 L392.4 -5.98 L396.09 -9.49 L399.79 -13.14 L403.49 -16.73 L407.18 -20.18 L410.88 -23.48 L414.57 -26.65 L418.27 -29.69 L421.97 -32.6 L425.66 -35.38 L429.36 -38.05 L433.06 -40.6 L436.75 -43.04 L440.45 -45.37 L444.14 -47.59 L447.84 -49.7 L451.54 -51.72 L455.23 -53.63 L458.93 -55.45 L462.62 -57.16 L466.32 -58.79 L470.02 -60.32 L473.71 -61.77 L477.41 -63.12 L481.11 -64.38 L484.8 -65.56 L488.5 -66.65 L492.19 -67.66 L495.89 -68.58 L499.59 -69.42 L503.28 -70.18 L506.98 -70.86 L510.68 -71.45 L514.37 -71.97 L518.07 -72.4 L521.76 -72.76 L525.46 -73.03 L529.16 -73.23 L532.85 -73.35 L536.55 -73.39 L540.25 -73.42 L543.94 -73.52 L547.64 -73.69 L551.34 -73.93 L555.03 -74.23 L558.73 -74.6 L562.42 -75.04 L566.12 -75.55 L569.82 -76.12 L573.51 -76.77 L577.21 -77.49 L580.9 -78.27 L584.6 -79.13 L588.3 -80.05 L591.99 -81.05 L595.69 -82.13 L599.39 -83.27 L603.08 -84.49 L606.78 -85.79 L610.47 -87.16 L614.17 -88.61 L617.87 -90.14 L621.56 -91.74 L625.26 -93.43 L628.96 -95.2 L632.65 -97.06 L636.35 -99 L640.05 -101.03 L643.74 -103.15 L647.44 -105.36 L651.13 -107.66 L654.83 -110.06 L658.53 -112.55 L662.22 -115.15 L665.92 -117.85 L669.62 -120.66 L673.31 -123.57 L677.01 -126.6 L680.7 -129.74 L684.4 -133.01"/><path class="gd" d="M388.7 213.48 L392.4 209.86 L396.09 206.38 L399.79 203.03 L403.49 199.81 L407.18 196.72 L410.88 193.75 L414.57 190.89 L418.27 188.15 L421.97 185.52 L425.66 183 L429.36 180.58 L433.06 178.27 L436.75 176.06 L440.45 173.94 L444.14 171.92 L447.84 169.99 L451.54 168.15 L455.23 166.4 L458.93 164.74 L462.62 163.17 L466.32 161.68 L470.02 160.28 L473.71 158.96 L477.41 157.72 L481.11 156.56 L484.8 155.48 L488.5 154.47 L492.19 153.55 L495.89 152.7 L499.59 151.93 L503.28 151.23 L506.98 150.61 L510.68 150.06 L514.37 149.58 L518.07 149.18 L521.76 148.86 L525.46 148.6 L529.16 148.42 L532.85 148.31 L536.55 148.28 L540.25 148.24 L543.94 148.13 L547.64 147.95 L551.34 147.69 L555.03 147.37 L558.73 146.97 L562.42 146.49 L566.12 145.94 L569.82 145.32 L573.51 144.62 L577.21 143.85 L580.9 143 L584.6 142.08 L588.3 141.07 L591.99 139.99 L595.69 138.83 L599.39 137.59 L603.08 136.27 L606.78 134.87 L610.47 133.38 L614.17 131.81 L617.87 130.15 L621.56 128.4 L625.26 126.56 L628.96 124.63 L632.65 122.61 L636.35 120.49 L640.05 118.28 L643.74 115.97 L647.44 113.55 L651.13 111.03 L654.83 108.4 L658.53 105.66 L662.22 102.8 L665.92 99.83 L669.62 96.74 L673.31 93.52 L677.01 90.17 L680.7 86.69 L684.4 83.07"/></g><rect class="sp" x="388.70" y="0.50" width="295.70" height="295.55"/><line x1="418.27" y1="296.05" x2="418.27" y2="298.25" class="tk"/><line x1="386.50" y1="266.50" x2="388.70" y2="266.50" class="tk"/><text class="tl" x="404.67" y="308.65" textLength="27.2" lengthAdjust="spacingAndGlyphs">−0.4</text><text class="tl" x="357.60" y="271.00" textLength="27.2" lengthAdjust="spacingAndGlyphs">−0.4</text><line x1="477.41" y1="296.05" x2="477.41" y2="298.25" class="tk"/><line x1="386.50" y1="207.38" x2="388.70" y2="207.38" class="tk"/><text class="tl" x="463.81" y="308.65" textLength="27.2" lengthAdjust="spacingAndGlyphs">−0.2</text><text class="tl" x="357.60" y="211.88" textLength="27.2" lengthAdjust="spacingAndGlyphs">−0.2</text><line x1="536.55" y1="296.05" x2="536.55" y2="298.25" class="tk"/><line x1="386.50" y1="148.28" x2="388.70" y2="148.28" class="tk"/><text class="tl" x="527.65" y="308.65" textLength="17.8" lengthAdjust="spacingAndGlyphs">0.0</text><text class="tl" x="367.00" y="152.78" textLength="17.8" lengthAdjust="spacingAndGlyphs">0.0</text><line x1="595.69" y1="296.05" x2="595.69" y2="298.25" class="tk"/><line x1="386.50" y1="89.17" x2="388.70" y2="89.17" class="tk"/><text class="tl" x="586.79" y="308.65" textLength="17.8" lengthAdjust="spacingAndGlyphs">0.2</text><text class="tl" x="367.00" y="93.67" textLength="17.8" lengthAdjust="spacingAndGlyphs">0.2</text><line x1="654.83" y1="296.05" x2="654.83" y2="298.25" class="tk"/><line x1="386.50" y1="30.06" x2="388.70" y2="30.06" class="tk"/><text class="tl" x="645.93" y="308.65" textLength="17.8" lengthAdjust="spacingAndGlyphs">0.4</text><text class="tl" x="367.00" y="34.56" textLength="17.8" lengthAdjust="spacingAndGlyphs">0.4</text>
<g class="cap"><text class="b big" x="47.6" y="343.1">(</text><text class="b" x="54.2" y="342.4" textLength="9.2" lengthAdjust="spacingAndGlyphs">a</text><text class="b big" x="64.4" y="343.1">)</text><text class="big" x="78.3" y="343.1">[</text><text class="ang" x="83.6" y="344.4">⟨</text><text x="90.5" y="342.4" textLength="33.3" lengthAdjust="spacingAndGlyphs">0, 45</text><text class="ang" x="123.0" y="344.4">⟩</text><text class="big" x="130.0" y="343.1">]</text><text x="142.1" y="342.4" textLength="33.0" lengthAdjust="spacingAndGlyphs">with</text><text x="181.1" y="342.4" textLength="67.8" lengthAdjust="spacingAndGlyphs">complete</text><text x="255.1" y="342.4" textLength="27.0" lengthAdjust="spacingAndGlyphs">gap</text><text class="b big" x="391.3" y="343.1">(</text><text class="b" x="397.9" y="342.4" textLength="10.6" lengthAdjust="spacingAndGlyphs">b</text><text class="b big" x="409.5" y="343.1">)</text><text class="big" x="423.8" y="343.1">[</text><text class="ang" x="429.1" y="344.4">⟨</text><text x="436.0" y="342.4" textLength="33.3" lengthAdjust="spacingAndGlyphs">0, 45</text><text class="ang" x="468.5" y="344.4">⟩</text><text class="big" x="475.5" y="343.1">]</text><text x="487.6" y="342.4" textLength="33.0" lengthAdjust="spacingAndGlyphs">with</text><text x="526.6" y="342.4" textLength="67.8" lengthAdjust="spacingAndGlyphs">complete</text><text x="600.6" y="342.4" textLength="54.2" lengthAdjust="spacingAndGlyphs">overlap</text></g>
</svg>
</body></html>
